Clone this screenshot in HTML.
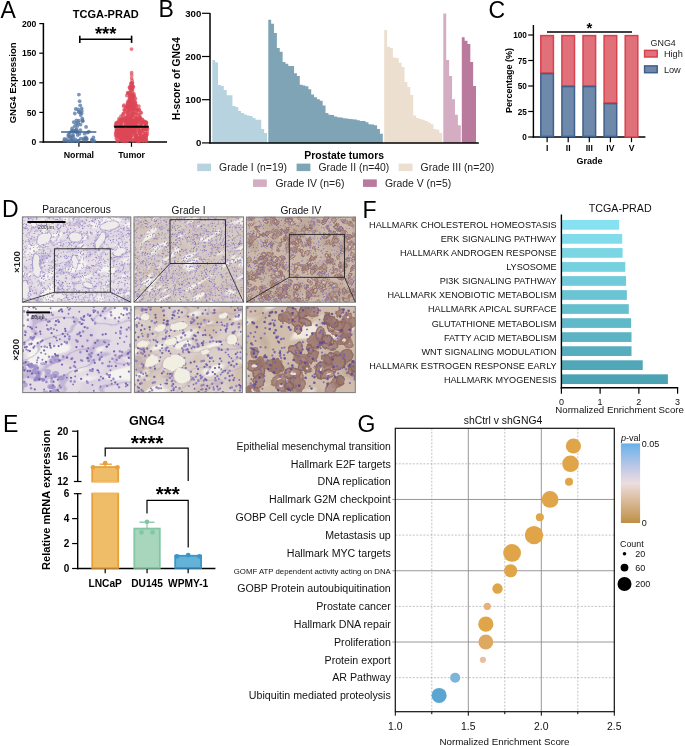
<!DOCTYPE html>
<html><head><meta charset="utf-8"><style>
html,body{margin:0;padding:0;background:#fff;}
body{width:685px;height:746px;overflow:hidden;}
svg{display:block;font-family:"Liberation Sans",sans-serif;will-change:transform;filter:blur(0.35px);}
</style></head><body>
<svg width="685" height="746" viewBox="0 0 685 746" font-family="Liberation Sans, sans-serif">
<rect width="685" height="746" fill="#fff"/>
<text x="0.50" y="18.00" font-size="23" text-anchor="start" fill="#000" >A</text>
<text x="158.50" y="17.20" font-size="23" text-anchor="start" fill="#000" >B</text>
<text x="488.50" y="18.20" font-size="23" text-anchor="start" fill="#000" >C</text>
<text x="2.00" y="217.40" font-size="23" text-anchor="start" fill="#000" >D</text>
<text x="3.00" y="431.50" font-size="23" text-anchor="start" fill="#000" >E</text>
<text x="362.50" y="217.90" font-size="23" text-anchor="start" fill="#000" >F</text>
<text x="357.50" y="431.90" font-size="23" text-anchor="start" fill="#000" >G</text>
<line x1="43.40" y1="23.00" x2="43.40" y2="142.70" stroke="#000" stroke-width="1.5" />
<line x1="42.70" y1="142.00" x2="167.00" y2="142.00" stroke="#000" stroke-width="1.5" />
<line x1="39.30" y1="142.00" x2="43.40" y2="142.00" stroke="#000" stroke-width="1.2" />
<text x="36.30" y="145.10" font-size="8.6" font-weight="bold" text-anchor="end" fill="#000" >0</text>
<line x1="39.30" y1="112.40" x2="43.40" y2="112.40" stroke="#000" stroke-width="1.2" />
<text x="36.30" y="115.50" font-size="8.6" font-weight="bold" text-anchor="end" fill="#000" >50</text>
<line x1="39.30" y1="82.80" x2="43.40" y2="82.80" stroke="#000" stroke-width="1.2" />
<text x="36.30" y="85.90" font-size="8.6" font-weight="bold" text-anchor="end" fill="#000" >100</text>
<line x1="39.30" y1="53.20" x2="43.40" y2="53.20" stroke="#000" stroke-width="1.2" />
<text x="36.30" y="56.30" font-size="8.6" font-weight="bold" text-anchor="end" fill="#000" >150</text>
<line x1="39.30" y1="23.60" x2="43.40" y2="23.60" stroke="#000" stroke-width="1.2" />
<text x="36.30" y="26.70" font-size="8.6" font-weight="bold" text-anchor="end" fill="#000" >200</text>
<line x1="78.90" y1="142.00" x2="78.90" y2="146.80" stroke="#000" stroke-width="1.2" />
<line x1="131.50" y1="142.00" x2="131.50" y2="146.80" stroke="#000" stroke-width="1.2" />
<text x="78.90" y="157.60" font-size="8.8" font-weight="bold" text-anchor="middle" fill="#000" >Normal</text>
<text x="131.70" y="157.60" font-size="8.8" font-weight="bold" text-anchor="middle" fill="#000" >Tumor</text>
<text x="105.80" y="18.00" font-size="11.0" font-weight="bold" text-anchor="middle" fill="#000" >TCGA-PRAD</text>
<text transform="translate(16.00,82.90) rotate(-90)" font-size="9.5" font-weight="bold" text-anchor="middle" fill="#000">GNG4 Expression</text>
<line x1="79.80" y1="39.30" x2="131.60" y2="39.30" stroke="#000" stroke-width="1.6" />
<line x1="79.80" y1="35.70" x2="79.80" y2="42.90" stroke="#000" stroke-width="1.6" />
<line x1="131.60" y1="35.70" x2="131.60" y2="42.90" stroke="#000" stroke-width="1.6" />
<text x="105.65" y="40.00" font-size="18.4" font-weight="bold" text-anchor="middle" fill="#000" >***</text>
<g fill="#5274a1" fill-opacity="0.75">
<circle cx="86.0" cy="139.9" r="1.9"/>
<circle cx="64.2" cy="140.7" r="1.9"/>
<circle cx="86.0" cy="138.3" r="1.9"/>
<circle cx="77.3" cy="141.1" r="1.9"/>
<circle cx="86.9" cy="138.9" r="1.9"/>
<circle cx="83.6" cy="139.7" r="1.9"/>
<circle cx="71.9" cy="141.1" r="1.9"/>
<circle cx="64.5" cy="139.0" r="1.9"/>
<circle cx="92.9" cy="141.2" r="1.9"/>
<circle cx="66.9" cy="139.4" r="1.9"/>
<circle cx="78.0" cy="141.1" r="1.9"/>
<circle cx="73.8" cy="141.0" r="1.9"/>
<circle cx="72.4" cy="139.4" r="1.9"/>
<circle cx="85.8" cy="137.5" r="1.9"/>
<circle cx="94.4" cy="140.8" r="1.9"/>
<circle cx="71.1" cy="140.4" r="1.9"/>
<circle cx="83.7" cy="138.4" r="1.9"/>
<circle cx="73.3" cy="136.9" r="1.9"/>
<circle cx="80.7" cy="138.7" r="1.9"/>
<circle cx="75.5" cy="139.5" r="1.9"/>
<circle cx="69.7" cy="136.8" r="1.9"/>
<circle cx="67.8" cy="141.2" r="1.9"/>
<circle cx="70.5" cy="137.3" r="1.9"/>
<circle cx="92.0" cy="140.0" r="1.9"/>
<circle cx="78.8" cy="140.7" r="1.9"/>
<circle cx="69.8" cy="140.9" r="1.9"/>
<circle cx="92.0" cy="139.9" r="1.9"/>
<circle cx="93.4" cy="137.5" r="1.9"/>
<circle cx="77.7" cy="135.0" r="1.9"/>
<circle cx="71.4" cy="131.2" r="1.9"/>
<circle cx="72.6" cy="130.6" r="1.9"/>
<circle cx="69.7" cy="133.1" r="1.9"/>
<circle cx="75.6" cy="131.5" r="1.9"/>
<circle cx="68.2" cy="136.1" r="1.9"/>
<circle cx="72.0" cy="136.1" r="1.9"/>
<circle cx="73.1" cy="134.7" r="1.9"/>
<circle cx="80.3" cy="130.2" r="1.9"/>
<circle cx="87.5" cy="132.6" r="1.9"/>
<circle cx="84.6" cy="133.7" r="1.9"/>
<circle cx="77.1" cy="131.1" r="1.9"/>
<circle cx="77.0" cy="132.4" r="1.9"/>
<circle cx="79.5" cy="133.8" r="1.9"/>
<circle cx="76.5" cy="129.1" r="1.9"/>
<circle cx="75.7" cy="130.1" r="1.9"/>
<circle cx="68.6" cy="134.4" r="1.9"/>
<circle cx="74.2" cy="131.2" r="1.9"/>
<circle cx="88.9" cy="131.7" r="1.9"/>
<circle cx="72.1" cy="128.4" r="1.9"/>
<circle cx="78.9" cy="120.7" r="1.9"/>
<circle cx="80.5" cy="124.6" r="1.9"/>
<circle cx="82.2" cy="118.5" r="1.9"/>
<circle cx="74.7" cy="126.2" r="1.9"/>
<circle cx="76.2" cy="123.5" r="1.9"/>
<circle cx="76.4" cy="120.5" r="1.9"/>
<circle cx="77.5" cy="125.9" r="1.9"/>
<circle cx="78.3" cy="122.9" r="1.9"/>
<circle cx="86.1" cy="126.9" r="1.9"/>
<circle cx="82.6" cy="121.3" r="1.9"/>
<circle cx="82.7" cy="120.4" r="1.9"/>
<circle cx="73.7" cy="122.1" r="1.9"/>
<circle cx="75.8" cy="109.0" r="1.9"/>
<circle cx="80.7" cy="115.0" r="1.9"/>
<circle cx="81.8" cy="110.9" r="1.9"/>
<circle cx="78.7" cy="112.0" r="1.9"/>
<circle cx="79.6" cy="112.1" r="1.9"/>
<circle cx="74.8" cy="113.5" r="1.9"/>
<circle cx="78.2" cy="109.4" r="1.9"/>
<circle cx="81.6" cy="108.3" r="1.9"/>
<circle cx="81.6" cy="113.3" r="1.9"/>
<circle cx="80.2" cy="105.3" r="1.9"/>
<circle cx="79.6" cy="101.2" r="1.9"/>
<circle cx="78.9" cy="94.6" r="1.9"/>
</g>
<g fill="#dd4755" fill-opacity="0.7">
<circle cx="118.7" cy="126.1" r="1.9"/>
<circle cx="120.9" cy="140.0" r="1.9"/>
<circle cx="132.2" cy="125.2" r="1.9"/>
<circle cx="137.5" cy="126.5" r="1.9"/>
<circle cx="140.6" cy="118.5" r="1.9"/>
<circle cx="138.1" cy="122.4" r="1.9"/>
<circle cx="136.2" cy="134.8" r="1.9"/>
<circle cx="140.1" cy="132.5" r="1.9"/>
<circle cx="130.1" cy="126.0" r="1.9"/>
<circle cx="133.1" cy="140.9" r="1.9"/>
<circle cx="116.6" cy="130.7" r="1.9"/>
<circle cx="140.4" cy="137.5" r="1.9"/>
<circle cx="123.2" cy="138.7" r="1.9"/>
<circle cx="144.4" cy="140.0" r="1.9"/>
<circle cx="136.2" cy="123.7" r="1.9"/>
<circle cx="125.4" cy="138.4" r="1.9"/>
<circle cx="119.6" cy="135.7" r="1.9"/>
<circle cx="123.5" cy="132.4" r="1.9"/>
<circle cx="135.3" cy="121.3" r="1.9"/>
<circle cx="137.6" cy="139.5" r="1.9"/>
<circle cx="118.9" cy="131.0" r="1.9"/>
<circle cx="117.5" cy="128.7" r="1.9"/>
<circle cx="132.2" cy="121.0" r="1.9"/>
<circle cx="134.0" cy="122.5" r="1.9"/>
<circle cx="128.3" cy="121.5" r="1.9"/>
<circle cx="122.6" cy="135.0" r="1.9"/>
<circle cx="134.8" cy="131.8" r="1.9"/>
<circle cx="115.7" cy="133.1" r="1.9"/>
<circle cx="126.0" cy="121.0" r="1.9"/>
<circle cx="130.9" cy="119.3" r="1.9"/>
<circle cx="145.9" cy="137.9" r="1.9"/>
<circle cx="136.1" cy="137.3" r="1.9"/>
<circle cx="143.8" cy="136.1" r="1.9"/>
<circle cx="130.7" cy="136.0" r="1.9"/>
<circle cx="122.9" cy="130.2" r="1.9"/>
<circle cx="123.2" cy="127.8" r="1.9"/>
<circle cx="146.3" cy="135.3" r="1.9"/>
<circle cx="137.7" cy="141.3" r="1.9"/>
<circle cx="125.3" cy="131.7" r="1.9"/>
<circle cx="116.1" cy="132.9" r="1.9"/>
<circle cx="131.4" cy="128.3" r="1.9"/>
<circle cx="134.3" cy="119.4" r="1.9"/>
<circle cx="128.9" cy="125.5" r="1.9"/>
<circle cx="123.6" cy="129.5" r="1.9"/>
<circle cx="137.0" cy="127.1" r="1.9"/>
<circle cx="145.5" cy="125.8" r="1.9"/>
<circle cx="123.1" cy="140.2" r="1.9"/>
<circle cx="118.9" cy="120.6" r="1.9"/>
<circle cx="126.4" cy="123.4" r="1.9"/>
<circle cx="129.3" cy="121.2" r="1.9"/>
<circle cx="137.1" cy="123.0" r="1.9"/>
<circle cx="121.7" cy="132.3" r="1.9"/>
<circle cx="141.1" cy="132.2" r="1.9"/>
<circle cx="138.9" cy="139.0" r="1.9"/>
<circle cx="131.7" cy="126.8" r="1.9"/>
<circle cx="122.5" cy="140.0" r="1.9"/>
<circle cx="145.9" cy="139.9" r="1.9"/>
<circle cx="125.5" cy="136.6" r="1.9"/>
<circle cx="141.6" cy="137.7" r="1.9"/>
<circle cx="122.8" cy="133.6" r="1.9"/>
<circle cx="123.0" cy="140.2" r="1.9"/>
<circle cx="139.4" cy="141.4" r="1.9"/>
<circle cx="125.1" cy="137.9" r="1.9"/>
<circle cx="145.5" cy="139.1" r="1.9"/>
<circle cx="131.4" cy="133.0" r="1.9"/>
<circle cx="122.0" cy="140.8" r="1.9"/>
<circle cx="123.8" cy="121.2" r="1.9"/>
<circle cx="128.8" cy="127.2" r="1.9"/>
<circle cx="136.7" cy="138.0" r="1.9"/>
<circle cx="145.9" cy="135.6" r="1.9"/>
<circle cx="120.1" cy="133.4" r="1.9"/>
<circle cx="128.1" cy="133.0" r="1.9"/>
<circle cx="122.6" cy="138.6" r="1.9"/>
<circle cx="145.2" cy="121.8" r="1.9"/>
<circle cx="125.1" cy="118.5" r="1.9"/>
<circle cx="117.0" cy="130.6" r="1.9"/>
<circle cx="117.2" cy="130.2" r="1.9"/>
<circle cx="128.2" cy="139.4" r="1.9"/>
<circle cx="143.8" cy="139.0" r="1.9"/>
<circle cx="143.9" cy="133.5" r="1.9"/>
<circle cx="139.0" cy="135.3" r="1.9"/>
<circle cx="146.3" cy="122.3" r="1.9"/>
<circle cx="145.1" cy="137.7" r="1.9"/>
<circle cx="126.3" cy="140.9" r="1.9"/>
<circle cx="125.8" cy="119.5" r="1.9"/>
<circle cx="145.7" cy="129.2" r="1.9"/>
<circle cx="139.2" cy="138.0" r="1.9"/>
<circle cx="116.2" cy="128.9" r="1.9"/>
<circle cx="136.5" cy="140.8" r="1.9"/>
<circle cx="127.5" cy="129.2" r="1.9"/>
<circle cx="129.6" cy="118.8" r="1.9"/>
<circle cx="126.7" cy="121.5" r="1.9"/>
<circle cx="120.6" cy="125.3" r="1.9"/>
<circle cx="115.6" cy="135.4" r="1.9"/>
<circle cx="124.4" cy="132.9" r="1.9"/>
<circle cx="126.8" cy="137.6" r="1.9"/>
<circle cx="146.0" cy="123.6" r="1.9"/>
<circle cx="119.2" cy="129.1" r="1.9"/>
<circle cx="146.2" cy="123.4" r="1.9"/>
<circle cx="122.1" cy="133.8" r="1.9"/>
<circle cx="126.9" cy="136.3" r="1.9"/>
<circle cx="141.3" cy="122.7" r="1.9"/>
<circle cx="137.1" cy="118.7" r="1.9"/>
<circle cx="129.6" cy="121.7" r="1.9"/>
<circle cx="117.7" cy="122.8" r="1.9"/>
<circle cx="130.7" cy="122.5" r="1.9"/>
<circle cx="127.3" cy="124.3" r="1.9"/>
<circle cx="144.9" cy="136.2" r="1.9"/>
<circle cx="121.5" cy="129.5" r="1.9"/>
<circle cx="127.1" cy="133.2" r="1.9"/>
<circle cx="143.6" cy="140.7" r="1.9"/>
<circle cx="117.2" cy="140.8" r="1.9"/>
<circle cx="128.6" cy="135.0" r="1.9"/>
<circle cx="141.5" cy="135.4" r="1.9"/>
<circle cx="140.3" cy="125.4" r="1.9"/>
<circle cx="121.2" cy="119.3" r="1.9"/>
<circle cx="116.4" cy="131.1" r="1.9"/>
<circle cx="120.2" cy="119.8" r="1.9"/>
<circle cx="139.8" cy="118.6" r="1.9"/>
<circle cx="127.4" cy="119.4" r="1.9"/>
<circle cx="139.5" cy="133.0" r="1.9"/>
<circle cx="144.2" cy="136.3" r="1.9"/>
<circle cx="126.4" cy="136.2" r="1.9"/>
<circle cx="124.3" cy="136.9" r="1.9"/>
<circle cx="146.1" cy="136.7" r="1.9"/>
<circle cx="135.3" cy="127.0" r="1.9"/>
<circle cx="125.1" cy="120.6" r="1.9"/>
<circle cx="137.8" cy="122.0" r="1.9"/>
<circle cx="125.5" cy="130.3" r="1.9"/>
<circle cx="124.1" cy="126.3" r="1.9"/>
<circle cx="116.2" cy="122.9" r="1.9"/>
<circle cx="139.4" cy="139.5" r="1.9"/>
<circle cx="145.2" cy="126.2" r="1.9"/>
<circle cx="135.1" cy="120.4" r="1.9"/>
<circle cx="145.5" cy="123.3" r="1.9"/>
<circle cx="115.9" cy="124.1" r="1.9"/>
<circle cx="122.9" cy="130.4" r="1.9"/>
<circle cx="130.7" cy="137.3" r="1.9"/>
<circle cx="145.8" cy="123.2" r="1.9"/>
<circle cx="146.1" cy="133.7" r="1.9"/>
<circle cx="128.0" cy="122.9" r="1.9"/>
<circle cx="127.4" cy="119.0" r="1.9"/>
<circle cx="129.2" cy="132.3" r="1.9"/>
<circle cx="131.3" cy="132.1" r="1.9"/>
<circle cx="142.4" cy="119.5" r="1.9"/>
<circle cx="121.0" cy="124.7" r="1.9"/>
<circle cx="141.0" cy="137.5" r="1.9"/>
<circle cx="138.9" cy="138.5" r="1.9"/>
<circle cx="141.6" cy="137.9" r="1.9"/>
<circle cx="138.8" cy="120.5" r="1.9"/>
<circle cx="134.8" cy="122.8" r="1.9"/>
<circle cx="126.1" cy="138.0" r="1.9"/>
<circle cx="126.1" cy="122.3" r="1.9"/>
<circle cx="129.4" cy="118.8" r="1.9"/>
<circle cx="140.8" cy="126.2" r="1.9"/>
<circle cx="117.9" cy="133.3" r="1.9"/>
<circle cx="121.6" cy="128.7" r="1.9"/>
<circle cx="139.4" cy="138.4" r="1.9"/>
<circle cx="123.8" cy="141.1" r="1.9"/>
<circle cx="122.4" cy="119.0" r="1.9"/>
<circle cx="116.2" cy="126.4" r="1.9"/>
<circle cx="133.2" cy="129.3" r="1.9"/>
<circle cx="127.0" cy="119.9" r="1.9"/>
<circle cx="147.1" cy="131.4" r="1.9"/>
<circle cx="142.2" cy="121.3" r="1.9"/>
<circle cx="146.0" cy="122.3" r="1.9"/>
<circle cx="124.0" cy="136.5" r="1.9"/>
<circle cx="118.2" cy="135.6" r="1.9"/>
<circle cx="118.5" cy="134.6" r="1.9"/>
<circle cx="131.5" cy="135.9" r="1.9"/>
<circle cx="138.4" cy="127.9" r="1.9"/>
<circle cx="129.8" cy="135.4" r="1.9"/>
<circle cx="122.9" cy="131.7" r="1.9"/>
<circle cx="128.9" cy="138.4" r="1.9"/>
<circle cx="134.7" cy="120.4" r="1.9"/>
<circle cx="137.1" cy="133.2" r="1.9"/>
<circle cx="139.5" cy="130.8" r="1.9"/>
<circle cx="142.8" cy="127.9" r="1.9"/>
<circle cx="135.9" cy="120.5" r="1.9"/>
<circle cx="119.2" cy="131.7" r="1.9"/>
<circle cx="140.5" cy="120.2" r="1.9"/>
<circle cx="124.8" cy="129.8" r="1.9"/>
<circle cx="133.7" cy="129.1" r="1.9"/>
<circle cx="127.4" cy="129.3" r="1.9"/>
<circle cx="138.7" cy="141.0" r="1.9"/>
<circle cx="121.8" cy="131.2" r="1.9"/>
<circle cx="123.5" cy="137.2" r="1.9"/>
<circle cx="123.8" cy="141.3" r="1.9"/>
<circle cx="120.8" cy="123.0" r="1.9"/>
<circle cx="143.6" cy="137.4" r="1.9"/>
<circle cx="134.0" cy="130.5" r="1.9"/>
<circle cx="125.8" cy="124.7" r="1.9"/>
<circle cx="128.1" cy="128.6" r="1.9"/>
<circle cx="147.3" cy="133.9" r="1.9"/>
<circle cx="131.7" cy="129.4" r="1.9"/>
<circle cx="122.7" cy="128.6" r="1.9"/>
<circle cx="141.2" cy="123.3" r="1.9"/>
<circle cx="136.3" cy="139.0" r="1.9"/>
<circle cx="147.5" cy="128.5" r="1.9"/>
<circle cx="118.8" cy="135.7" r="1.9"/>
<circle cx="130.7" cy="135.0" r="1.9"/>
<circle cx="141.7" cy="123.6" r="1.9"/>
<circle cx="142.6" cy="129.7" r="1.9"/>
<circle cx="145.0" cy="128.4" r="1.9"/>
<circle cx="116.6" cy="123.9" r="1.9"/>
<circle cx="126.0" cy="120.3" r="1.9"/>
<circle cx="119.2" cy="131.2" r="1.9"/>
<circle cx="121.3" cy="127.3" r="1.9"/>
<circle cx="146.9" cy="129.7" r="1.9"/>
<circle cx="134.2" cy="129.6" r="1.9"/>
<circle cx="145.7" cy="125.4" r="1.9"/>
<circle cx="127.4" cy="131.0" r="1.9"/>
<circle cx="143.4" cy="129.1" r="1.9"/>
<circle cx="129.8" cy="130.4" r="1.9"/>
<circle cx="125.3" cy="119.7" r="1.9"/>
<circle cx="140.6" cy="125.3" r="1.9"/>
<circle cx="143.9" cy="121.2" r="1.9"/>
<circle cx="121.4" cy="119.7" r="1.9"/>
<circle cx="134.6" cy="135.4" r="1.9"/>
<circle cx="135.4" cy="128.5" r="1.9"/>
<circle cx="124.3" cy="119.6" r="1.9"/>
<circle cx="127.7" cy="122.0" r="1.9"/>
<circle cx="120.3" cy="138.2" r="1.9"/>
<circle cx="122.3" cy="138.6" r="1.9"/>
<circle cx="123.6" cy="131.2" r="1.9"/>
<circle cx="134.6" cy="139.7" r="1.9"/>
<circle cx="136.4" cy="135.9" r="1.9"/>
<circle cx="122.4" cy="139.7" r="1.9"/>
<circle cx="115.4" cy="126.0" r="1.9"/>
<circle cx="126.1" cy="123.3" r="1.9"/>
<circle cx="136.3" cy="120.7" r="1.9"/>
<circle cx="121.6" cy="137.8" r="1.9"/>
<circle cx="125.3" cy="124.9" r="1.9"/>
<circle cx="121.8" cy="126.2" r="1.9"/>
<circle cx="140.7" cy="138.1" r="1.9"/>
<circle cx="132.8" cy="121.0" r="1.9"/>
<circle cx="122.3" cy="119.1" r="1.9"/>
<circle cx="118.8" cy="136.3" r="1.9"/>
<circle cx="129.9" cy="119.4" r="1.9"/>
<circle cx="133.1" cy="132.2" r="1.9"/>
<circle cx="136.0" cy="130.2" r="1.9"/>
<circle cx="123.6" cy="118.6" r="1.9"/>
<circle cx="121.6" cy="122.2" r="1.9"/>
<circle cx="137.6" cy="137.7" r="1.9"/>
<circle cx="128.6" cy="131.4" r="1.9"/>
<circle cx="124.4" cy="129.5" r="1.9"/>
<circle cx="125.3" cy="133.6" r="1.9"/>
<circle cx="145.9" cy="136.9" r="1.9"/>
<circle cx="125.5" cy="134.1" r="1.9"/>
<circle cx="133.7" cy="124.7" r="1.9"/>
<circle cx="127.2" cy="141.0" r="1.9"/>
<circle cx="128.8" cy="128.6" r="1.9"/>
<circle cx="143.3" cy="131.2" r="1.9"/>
<circle cx="146.6" cy="141.0" r="1.9"/>
<circle cx="127.1" cy="133.8" r="1.9"/>
<circle cx="121.6" cy="127.0" r="1.9"/>
<circle cx="138.9" cy="129.6" r="1.9"/>
<circle cx="122.4" cy="139.9" r="1.9"/>
<circle cx="119.1" cy="118.7" r="1.9"/>
<circle cx="144.1" cy="123.2" r="1.9"/>
<circle cx="130.4" cy="119.0" r="1.9"/>
<circle cx="141.4" cy="139.0" r="1.9"/>
<circle cx="128.5" cy="135.3" r="1.9"/>
<circle cx="143.2" cy="140.5" r="1.9"/>
<circle cx="130.3" cy="123.4" r="1.9"/>
<circle cx="120.7" cy="135.2" r="1.9"/>
<circle cx="116.4" cy="138.4" r="1.9"/>
<circle cx="133.2" cy="131.7" r="1.9"/>
<circle cx="135.3" cy="120.4" r="1.9"/>
<circle cx="143.8" cy="122.5" r="1.9"/>
<circle cx="118.3" cy="135.4" r="1.9"/>
<circle cx="135.3" cy="138.0" r="1.9"/>
<circle cx="128.1" cy="120.2" r="1.9"/>
<circle cx="131.6" cy="128.2" r="1.9"/>
<circle cx="119.8" cy="125.2" r="1.9"/>
<circle cx="124.8" cy="139.3" r="1.9"/>
<circle cx="132.1" cy="140.1" r="1.9"/>
<circle cx="145.5" cy="125.5" r="1.9"/>
<circle cx="118.8" cy="131.6" r="1.9"/>
<circle cx="131.2" cy="139.7" r="1.9"/>
<circle cx="139.4" cy="119.7" r="1.9"/>
<circle cx="146.8" cy="126.8" r="1.9"/>
<circle cx="122.2" cy="122.9" r="1.9"/>
<circle cx="120.0" cy="139.5" r="1.9"/>
<circle cx="144.2" cy="121.6" r="1.9"/>
<circle cx="146.1" cy="139.9" r="1.9"/>
<circle cx="131.0" cy="121.5" r="1.9"/>
<circle cx="117.0" cy="130.9" r="1.9"/>
<circle cx="145.2" cy="133.6" r="1.9"/>
<circle cx="127.8" cy="128.6" r="1.9"/>
<circle cx="142.1" cy="120.0" r="1.9"/>
<circle cx="135.4" cy="135.2" r="1.9"/>
<circle cx="141.6" cy="138.4" r="1.9"/>
<circle cx="120.4" cy="129.2" r="1.9"/>
<circle cx="140.7" cy="135.9" r="1.9"/>
<circle cx="122.9" cy="138.9" r="1.9"/>
<circle cx="128.5" cy="137.7" r="1.9"/>
<circle cx="142.1" cy="140.2" r="1.9"/>
<circle cx="142.0" cy="136.7" r="1.9"/>
<circle cx="121.3" cy="134.2" r="1.9"/>
<circle cx="122.4" cy="134.4" r="1.9"/>
<circle cx="128.3" cy="123.9" r="1.9"/>
<circle cx="132.1" cy="134.7" r="1.9"/>
<circle cx="127.7" cy="129.9" r="1.9"/>
<circle cx="119.6" cy="137.3" r="1.9"/>
<circle cx="123.3" cy="133.4" r="1.9"/>
<circle cx="138.3" cy="141.0" r="1.9"/>
<circle cx="144.2" cy="135.6" r="1.9"/>
<circle cx="117.6" cy="141.1" r="1.9"/>
<circle cx="133.6" cy="124.5" r="1.9"/>
<circle cx="139.9" cy="128.7" r="1.9"/>
<circle cx="116.9" cy="137.0" r="1.9"/>
<circle cx="142.5" cy="130.4" r="1.9"/>
<circle cx="121.6" cy="119.8" r="1.9"/>
<circle cx="134.6" cy="139.0" r="1.9"/>
<circle cx="133.0" cy="122.5" r="1.9"/>
<circle cx="135.6" cy="131.4" r="1.9"/>
<circle cx="125.2" cy="130.0" r="1.9"/>
<circle cx="129.1" cy="122.1" r="1.9"/>
<circle cx="134.2" cy="132.3" r="1.9"/>
<circle cx="129.1" cy="129.7" r="1.9"/>
<circle cx="136.7" cy="125.5" r="1.9"/>
<circle cx="130.7" cy="118.7" r="1.9"/>
<circle cx="129.5" cy="133.5" r="1.9"/>
<circle cx="117.4" cy="122.2" r="1.9"/>
<circle cx="135.4" cy="125.1" r="1.9"/>
<circle cx="131.2" cy="126.7" r="1.9"/>
<circle cx="122.9" cy="132.1" r="1.9"/>
<circle cx="140.0" cy="133.4" r="1.9"/>
<circle cx="140.1" cy="140.2" r="1.9"/>
<circle cx="130.2" cy="138.4" r="1.9"/>
<circle cx="121.6" cy="139.8" r="1.9"/>
<circle cx="130.6" cy="124.3" r="1.9"/>
<circle cx="118.9" cy="135.5" r="1.9"/>
<circle cx="119.8" cy="137.6" r="1.9"/>
<circle cx="129.4" cy="139.5" r="1.9"/>
<circle cx="119.6" cy="122.0" r="1.9"/>
<circle cx="129.9" cy="121.3" r="1.9"/>
<circle cx="131.8" cy="125.9" r="1.9"/>
<circle cx="116.8" cy="134.9" r="1.9"/>
<circle cx="135.9" cy="135.8" r="1.9"/>
<circle cx="118.1" cy="134.6" r="1.9"/>
<circle cx="139.1" cy="130.8" r="1.9"/>
<circle cx="140.2" cy="137.8" r="1.9"/>
<circle cx="131.9" cy="131.1" r="1.9"/>
<circle cx="117.2" cy="135.3" r="1.9"/>
<circle cx="131.6" cy="119.2" r="1.9"/>
<circle cx="129.6" cy="119.0" r="1.9"/>
<circle cx="146.2" cy="128.8" r="1.9"/>
<circle cx="119.8" cy="135.8" r="1.9"/>
<circle cx="134.7" cy="101.2" r="1.9"/>
<circle cx="141.3" cy="112.8" r="1.9"/>
<circle cx="134.3" cy="112.0" r="1.9"/>
<circle cx="136.8" cy="118.3" r="1.9"/>
<circle cx="127.7" cy="111.5" r="1.9"/>
<circle cx="139.1" cy="109.9" r="1.9"/>
<circle cx="131.4" cy="109.4" r="1.9"/>
<circle cx="139.7" cy="114.8" r="1.9"/>
<circle cx="136.9" cy="109.4" r="1.9"/>
<circle cx="125.7" cy="118.2" r="1.9"/>
<circle cx="135.4" cy="113.6" r="1.9"/>
<circle cx="139.3" cy="116.7" r="1.9"/>
<circle cx="125.1" cy="111.2" r="1.9"/>
<circle cx="129.4" cy="117.6" r="1.9"/>
<circle cx="135.5" cy="117.9" r="1.9"/>
<circle cx="126.8" cy="112.9" r="1.9"/>
<circle cx="137.7" cy="114.2" r="1.9"/>
<circle cx="129.2" cy="107.9" r="1.9"/>
<circle cx="135.1" cy="108.9" r="1.9"/>
<circle cx="127.8" cy="105.0" r="1.9"/>
<circle cx="131.5" cy="106.6" r="1.9"/>
<circle cx="136.4" cy="105.6" r="1.9"/>
<circle cx="128.9" cy="102.7" r="1.9"/>
<circle cx="128.7" cy="111.4" r="1.9"/>
<circle cx="131.6" cy="112.5" r="1.9"/>
<circle cx="130.1" cy="100.8" r="1.9"/>
<circle cx="122.8" cy="115.7" r="1.9"/>
<circle cx="128.3" cy="105.5" r="1.9"/>
<circle cx="127.8" cy="106.9" r="1.9"/>
<circle cx="139.9" cy="117.5" r="1.9"/>
<circle cx="133.0" cy="103.5" r="1.9"/>
<circle cx="135.4" cy="102.5" r="1.9"/>
<circle cx="127.9" cy="107.2" r="1.9"/>
<circle cx="134.3" cy="105.3" r="1.9"/>
<circle cx="127.5" cy="103.9" r="1.9"/>
<circle cx="131.9" cy="115.8" r="1.9"/>
<circle cx="132.8" cy="109.0" r="1.9"/>
<circle cx="130.1" cy="109.4" r="1.9"/>
<circle cx="135.2" cy="103.5" r="1.9"/>
<circle cx="131.9" cy="104.0" r="1.9"/>
<circle cx="132.1" cy="103.6" r="1.9"/>
<circle cx="136.0" cy="107.9" r="1.9"/>
<circle cx="127.6" cy="102.5" r="1.9"/>
<circle cx="138.8" cy="106.2" r="1.9"/>
<circle cx="132.6" cy="106.0" r="1.9"/>
<circle cx="130.2" cy="114.2" r="1.9"/>
<circle cx="136.3" cy="117.8" r="1.9"/>
<circle cx="128.2" cy="116.0" r="1.9"/>
<circle cx="140.4" cy="111.9" r="1.9"/>
<circle cx="132.5" cy="116.5" r="1.9"/>
<circle cx="130.4" cy="103.5" r="1.9"/>
<circle cx="134.3" cy="108.4" r="1.9"/>
<circle cx="131.0" cy="107.2" r="1.9"/>
<circle cx="128.0" cy="107.2" r="1.9"/>
<circle cx="133.9" cy="106.2" r="1.9"/>
<circle cx="125.1" cy="109.6" r="1.9"/>
<circle cx="136.9" cy="118.3" r="1.9"/>
<circle cx="129.3" cy="104.2" r="1.9"/>
<circle cx="132.7" cy="105.0" r="1.9"/>
<circle cx="139.0" cy="109.4" r="1.9"/>
<circle cx="132.3" cy="108.8" r="1.9"/>
<circle cx="133.0" cy="106.6" r="1.9"/>
<circle cx="128.9" cy="117.1" r="1.9"/>
<circle cx="124.0" cy="105.2" r="1.9"/>
<circle cx="123.2" cy="113.8" r="1.9"/>
<circle cx="125.8" cy="117.0" r="1.9"/>
<circle cx="132.9" cy="113.6" r="1.9"/>
<circle cx="130.9" cy="105.4" r="1.9"/>
<circle cx="131.6" cy="114.7" r="1.9"/>
<circle cx="135.8" cy="105.2" r="1.9"/>
<circle cx="128.2" cy="101.0" r="1.9"/>
<circle cx="128.5" cy="109.5" r="1.9"/>
<circle cx="133.2" cy="111.5" r="1.9"/>
<circle cx="124.1" cy="109.8" r="1.9"/>
<circle cx="123.8" cy="106.2" r="1.9"/>
<circle cx="130.3" cy="104.7" r="1.9"/>
<circle cx="126.9" cy="107.4" r="1.9"/>
<circle cx="130.2" cy="106.9" r="1.9"/>
<circle cx="127.4" cy="116.9" r="1.9"/>
<circle cx="132.5" cy="115.7" r="1.9"/>
<circle cx="132.5" cy="113.8" r="1.9"/>
<circle cx="128.6" cy="105.1" r="1.9"/>
<circle cx="132.9" cy="112.9" r="1.9"/>
<circle cx="131.3" cy="108.2" r="1.9"/>
<circle cx="125.0" cy="118.1" r="1.9"/>
<circle cx="139.7" cy="117.2" r="1.9"/>
<circle cx="128.2" cy="113.5" r="1.9"/>
<circle cx="127.7" cy="106.4" r="1.9"/>
<circle cx="126.9" cy="106.0" r="1.9"/>
<circle cx="132.7" cy="106.3" r="1.9"/>
<circle cx="136.9" cy="113.2" r="1.9"/>
<circle cx="134.6" cy="109.1" r="1.9"/>
<circle cx="130.5" cy="110.1" r="1.9"/>
<circle cx="128.9" cy="110.0" r="1.9"/>
<circle cx="121.1" cy="116.2" r="1.9"/>
<circle cx="132.6" cy="102.4" r="1.9"/>
<circle cx="132.2" cy="114.8" r="1.9"/>
<circle cx="130.4" cy="100.9" r="1.9"/>
<circle cx="132.6" cy="101.7" r="1.9"/>
<circle cx="130.7" cy="118.0" r="1.9"/>
<circle cx="137.6" cy="110.2" r="1.9"/>
<circle cx="133.5" cy="103.8" r="1.9"/>
<circle cx="129.5" cy="101.1" r="1.9"/>
<circle cx="136.9" cy="110.3" r="1.9"/>
<circle cx="123.7" cy="113.5" r="1.9"/>
<circle cx="131.9" cy="114.6" r="1.9"/>
<circle cx="130.8" cy="101.5" r="1.9"/>
<circle cx="127.9" cy="114.6" r="1.9"/>
<circle cx="125.7" cy="108.0" r="1.9"/>
<circle cx="135.5" cy="115.8" r="1.9"/>
<circle cx="127.8" cy="92.8" r="1.9"/>
<circle cx="131.6" cy="86.5" r="1.9"/>
<circle cx="135.5" cy="98.6" r="1.9"/>
<circle cx="130.1" cy="88.4" r="1.9"/>
<circle cx="129.9" cy="93.0" r="1.9"/>
<circle cx="131.8" cy="87.4" r="1.9"/>
<circle cx="131.5" cy="90.2" r="1.9"/>
<circle cx="132.4" cy="97.1" r="1.9"/>
<circle cx="132.6" cy="87.3" r="1.9"/>
<circle cx="129.6" cy="93.4" r="1.9"/>
<circle cx="130.1" cy="100.2" r="1.9"/>
<circle cx="130.0" cy="100.5" r="1.9"/>
<circle cx="128.4" cy="93.3" r="1.9"/>
<circle cx="134.0" cy="93.9" r="1.9"/>
<circle cx="133.3" cy="96.1" r="1.9"/>
<circle cx="133.0" cy="98.5" r="1.9"/>
<circle cx="126.9" cy="95.5" r="1.9"/>
<circle cx="133.8" cy="95.9" r="1.9"/>
<circle cx="132.4" cy="88.1" r="1.9"/>
<circle cx="131.3" cy="100.5" r="1.9"/>
<circle cx="132.4" cy="89.4" r="1.9"/>
<circle cx="131.4" cy="88.1" r="1.9"/>
<circle cx="129.5" cy="98.8" r="1.9"/>
<circle cx="130.1" cy="86.8" r="1.9"/>
<circle cx="130.4" cy="90.0" r="1.9"/>
<circle cx="129.5" cy="87.2" r="1.9"/>
<circle cx="130.5" cy="96.3" r="1.9"/>
<circle cx="133.0" cy="95.1" r="1.9"/>
<circle cx="132.6" cy="94.7" r="1.9"/>
<circle cx="132.5" cy="85.8" r="1.9"/>
<circle cx="132.5" cy="91.8" r="1.9"/>
<circle cx="130.1" cy="95.2" r="1.9"/>
<circle cx="131.8" cy="94.2" r="1.9"/>
<circle cx="131.1" cy="96.5" r="1.9"/>
<circle cx="133.8" cy="99.8" r="1.9"/>
<circle cx="131.6" cy="99.1" r="1.9"/>
<circle cx="130.7" cy="88.2" r="1.9"/>
<circle cx="132.3" cy="96.3" r="1.9"/>
<circle cx="133.4" cy="86.7" r="1.9"/>
<circle cx="129.6" cy="96.9" r="1.9"/>
<circle cx="134.3" cy="96.6" r="1.9"/>
<circle cx="127.9" cy="93.0" r="1.9"/>
<circle cx="129.9" cy="97.8" r="1.9"/>
<circle cx="129.9" cy="95.0" r="1.9"/>
<circle cx="132.2" cy="86.4" r="1.9"/>
<circle cx="132.4" cy="83.1" r="1.9"/>
<circle cx="131.9" cy="83.4" r="1.9"/>
<circle cx="131.2" cy="83.9" r="1.9"/>
<circle cx="132.1" cy="83.1" r="1.9"/>
<circle cx="131.3" cy="83.0" r="1.9"/>
<circle cx="131.0" cy="84.1" r="1.9"/>
<circle cx="132.1" cy="80.4" r="1.9"/>
<circle cx="131.6" cy="78.1" r="1.9"/>
<circle cx="131.7" cy="75.1" r="1.9"/>
<circle cx="131.6" cy="72.7" r="1.9"/>
<circle cx="131.5" cy="49.1" r="1.9"/>
</g>
<line x1="61.10" y1="132.10" x2="96.30" y2="132.10" stroke="#3f6596" stroke-width="1.5" />
<line x1="114.20" y1="126.80" x2="148.70" y2="126.80" stroke="#000" stroke-width="2.0" />
<path d="M212.30,142.9 L212.30,60.05 L215.18,60.05 L215.18,62.30 L218.06,62.30 L218.06,85.10 L220.94,85.10 L220.94,86.00 L223.82,86.00 L223.82,90.00 L226.70,90.00 L226.70,95.30 L229.58,95.30 L229.58,95.30 L232.46,95.30 L232.46,106.00 L235.34,106.00 L235.34,107.00 L238.22,107.00 L238.22,111.00 L241.10,111.00 L241.10,113.00 L243.98,113.00 L243.98,114.60 L246.86,114.60 L246.86,115.40 L249.74,115.40 L249.74,116.00 L252.62,116.00 L252.62,118.00 L255.50,118.00 L255.50,119.70 L258.38,119.70 L258.38,119.70 L261.26,119.70 L261.26,129.00 L264.14,129.00 L264.14,133.00 L267.02,133.00 L267.02,142.9 Z" fill="#b8d3e0"/>
<path d="M268.30,142.9 L268.30,19.80 L271.16,19.80 L271.16,23.70 L274.02,23.70 L274.02,33.00 L276.89,33.00 L276.89,47.90 L279.75,47.90 L279.75,51.70 L282.61,51.70 L282.61,62.00 L285.47,62.00 L285.47,63.80 L288.33,63.80 L288.33,65.90 L291.20,65.90 L291.20,65.90 L294.06,65.90 L294.06,73.20 L296.92,73.20 L296.92,76.00 L299.78,76.00 L299.78,84.70 L302.64,84.70 L302.64,85.60 L305.51,85.60 L305.51,86.20 L308.37,86.20 L308.37,89.20 L311.23,89.20 L311.23,94.60 L314.09,94.60 L314.09,97.20 L316.95,97.20 L316.95,99.20 L319.82,99.20 L319.82,100.80 L322.68,100.80 L322.68,105.50 L325.54,105.50 L325.54,113.00 L328.40,113.00 L328.40,114.70 L331.26,114.70 L331.26,115.00 L334.13,115.00 L334.13,116.50 L336.99,116.50 L336.99,117.20 L339.85,117.20 L339.85,117.60 L342.71,117.60 L342.71,118.30 L345.57,118.30 L345.57,118.60 L348.44,118.60 L348.44,118.90 L351.30,118.90 L351.30,119.20 L354.16,119.20 L354.16,119.60 L357.02,119.60 L357.02,120.20 L359.88,120.20 L359.88,120.90 L362.75,120.90 L362.75,121.00 L365.61,121.00 L365.61,122.20 L368.47,122.20 L368.47,124.20 L371.33,124.20 L371.33,124.60 L374.19,124.60 L374.19,125.20 L377.06,125.20 L377.06,129.00 L379.92,129.00 L379.92,133.80 L382.78,133.80 L382.78,142.9 Z" fill="#7ea4b6"/>
<path d="M384.20,142.9 L384.20,30.10 L387.10,30.10 L387.10,46.70 L390.00,46.70 L390.00,47.90 L392.90,47.90 L392.90,57.50 L395.80,57.50 L395.80,58.00 L398.70,58.00 L398.70,62.70 L401.60,62.70 L401.60,67.00 L404.50,67.00 L404.50,81.90 L407.40,81.90 L407.40,87.10 L410.30,87.10 L410.30,94.90 L413.20,94.90 L413.20,115.50 L416.10,115.50 L416.10,117.90 L419.00,117.90 L419.00,119.00 L421.90,119.00 L421.90,119.70 L424.80,119.70 L424.80,121.10 L427.70,121.10 L427.70,122.50 L430.60,122.50 L430.60,124.20 L433.50,124.20 L433.50,128.90 L436.40,128.90 L436.40,129.80 L439.30,129.80 L439.30,132.90 L442.20,132.90 L442.20,142.9 Z" fill="#ecdfd0"/>
<path d="M443.30,142.9 L443.30,13.50 L446.22,13.50 L446.22,60.00 L449.14,60.00 L449.14,76.00 L452.06,76.00 L452.06,99.20 L454.98,99.20 L454.98,114.70 L457.90,114.70 L457.90,125.20 L460.82,125.20 L460.82,142.9 Z" fill="#d4adc3"/>
<path d="M461.80,142.9 L461.80,37.20 L464.64,37.20 L464.64,40.80 L467.48,40.80 L467.48,43.90 L470.32,43.90 L470.32,62.00 L473.16,62.00 L473.16,86.10 L476.00,86.10 L476.00,142.9 Z" fill="#b97a9e"/>
<line x1="210.00" y1="13.00" x2="210.00" y2="143.60" stroke="#000" stroke-width="1.5" />
<line x1="209.30" y1="142.90" x2="478.80" y2="142.90" stroke="#000" stroke-width="1.5" />
<line x1="202.00" y1="142.90" x2="210.00" y2="142.90" stroke="#000" stroke-width="1.2" />
<text x="201.30" y="146.30" font-size="9.6" font-weight="bold" text-anchor="end" fill="#000" >0</text>
<line x1="202.00" y1="99.70" x2="210.00" y2="99.70" stroke="#000" stroke-width="1.2" />
<text x="201.30" y="103.10" font-size="9.6" font-weight="bold" text-anchor="end" fill="#000" >100</text>
<line x1="202.00" y1="56.50" x2="210.00" y2="56.50" stroke="#000" stroke-width="1.2" />
<text x="201.30" y="59.90" font-size="9.6" font-weight="bold" text-anchor="end" fill="#000" >200</text>
<line x1="202.00" y1="13.30" x2="210.00" y2="13.30" stroke="#000" stroke-width="1.2" />
<text x="201.30" y="16.70" font-size="9.6" font-weight="bold" text-anchor="end" fill="#000" >300</text>
<text transform="translate(179.80,78.80) rotate(-90)" font-size="10.3" font-weight="bold" text-anchor="middle" fill="#000">H-score of GNG4</text>
<text x="344.20" y="158.60" font-size="10.4" font-weight="bold" text-anchor="middle" fill="#000" >Prostate tumors</text>
<rect x="197.20" y="163.60" width="13.80" height="7.50" fill="#b8d3e0" />
<text x="219.10" y="171.00" font-size="10.4" text-anchor="start" fill="#222" >Grade I (n=19)</text>
<rect x="296.60" y="163.60" width="13.80" height="7.50" fill="#7ea4b6" />
<text x="318.50" y="171.00" font-size="10.4" text-anchor="start" fill="#222" >Grade II (n=40)</text>
<rect x="398.70" y="163.60" width="13.80" height="7.50" fill="#ecdfd0" />
<text x="420.60" y="171.00" font-size="10.4" text-anchor="start" fill="#222" >Grade III (n=20)</text>
<rect x="253.00" y="179.40" width="13.80" height="7.50" fill="#d4adc3" />
<text x="275.40" y="186.80" font-size="10.4" text-anchor="start" fill="#222" >Grade IV (n=6)</text>
<rect x="363.00" y="179.40" width="13.80" height="7.50" fill="#b97a9e" />
<text x="385.00" y="186.80" font-size="10.4" text-anchor="start" fill="#222" >Grade V (n=5)</text>
<line x1="533.40" y1="25.00" x2="533.40" y2="137.70" stroke="#000" stroke-width="1.4" />
<line x1="532.70" y1="137.00" x2="645.40" y2="137.00" stroke="#000" stroke-width="1.4" />
<line x1="528.20" y1="137.00" x2="533.40" y2="137.00" stroke="#000" stroke-width="1.2" />
<text x="526.80" y="140.00" font-size="8.2" font-weight="bold" text-anchor="end" fill="#000" >0</text>
<line x1="528.20" y1="111.50" x2="533.40" y2="111.50" stroke="#000" stroke-width="1.2" />
<text x="526.80" y="114.50" font-size="8.2" font-weight="bold" text-anchor="end" fill="#000" >25</text>
<line x1="528.20" y1="86.00" x2="533.40" y2="86.00" stroke="#000" stroke-width="1.2" />
<text x="526.80" y="89.00" font-size="8.2" font-weight="bold" text-anchor="end" fill="#000" >50</text>
<line x1="528.20" y1="60.50" x2="533.40" y2="60.50" stroke="#000" stroke-width="1.2" />
<text x="526.80" y="63.50" font-size="8.2" font-weight="bold" text-anchor="end" fill="#000" >75</text>
<line x1="528.20" y1="35.00" x2="533.40" y2="35.00" stroke="#000" stroke-width="1.2" />
<text x="526.80" y="38.00" font-size="8.2" font-weight="bold" text-anchor="end" fill="#000" >100</text>
<line x1="547.10" y1="137.00" x2="547.10" y2="142.20" stroke="#000" stroke-width="1.2" />
<text x="547.10" y="151.30" font-size="8.6" font-weight="bold" text-anchor="middle" fill="#000" >I</text>
<rect x="540.80" y="35.60" width="12.60" height="37.45" fill="#e0707a" stroke="#d9414d" stroke-width="1.5"/>
<rect x="540.80" y="73.65" width="12.60" height="62.75" fill="#6f89aa" stroke="#3f5f8c" stroke-width="1.5"/>
<line x1="568.20" y1="137.00" x2="568.20" y2="142.20" stroke="#000" stroke-width="1.2" />
<text x="568.20" y="151.30" font-size="8.6" font-weight="bold" text-anchor="middle" fill="#000" >II</text>
<rect x="561.90" y="35.60" width="12.60" height="50.40" fill="#e0707a" stroke="#d9414d" stroke-width="1.5"/>
<rect x="561.90" y="86.60" width="12.60" height="49.80" fill="#6f89aa" stroke="#3f5f8c" stroke-width="1.5"/>
<line x1="589.30" y1="137.00" x2="589.30" y2="142.20" stroke="#000" stroke-width="1.2" />
<text x="589.30" y="151.30" font-size="8.6" font-weight="bold" text-anchor="middle" fill="#000" >III</text>
<rect x="583.00" y="35.60" width="12.60" height="50.40" fill="#e0707a" stroke="#d9414d" stroke-width="1.5"/>
<rect x="583.00" y="86.60" width="12.60" height="49.80" fill="#6f89aa" stroke="#3f5f8c" stroke-width="1.5"/>
<line x1="610.40" y1="137.00" x2="610.40" y2="142.20" stroke="#000" stroke-width="1.2" />
<text x="610.40" y="151.30" font-size="8.6" font-weight="bold" text-anchor="middle" fill="#000" >IV</text>
<rect x="604.10" y="35.60" width="12.60" height="67.43" fill="#e0707a" stroke="#d9414d" stroke-width="1.5"/>
<rect x="604.10" y="103.63" width="12.60" height="32.77" fill="#6f89aa" stroke="#3f5f8c" stroke-width="1.5"/>
<line x1="631.50" y1="137.00" x2="631.50" y2="142.20" stroke="#000" stroke-width="1.2" />
<text x="631.50" y="151.30" font-size="8.6" font-weight="bold" text-anchor="middle" fill="#000" >V</text>
<rect x="625.20" y="35.60" width="12.60" height="101.40" fill="#e0707a" stroke="#d9414d" stroke-width="1.5"/>
<text x="589.40" y="164.00" font-size="9.0" font-weight="bold" text-anchor="middle" fill="#000" >Grade</text>
<text transform="translate(511.80,80.60) rotate(-90)" font-size="9.0" font-weight="bold" text-anchor="middle" fill="#000">Percentage (%)</text>
<line x1="547.00" y1="31.90" x2="632.00" y2="31.90" stroke="#000" stroke-width="1.5" />
<text x="589.50" y="32.50" font-size="15" font-weight="bold" text-anchor="middle" fill="#000" >*</text>
<text x="650.60" y="46.00" font-size="8.9" text-anchor="start" fill="#222" >GNG4</text>
<rect x="644.6" y="50.4" width="12.6" height="6.6" fill="#e0707a" stroke="#d9414d" stroke-width="1.5"/>
<rect x="644.6" y="65.9" width="12.6" height="6.8" fill="#6f89aa" stroke="#3f5f8c" stroke-width="1.5"/>
<text x="663.90" y="57.20" font-size="9.2" text-anchor="start" fill="#222" >High</text>
<text x="663.90" y="72.80" font-size="9.2" text-anchor="start" fill="#222" >Low</text>
<text x="76.50" y="213.40" font-size="10.2" text-anchor="middle" fill="#111" >Paracancerous</text>
<text x="188.60" y="213.60" font-size="10.2" text-anchor="middle" fill="#111" >Grade I</text>
<text x="300.80" y="213.70" font-size="10.2" text-anchor="middle" fill="#111" >Grade IV</text>
<text transform="translate(19.60,262.00) rotate(-90)" font-size="9.8" font-weight="bold" text-anchor="middle" fill="#222">×100</text>
<text transform="translate(19.40,349.80) rotate(-90)" font-size="9.8" font-weight="bold" text-anchor="middle" fill="#222">×200</text>
<defs>
<clipPath id="cp0"><rect x="22.0" y="216.5" width="109.20" height="86.10"/></clipPath>
<filter id="f0_0" filterUnits="userSpaceOnUse" x="-5.299999999999997" y="177.65000000000003" width="163.80" height="163.80" color-interpolation-filters="sRGB"><feTurbulence type="fractalNoise" baseFrequency="0.05" numOctaves="2" seed="638"/><feColorMatrix type="matrix" values="0 0 0 0 0.847 0 0 0 0 0.808 0 0 0 0 0.878 1 0 0 0 0"/><feComponentTransfer><feFuncA type="linear" slope="6" intercept="-3.000"/></feComponentTransfer><feComponentTransfer><feFuncA type="linear" slope="0.5"/></feComponentTransfer></filter>
<filter id="f0_1" filterUnits="userSpaceOnUse" x="-5.299999999999997" y="177.65000000000003" width="163.80" height="163.80" color-interpolation-filters="sRGB"><feTurbulence type="fractalNoise" baseFrequency="0.09 0.045" numOctaves="2" seed="262"/><feColorMatrix type="matrix" values="0 0 0 0 0.965 0 0 0 0 0.957 0 0 0 0 0.941 1 0 0 0 0"/><feComponentTransfer><feFuncA type="linear" slope="16" intercept="-9.120"/></feComponentTransfer><feGaussianBlur stdDeviation="0.3"/></filter>
<filter id="f0_2" filterUnits="userSpaceOnUse" x="-5.299999999999997" y="177.65000000000003" width="163.80" height="163.80" color-interpolation-filters="sRGB"><feTurbulence type="fractalNoise" baseFrequency="0.09 0.045" numOctaves="2" seed="760"/><feColorMatrix type="matrix" values="0 0 0 0 0.639 0 0 0 0 0.576 0 0 0 0 0.788 1 0 0 0 0"/><feComponentTransfer><feFuncA type="table" tableValues="0.00 0.00 0.00 0.00 0.00 0.00 0.00 0.00 0.00 0.00 0.00 0.00 0.00 0.00 0.00 0.00 0.00 0.00 0.00 0.00 0.00 0.00 0.00 0.00 0.00 0.00 0.00 0.00 0.00 0.00 0.00 0.00 0.00 0.00 0.00 0.00 0.00 0.00 0.00 0.00 0.00 0.31 0.50 0.50 0.25 0.00 0.00 0.00 0.00 0.00 0.00 0.00 0.00 0.00 0.00 0.00 0.00 0.00 0.00 0.00 0.00 0.00 0.00 0.00 0.00 0.00 0.00 0.00 0.00 0.00 0.00 0.00 0.00 0.00 0.00 0.00 0.00 0.00 0.00 0.00 0.00"/></feComponentTransfer><feGaussianBlur stdDeviation="0.3"/></filter>
<clipPath id="cp1"><rect x="133.6" y="216.5" width="110.40" height="86.10"/></clipPath>
<filter id="f1_0" filterUnits="userSpaceOnUse" x="106.0" y="176.75" width="165.60" height="165.60" color-interpolation-filters="sRGB"><feTurbulence type="fractalNoise" baseFrequency="0.05" numOctaves="2" seed="368"/><feColorMatrix type="matrix" values="0 0 0 0 0.788 0 0 0 0 0.698 0 0 0 0 0.635 1 0 0 0 0"/><feComponentTransfer><feFuncA type="linear" slope="6" intercept="-3.120"/></feComponentTransfer><feComponentTransfer><feFuncA type="linear" slope="0.35"/></feComponentTransfer></filter>
<filter id="f1_1" filterUnits="userSpaceOnUse" x="106.0" y="176.75" width="165.60" height="165.60" color-interpolation-filters="sRGB"><feTurbulence type="fractalNoise" baseFrequency="0.045 0.16" numOctaves="2" seed="815"/><feColorMatrix type="matrix" values="0 0 0 0 0.953 0 0 0 0 0.945 0 0 0 0 0.910 1 0 0 0 0"/><feComponentTransfer><feFuncA type="linear" slope="16" intercept="-9.600"/></feComponentTransfer><feGaussianBlur stdDeviation="0.3"/></filter>
<filter id="f1_2" filterUnits="userSpaceOnUse" x="106.0" y="176.75" width="165.60" height="165.60" color-interpolation-filters="sRGB"><feTurbulence type="fractalNoise" baseFrequency="0.045 0.16" numOctaves="2" seed="708"/><feColorMatrix type="matrix" values="0 0 0 0 0.722 0 0 0 0 0.651 0 0 0 0 0.737 1 0 0 0 0"/><feComponentTransfer><feFuncA type="table" tableValues="0.00 0.00 0.00 0.00 0.00 0.00 0.00 0.00 0.00 0.00 0.00 0.00 0.00 0.00 0.00 0.00 0.00 0.00 0.00 0.00 0.00 0.00 0.00 0.00 0.00 0.00 0.00 0.00 0.00 0.00 0.00 0.00 0.00 0.00 0.00 0.00 0.00 0.00 0.00 0.00 0.00 0.00 0.00 0.15 0.40 0.40 0.30 0.05 0.00 0.00 0.00 0.00 0.00 0.00 0.00 0.00 0.00 0.00 0.00 0.00 0.00 0.00 0.00 0.00 0.00 0.00 0.00 0.00 0.00 0.00 0.00 0.00 0.00 0.00 0.00 0.00 0.00 0.00 0.00 0.00 0.00"/></feComponentTransfer><feGaussianBlur stdDeviation="0.3"/></filter>
<clipPath id="cp2"><rect x="246.0" y="216.7" width="109.80" height="85.90"/></clipPath>
<filter id="f2_0" filterUnits="userSpaceOnUse" x="218.54999999999995" y="177.29999999999995" width="164.70" height="164.70" color-interpolation-filters="sRGB"><feTurbulence type="fractalNoise" baseFrequency="0.05" numOctaves="2" seed="966"/><feColorMatrix type="matrix" values="0 0 0 0 0.722 0 0 0 0 0.627 0 0 0 0 0.561 1 0 0 0 0"/><feComponentTransfer><feFuncA type="linear" slope="6" intercept="-3.000"/></feComponentTransfer><feComponentTransfer><feFuncA type="linear" slope="0.6"/></feComponentTransfer></filter>
<clipPath id="cp3"><rect x="22.3" y="306.0" width="109.10" height="87.00"/></clipPath>
<filter id="f3_0" filterUnits="userSpaceOnUse" x="-4.974999999999994" y="267.675" width="163.65" height="163.65" color-interpolation-filters="sRGB"><feTurbulence type="fractalNoise" baseFrequency="0.03" numOctaves="2" seed="862"/><feColorMatrix type="matrix" values="0 0 0 0 0.827 0 0 0 0 0.784 0 0 0 0 0.863 1 0 0 0 0"/><feComponentTransfer><feFuncA type="linear" slope="6" intercept="-3.000"/></feComponentTransfer><feComponentTransfer><feFuncA type="linear" slope="0.5"/></feComponentTransfer></filter>
<filter id="f3_1" filterUnits="userSpaceOnUse" x="-4.974999999999994" y="267.675" width="163.65" height="163.65" color-interpolation-filters="sRGB"><feTurbulence type="fractalNoise" baseFrequency="0.05 0.022" numOctaves="2" seed="758"/><feColorMatrix type="matrix" values="0 0 0 0 0.961 0 0 0 0 0.953 0 0 0 0 0.937 1 0 0 0 0"/><feComponentTransfer><feFuncA type="linear" slope="14" intercept="-8.120"/></feComponentTransfer><feGaussianBlur stdDeviation="0.4"/></filter>
<filter id="f3_2" filterUnits="userSpaceOnUse" x="-4.974999999999994" y="267.675" width="163.65" height="163.65" color-interpolation-filters="sRGB"><feTurbulence type="fractalNoise" baseFrequency="0.05 0.022" numOctaves="2" seed="668"/><feColorMatrix type="matrix" values="0 0 0 0 0.678 0 0 0 0 0.624 0 0 0 0 0.796 1 0 0 0 0"/><feComponentTransfer><feFuncA type="table" tableValues="0.00 0.00 0.00 0.00 0.00 0.00 0.00 0.00 0.00 0.00 0.00 0.00 0.00 0.00 0.00 0.00 0.00 0.00 0.00 0.00 0.00 0.00 0.00 0.00 0.00 0.00 0.00 0.00 0.00 0.00 0.00 0.00 0.00 0.00 0.00 0.00 0.00 0.00 0.00 0.00 0.00 0.22 0.60 0.60 0.60 0.38 0.00 0.00 0.00 0.00 0.00 0.00 0.00 0.00 0.00 0.00 0.00 0.00 0.00 0.00 0.00 0.00 0.00 0.00 0.00 0.00 0.00 0.00 0.00 0.00 0.00 0.00 0.00 0.00 0.00 0.00 0.00 0.00 0.00 0.00 0.00"/></feComponentTransfer><feGaussianBlur stdDeviation="0.4"/></filter>
<clipPath id="cp4"><rect x="134.0" y="306.0" width="108.80" height="87.00"/></clipPath>
<filter id="f4_0" filterUnits="userSpaceOnUse" x="106.8" y="267.9" width="163.20" height="163.20" color-interpolation-filters="sRGB"><feTurbulence type="fractalNoise" baseFrequency="0.03" numOctaves="2" seed="945"/><feColorMatrix type="matrix" values="0 0 0 0 0.776 0 0 0 0 0.671 0 0 0 0 0.588 1 0 0 0 0"/><feComponentTransfer><feFuncA type="linear" slope="6" intercept="-3.120"/></feComponentTransfer><feComponentTransfer><feFuncA type="linear" slope="0.45"/></feComponentTransfer></filter>
<filter id="f4_1" filterUnits="userSpaceOnUse" x="106.8" y="267.9" width="163.20" height="163.20" color-interpolation-filters="sRGB"><feTurbulence type="fractalNoise" baseFrequency="0.025 0.07" numOctaves="2" seed="543"/><feColorMatrix type="matrix" values="0 0 0 0 0.957 0 0 0 0 0.949 0 0 0 0 0.910 1 0 0 0 0"/><feComponentTransfer><feFuncA type="linear" slope="14" intercept="-8.400"/></feComponentTransfer><feGaussianBlur stdDeviation="0.4"/></filter>
<filter id="f4_2" filterUnits="userSpaceOnUse" x="106.8" y="267.9" width="163.20" height="163.20" color-interpolation-filters="sRGB"><feTurbulence type="fractalNoise" baseFrequency="0.025 0.07" numOctaves="2" seed="30"/><feColorMatrix type="matrix" values="0 0 0 0 0.702 0 0 0 0 0.627 0 0 0 0 0.706 1 0 0 0 0"/><feComponentTransfer><feFuncA type="table" tableValues="0.00 0.00 0.00 0.00 0.00 0.00 0.00 0.00 0.00 0.00 0.00 0.00 0.00 0.00 0.00 0.00 0.00 0.00 0.00 0.00 0.00 0.00 0.00 0.00 0.00 0.00 0.00 0.00 0.00 0.00 0.00 0.00 0.00 0.00 0.00 0.00 0.00 0.00 0.00 0.00 0.00 0.00 0.25 0.50 0.50 0.50 0.25 0.00 0.00 0.00 0.00 0.00 0.00 0.00 0.00 0.00 0.00 0.00 0.00 0.00 0.00 0.00 0.00 0.00 0.00 0.00 0.00 0.00 0.00 0.00 0.00 0.00 0.00 0.00 0.00 0.00 0.00 0.00 0.00 0.00 0.00"/></feComponentTransfer><feGaussianBlur stdDeviation="0.4"/></filter>
<clipPath id="cp5"><rect x="245.8" y="306.0" width="109.90" height="87.00"/></clipPath>
<filter id="f5_0" filterUnits="userSpaceOnUse" x="218.32500000000002" y="267.07500000000005" width="164.85" height="164.85" color-interpolation-filters="sRGB"><feTurbulence type="fractalNoise" baseFrequency="0.03" numOctaves="2" seed="861"/><feColorMatrix type="matrix" values="0 0 0 0 0.710 0 0 0 0 0.608 0 0 0 0 0.533 1 0 0 0 0"/><feComponentTransfer><feFuncA type="linear" slope="6" intercept="-3.000"/></feComponentTransfer><feComponentTransfer><feFuncA type="linear" slope="0.6"/></feComponentTransfer></filter>
<filter id="f5_1" filterUnits="userSpaceOnUse" x="218.32500000000002" y="267.07500000000005" width="164.85" height="164.85" color-interpolation-filters="sRGB"><feTurbulence type="fractalNoise" baseFrequency="0.05 0.02" numOctaves="2" seed="477"/><feColorMatrix type="matrix" values="0 0 0 0 0.945 0 0 0 0 0.914 0 0 0 0 0.867 1 0 0 0 0"/><feComponentTransfer><feFuncA type="linear" slope="12" intercept="-7.200"/></feComponentTransfer><feGaussianBlur stdDeviation="0.5"/></filter>
<filter id="blr" x="-5%" y="-5%" width="110%" height="110%"><feTurbulence type="fractalNoise" baseFrequency="0.12" numOctaves="2" seed="4" result="t"/><feDisplacementMap in="SourceGraphic" in2="t" scale="4" xChannelSelector="R" yChannelSelector="G"/><feGaussianBlur stdDeviation="0.35"/></filter>
</defs>
<g clip-path="url(#cp0)">
<rect x="22.0" y="216.5" width="109.20" height="86.10" fill="#e6dfe6"/>
<rect x="-5.3" y="177.7" width="163.8" height="163.8" filter="url(#f0_0)" transform="rotate(0 76.6 259.6)"/>
<rect x="-5.3" y="177.7" width="163.8" height="163.8" filter="url(#f0_1)" transform="rotate(70 76.6 259.6)"/>
<rect x="-5.3" y="177.7" width="163.8" height="163.8" filter="url(#f0_2)" transform="rotate(70 76.6 259.6)"/>
<path d="M106.7 237.9h.01M63.6 225.3h.01M116.7 250.0h.01M36.4 300.2h.01M40.2 243.5h.01M127.8 233.5h.01M124.2 239.2h.01M99.3 222.2h.01M73.6 231.7h.01M66.1 263.8h.01M99.3 270.2h.01M72.5 260.6h.01M107.3 248.1h.01M78.0 247.7h.01M96.9 242.9h.01M74.8 278.5h.01M102.9 246.1h.01M91.7 285.5h.01M36.5 293.7h.01M67.9 228.7h.01M126.8 275.8h.01M34.3 287.3h.01M41.7 258.8h.01M108.8 247.1h.01M95.0 288.4h.01M59.1 231.9h.01M51.9 241.4h.01M59.7 297.2h.01M71.1 247.9h.01M61.5 290.0h.01M89.4 297.1h.01M116.7 239.8h.01M41.7 281.8h.01M40.1 293.3h.01M67.4 246.7h.01M62.8 246.7h.01M81.8 299.5h.01M125.9 241.7h.01M80.8 256.7h.01M36.5 224.3h.01M122.1 262.9h.01M128.7 259.0h.01M39.4 267.6h.01M125.2 243.0h.01M126.9 237.6h.01M83.2 237.5h.01M100.8 241.1h.01M118.2 293.6h.01M89.0 279.5h.01M36.5 216.7h.01M42.9 253.5h.01M92.9 290.4h.01M120.2 256.5h.01M85.6 272.3h.01M119.0 300.3h.01M102.0 239.5h.01M68.9 222.4h.01M89.1 287.5h.01M69.8 232.3h.01M82.7 273.3h.01M65.5 270.2h.01M60.6 273.0h.01M96.0 241.5h.01M47.7 288.2h.01M71.5 250.0h.01M25.9 290.8h.01M127.2 225.8h.01M125.2 253.5h.01M75.7 234.7h.01M123.6 277.2h.01M54.3 270.9h.01M45.5 232.0h.01M75.5 297.2h.01M124.1 295.9h.01M29.8 291.3h.01M111.4 281.1h.01M104.1 243.7h.01M39.0 284.1h.01M25.7 278.0h.01M99.2 275.1h.01M73.1 283.3h.01M101.3 239.8h.01M25.6 288.4h.01M47.9 285.7h.01M76.3 283.8h.01M117.6 298.3h.01M47.5 296.3h.01M30.2 279.4h.01M105.9 261.5h.01M119.4 302.6h.01M50.8 251.2h.01M109.2 299.8h.01M98.8 285.1h.01M63.5 282.7h.01M25.1 228.9h.01M68.7 225.7h.01M37.0 259.4h.01M25.0 227.0h.01M125.9 217.9h.01M39.8 269.8h.01M90.9 228.9h.01M70.7 236.2h.01M39.5 257.3h.01M96.9 234.4h.01M60.7 256.5h.01M105.5 284.1h.01M121.2 221.8h.01M63.7 224.6h.01M109.0 281.5h.01M43.7 275.8h.01M24.4 274.9h.01M97.4 255.2h.01M28.7 229.1h.01M44.6 241.2h.01M124.8 252.1h.01M26.1 224.1h.01M123.8 268.7h.01M59.3 284.1h.01M104.0 262.0h.01M114.1 293.1h.01M54.1 285.2h.01M67.1 232.5h.01M81.6 251.5h.01M67.7 223.8h.01M54.3 264.3h.01M107.9 244.9h.01M29.9 232.8h.01M89.2 285.2h.01M58.7 248.2h.01M106.0 232.3h.01M117.1 248.0h.01M119.3 301.6h.01M22.6 300.9h.01M59.4 280.4h.01M110.4 302.5h.01M120.9 271.8h.01M125.0 221.9h.01M100.6 229.1h.01M114.1 290.2h.01M111.3 228.6h.01M116.8 223.3h.01M78.7 298.8h.01M39.5 282.9h.01M89.5 267.1h.01M111.9 253.7h.01M59.0 242.6h.01M65.0 232.9h.01M106.0 281.8h.01M38.3 272.3h.01M73.1 223.2h.01M31.3 227.8h.01M119.9 293.3h.01M55.2 294.5h.01M37.3 218.0h.01M28.1 217.8h.01M55.5 285.8h.01M82.9 254.3h.01M52.1 266.7h.01M86.5 275.3h.01M32.8 260.7h.01M28.9 216.8h.01M34.8 292.7h.01M37.7 227.2h.01M108.2 276.9h.01M86.9 265.2h.01M97.8 269.1h.01M67.1 262.2h.01M99.1 278.4h.01M79.3 263.1h.01M66.2 242.8h.01M93.8 259.4h.01M88.8 255.9h.01M78.6 250.5h.01M124.1 246.1h.01M125.8 235.2h.01M56.2 269.6h.01M75.1 277.6h.01M32.5 291.5h.01M81.3 231.3h.01M118.4 243.4h.01M29.2 222.4h.01M66.4 256.3h.01M93.1 275.2h.01M40.6 237.7h.01M63.6 226.4h.01M118.3 301.0h.01M118.3 277.8h.01M55.5 264.1h.01M90.6 255.8h.01M71.9 298.3h.01M92.2 278.4h.01M74.6 242.2h.01M82.7 234.3h.01M117.5 261.4h.01M79.2 241.8h.01M125.9 219.3h.01M52.8 287.3h.01M57.8 275.8h.01M80.9 258.1h.01M128.1 279.9h.01M65.6 225.3h.01M44.4 236.8h.01M46.4 224.6h.01M101.3 293.3h.01M42.7 232.8h.01M53.6 222.9h.01M89.5 268.5h.01M70.5 259.8h.01M118.9 231.3h.01M117.2 250.2h.01M36.4 294.0h.01M44.0 275.7h.01M68.1 286.5h.01M102.3 279.6h.01M27.0 287.2h.01M69.3 286.7h.01M125.5 280.5h.01M101.3 292.7h.01M62.4 292.7h.01M127.8 252.0h.01M74.5 225.9h.01M93.5 243.5h.01M106.0 220.1h.01M105.5 291.5h.01M45.6 242.7h.01M78.4 292.4h.01M67.2 230.3h.01M60.9 225.4h.01M127.5 276.8h.01M72.2 293.1h.01M118.4 252.1h.01M28.9 244.3h.01M33.8 217.3h.01M98.4 220.6h.01M47.3 253.8h.01M83.6 250.5h.01M130.8 289.6h.01M59.1 270.5h.01M37.8 285.4h.01M23.0 275.3h.01M78.3 226.7h.01M97.5 291.9h.01M32.8 245.5h.01M25.6 257.4h.01M56.3 248.2h.01M97.7 226.8h.01M85.8 295.9h.01M55.4 250.2h.01M73.3 236.5h.01M45.8 273.8h.01M38.1 280.3h.01M22.7 276.5h.01M51.2 235.1h.01M86.6 233.6h.01M63.8 272.2h.01M40.5 268.7h.01M70.0 242.8h.01M93.0 274.7h.01M23.6 217.7h.01M113.5 289.9h.01M90.9 280.3h.01M81.7 233.6h.01M91.9 243.3h.01M110.0 249.1h.01M66.3 293.3h.01M65.5 268.0h.01M41.1 253.6h.01M112.2 290.2h.01M52.9 300.9h.01M110.6 257.9h.01M99.6 235.5h.01M93.1 217.5h.01M37.3 226.1h.01M42.1 226.8h.01M78.8 281.6h.01M114.6 293.4h.01M130.0 234.0h.01M95.1 254.7h.01M67.2 235.1h.01M53.3 236.7h.01M83.0 238.3h.01M116.4 225.2h.01M57.6 232.4h.01M113.1 261.7h.01M83.2 228.4h.01M116.6 240.4h.01M102.6 301.9h.01M34.0 266.7h.01M95.4 257.3h.01M89.4 252.1h.01M120.9 238.8h.01M89.1 299.7h.01M73.1 221.1h.01M38.4 246.8h.01M125.2 299.9h.01M39.8 247.7h.01M95.0 247.5h.01M94.0 248.5h.01M107.8 289.7h.01M113.3 235.4h.01M26.9 283.4h.01M95.4 226.3h.01M63.3 243.6h.01M55.9 244.7h.01M57.8 224.0h.01M57.9 276.6h.01M129.5 239.9h.01M87.3 225.6h.01M98.4 282.8h.01M97.0 293.1h.01M97.4 301.1h.01M39.6 268.6h.01M100.4 243.6h.01M106.7 236.9h.01M66.5 272.2h.01M26.0 268.3h.01M130.1 284.4h.01M76.2 294.4h.01M47.6 220.9h.01M70.1 223.0h.01M88.1 273.9h.01M34.0 228.5h.01M24.0 228.5h.01M104.2 252.3h.01M68.0 236.0h.01M35.1 278.7h.01M95.3 278.4h.01M66.9 223.4h.01M95.4 260.9h.01M113.3 249.4h.01M94.3 300.5h.01M64.2 291.8h.01M70.2 233.4h.01M75.8 255.4h.01M26.6 292.7h.01M111.9 257.3h.01M72.4 218.7h.01M43.3 244.0h.01M47.8 233.1h.01M90.3 217.9h.01M24.1 280.9h.01M41.0 262.7h.01M81.1 273.4h.01M110.0 221.2h.01M109.4 300.3h.01M102.6 247.6h.01M94.0 291.1h.01M113.8 273.6h.01M27.0 245.8h.01M102.1 266.2h.01M59.3 284.1h.01M100.7 288.1h.01M49.8 288.1h.01M130.9 233.4h.01M30.5 223.3h.01M88.1 238.9h.01M53.1 301.6h.01M36.1 300.3h.01M39.8 246.8h.01M30.7 245.1h.01M89.6 290.8h.01M25.1 272.8h.01M58.3 230.0h.01M32.9 283.1h.01M118.5 238.8h.01M41.5 252.8h.01M79.5 291.1h.01M54.2 297.1h.01M89.2 283.1h.01M120.4 278.3h.01M108.6 235.3h.01M60.9 256.1h.01M108.2 224.2h.01M123.8 290.4h.01M114.9 243.0h.01M25.1 289.3h.01M71.0 264.0h.01M111.7 258.8h.01M57.2 290.1h.01M125.4 271.6h.01M101.7 247.3h.01M27.6 228.0h.01M23.4 243.4h.01M58.8 250.6h.01M79.5 272.9h.01M68.8 273.6h.01M38.6 284.9h.01M126.1 289.1h.01M125.1 292.6h.01M26.6 267.9h.01M65.5 294.6h.01M63.6 285.7h.01M31.7 238.7h.01M124.4 297.4h.01M35.7 292.9h.01M48.4 271.8h.01M97.8 235.5h.01M101.2 289.0h.01M80.7 253.1h.01M55.0 285.8h.01M92.2 220.7h.01M119.5 290.4h.01M42.3 256.4h.01M98.3 250.5h.01M79.9 299.6h.01M37.5 268.1h.01M126.6 234.6h.01M71.3 268.6h.01M69.5 224.8h.01M57.9 224.5h.01M45.5 220.4h.01M24.3 223.5h.01M22.3 270.3h.01M62.6 287.8h.01M60.9 263.7h.01M43.4 290.6h.01M66.9 238.1h.01M105.3 284.9h.01M54.9 294.3h.01M122.6 300.7h.01M82.7 241.9h.01M62.4 220.3h.01M32.7 267.1h.01M91.0 244.2h.01M61.8 271.6h.01M80.5 276.8h.01M84.4 297.0h.01M100.2 248.5h.01M32.6 263.3h.01M91.8 220.8h.01M60.2 285.8h.01M66.2 227.2h.01M41.5 236.9h.01M72.1 281.7h.01M94.7 275.2h.01M76.5 268.9h.01M95.9 265.3h.01M81.5 267.7h.01M31.0 283.1h.01M83.8 301.9h.01M100.0 257.7h.01M72.6 276.7h.01M41.8 240.4h.01M120.4 232.1h.01M116.6 293.3h.01M117.4 247.0h.01M43.3 247.9h.01M41.1 283.0h.01M25.4 248.5h.01M70.7 286.8h.01M101.4 264.3h.01M40.5 299.3h.01M104.4 291.9h.01M50.4 285.1h.01M101.8 230.9h.01M78.9 220.3h.01M26.2 226.7h.01M66.9 297.8h.01M114.3 281.0h.01M98.6 274.8h.01M52.5 302.0h.01M99.7 300.9h.01M62.3 288.7h.01M97.3 247.7h.01M57.5 229.2h.01M34.7 231.4h.01M72.8 254.0h.01M48.4 286.4h.01M27.3 225.6h.01M47.3 243.6h.01M53.5 218.4h.01M41.4 262.7h.01M89.7 292.1h.01M40.7 275.6h.01M54.0 267.1h.01M58.9 289.1h.01M74.6 217.7h.01M86.8 292.2h.01M91.3 287.6h.01M25.0 254.9h.01M84.4 235.7h.01M59.8 302.1h.01M95.0 242.6h.01M23.2 283.2h.01M124.0 266.3h.01M118.7 234.2h.01M65.2 278.5h.01M25.3 227.0h.01M102.5 220.8h.01M107.3 265.3h.01M95.3 291.5h.01M71.9 250.1h.01M33.1 219.0h.01M94.7 286.3h.01M130.1 296.5h.01M126.7 254.2h.01M93.8 269.2h.01M32.8 221.9h.01M118.0 226.2h.01M96.5 272.9h.01" stroke="#8a78c0" stroke-width="0.9" stroke-linecap="round" fill="none" stroke-opacity="0.85"/>
<path d="M27.7 230.0h.01M49.2 279.5h.01M105.2 222.7h.01M22.6 283.1h.01M43.7 291.9h.01M127.4 249.5h.01M58.2 286.9h.01M60.8 242.9h.01M50.0 297.3h.01M67.7 248.9h.01M126.2 226.7h.01M119.5 238.1h.01M54.3 253.8h.01M38.2 240.2h.01M109.2 270.5h.01M30.8 268.2h.01M49.3 272.5h.01M58.5 234.3h.01M67.2 231.0h.01M122.7 269.9h.01M56.7 240.1h.01M80.1 231.9h.01M78.3 263.7h.01M86.2 219.5h.01M50.9 301.0h.01M115.0 257.3h.01M76.6 274.5h.01M66.6 295.9h.01M58.5 228.7h.01M52.9 223.3h.01M78.4 297.1h.01M130.8 233.3h.01M41.7 278.4h.01M34.1 299.8h.01M94.3 222.7h.01M126.0 290.2h.01M82.1 242.4h.01M60.4 227.6h.01M39.1 249.5h.01M111.7 273.5h.01M57.5 292.0h.01M74.4 277.5h.01M102.9 242.4h.01M123.5 228.8h.01M26.4 228.2h.01M73.8 219.7h.01M75.8 302.0h.01M23.8 227.4h.01M24.9 246.6h.01M82.4 275.5h.01M110.2 267.7h.01M113.9 257.5h.01M104.8 242.6h.01M73.6 243.3h.01M80.7 253.1h.01M31.3 221.9h.01M66.3 258.4h.01M34.1 293.5h.01M42.2 285.6h.01M103.4 240.6h.01M23.1 224.4h.01M121.9 228.4h.01M124.9 263.8h.01M53.0 300.5h.01M36.3 218.1h.01M77.3 255.5h.01M80.0 263.2h.01M108.7 281.0h.01M98.6 248.9h.01M108.9 249.1h.01M127.0 247.7h.01M28.9 219.7h.01M94.2 246.5h.01M57.3 256.3h.01M116.9 256.9h.01M95.4 219.4h.01M28.4 218.4h.01M57.4 255.6h.01M84.8 273.0h.01M42.1 247.6h.01M41.2 234.5h.01M72.4 255.5h.01M113.4 265.2h.01M32.0 257.1h.01M27.2 288.3h.01M43.2 276.4h.01M108.4 224.0h.01M90.2 254.5h.01M36.5 217.6h.01M82.5 228.4h.01M36.5 262.7h.01M94.8 240.2h.01M118.4 292.7h.01M22.0 241.1h.01M97.1 283.8h.01M109.9 264.9h.01M57.3 219.4h.01M127.9 287.7h.01M79.6 227.3h.01M39.8 301.1h.01M105.5 253.9h.01M87.1 231.3h.01M75.7 216.6h.01M22.1 294.8h.01M44.0 287.2h.01M62.0 286.1h.01M76.0 246.6h.01M65.4 281.4h.01M74.1 257.0h.01M33.3 268.6h.01M88.6 260.7h.01M108.0 266.4h.01M67.5 299.0h.01M25.0 283.1h.01M127.8 217.7h.01M127.0 242.4h.01M83.4 258.1h.01M68.3 299.9h.01M44.6 274.8h.01M97.2 301.2h.01M109.1 223.2h.01M93.6 265.6h.01M47.2 258.1h.01M119.1 245.0h.01M83.5 253.9h.01M30.3 298.5h.01M73.1 249.6h.01M113.7 216.6h.01M105.0 266.0h.01M119.6 263.8h.01M110.9 233.3h.01M105.6 237.7h.01M127.1 227.9h.01M75.6 297.2h.01M104.0 233.3h.01M105.7 224.1h.01M69.2 235.5h.01M127.6 264.1h.01M48.8 255.5h.01M110.5 218.3h.01M128.1 233.2h.01M87.3 288.8h.01M76.6 290.6h.01M45.5 252.8h.01M120.1 217.8h.01M42.8 288.3h.01M37.2 247.8h.01M30.4 275.7h.01M103.6 259.0h.01M61.8 269.8h.01M93.4 245.3h.01M82.9 240.9h.01M81.8 254.7h.01M23.4 249.7h.01M45.1 236.5h.01M48.0 276.1h.01M33.2 227.1h.01M86.9 250.1h.01M92.4 221.3h.01M111.3 248.6h.01M83.7 265.3h.01M62.9 245.8h.01M49.4 218.6h.01M86.6 291.9h.01M120.5 247.1h.01M95.6 272.4h.01M70.3 266.2h.01M86.6 220.2h.01M113.6 298.8h.01M71.5 242.2h.01M63.6 273.0h.01M38.4 302.1h.01M43.5 295.3h.01M23.9 253.9h.01M48.2 231.0h.01M43.4 253.1h.01M31.4 286.5h.01M53.1 281.6h.01M58.5 282.4h.01M54.0 245.5h.01M26.3 224.6h.01M29.8 252.8h.01M57.3 247.7h.01M89.2 224.7h.01M55.5 255.6h.01M36.6 273.0h.01M29.8 242.9h.01M109.1 271.2h.01M66.1 277.6h.01M106.0 254.8h.01M50.1 256.4h.01M118.6 270.5h.01M24.6 266.2h.01M87.9 268.6h.01M62.5 283.1h.01M75.2 230.2h.01M86.6 256.2h.01M108.2 217.7h.01M72.9 248.6h.01M40.5 231.2h.01M67.6 290.8h.01M29.3 296.7h.01M82.9 263.9h.01M79.9 216.7h.01M40.8 293.1h.01M106.0 276.7h.01M121.2 289.8h.01M127.7 276.5h.01M65.2 219.4h.01M106.3 226.4h.01M38.1 299.2h.01M113.6 239.5h.01M112.0 294.0h.01M44.1 266.6h.01M127.9 230.4h.01M90.5 232.2h.01M98.5 256.7h.01M75.3 248.1h.01M50.9 265.7h.01M64.9 264.6h.01M78.1 283.4h.01M30.8 244.5h.01M90.7 283.6h.01M96.4 223.8h.01M68.3 269.5h.01M112.8 267.3h.01M90.3 253.0h.01M57.5 288.0h.01M123.6 267.7h.01M79.4 260.7h.01M43.4 279.2h.01M26.1 284.2h.01M37.6 242.8h.01M122.7 241.9h.01M54.4 276.3h.01M72.9 256.3h.01M31.7 254.2h.01M34.6 251.1h.01M81.2 247.3h.01M56.4 233.3h.01M63.3 233.2h.01M94.9 218.8h.01M60.0 289.4h.01M44.4 295.8h.01M23.8 276.7h.01M120.2 271.1h.01M60.3 245.5h.01M48.3 299.4h.01M28.0 280.8h.01M32.6 258.2h.01M122.9 244.0h.01M22.2 298.0h.01M113.8 266.8h.01M121.4 265.1h.01M45.8 289.0h.01M89.2 288.7h.01M49.7 267.9h.01M91.9 265.4h.01M40.0 230.2h.01M88.1 245.5h.01M88.7 289.0h.01M100.3 240.4h.01M34.3 237.4h.01M110.2 222.3h.01M129.7 297.3h.01M44.0 282.9h.01M110.3 274.8h.01M122.9 265.2h.01M67.5 257.8h.01M75.6 270.9h.01M38.0 227.1h.01M95.7 217.7h.01M27.1 282.1h.01M24.2 284.4h.01M59.1 235.8h.01M57.3 282.8h.01M81.9 238.3h.01M29.3 259.2h.01M69.6 243.6h.01M121.8 282.4h.01M80.0 270.7h.01M54.8 229.0h.01M69.1 272.6h.01M64.7 224.0h.01M100.6 270.6h.01M69.7 299.5h.01M32.8 261.3h.01M92.1 260.2h.01M78.9 233.9h.01M126.9 256.8h.01M46.8 258.5h.01M81.8 301.5h.01M40.9 236.5h.01M96.9 283.2h.01M92.7 265.9h.01M34.5 256.8h.01M88.3 300.9h.01M55.5 261.2h.01M63.6 251.9h.01M41.7 277.9h.01M121.3 253.3h.01M131.0 248.3h.01M46.8 230.0h.01M47.2 293.5h.01M76.3 299.7h.01M105.5 230.8h.01M92.3 294.2h.01M104.5 260.7h.01M114.6 291.0h.01M34.5 261.8h.01M56.8 276.6h.01M74.8 302.3h.01M25.8 241.0h.01M107.7 285.2h.01M33.7 247.5h.01M57.1 273.1h.01M90.7 233.3h.01M29.3 240.7h.01M33.9 255.1h.01M103.7 225.1h.01M85.5 293.4h.01M74.9 248.2h.01M116.3 270.8h.01M130.0 267.3h.01M111.4 257.5h.01M125.0 280.2h.01M70.8 228.4h.01M51.8 222.9h.01M30.0 293.3h.01M87.4 232.9h.01M55.9 219.5h.01M57.1 227.4h.01M114.0 274.7h.01M30.5 291.5h.01M28.9 218.4h.01M120.0 289.6h.01M47.9 246.8h.01M46.2 299.9h.01M123.9 292.5h.01M117.8 296.7h.01M124.0 229.9h.01M97.4 239.1h.01M62.6 282.2h.01M128.0 298.1h.01M121.2 299.9h.01M28.1 254.3h.01M107.2 236.6h.01M91.9 233.9h.01M46.9 226.0h.01M57.3 260.3h.01M99.1 249.9h.01M85.9 287.5h.01M121.0 247.7h.01M127.4 283.2h.01M62.6 222.7h.01M85.2 287.8h.01M70.3 237.6h.01M62.2 288.4h.01M112.3 249.6h.01M94.8 286.9h.01M88.3 226.3h.01M77.7 218.0h.01M122.7 254.5h.01M60.0 269.8h.01M90.6 232.2h.01M91.7 278.2h.01M41.0 284.4h.01M114.8 299.7h.01M23.3 271.2h.01M71.7 245.2h.01M114.6 296.2h.01M85.9 278.8h.01M30.9 238.9h.01M96.3 257.4h.01M48.8 217.2h.01M51.8 295.7h.01M46.5 223.8h.01M58.5 254.0h.01M122.4 233.8h.01M69.1 288.8h.01M61.4 300.8h.01M94.9 266.3h.01M37.2 300.5h.01M49.0 265.4h.01M95.8 286.3h.01M26.2 224.2h.01M44.8 288.2h.01M78.5 250.2h.01M30.9 218.6h.01M69.6 262.7h.01M110.5 240.4h.01M59.9 218.2h.01M106.3 282.1h.01M28.8 290.0h.01M59.8 265.7h.01M87.1 266.2h.01M123.1 298.7h.01M111.7 242.8h.01M42.4 292.5h.01M28.3 239.7h.01M23.0 224.2h.01M39.1 281.1h.01M60.3 227.0h.01M67.6 237.5h.01M72.1 237.9h.01M98.1 234.8h.01M69.4 283.6h.01M23.1 240.6h.01M80.1 283.0h.01M37.9 298.8h.01M42.5 259.9h.01M97.4 247.3h.01M59.4 270.0h.01M101.5 295.9h.01M110.5 291.0h.01M77.9 238.6h.01M50.4 240.8h.01M124.9 286.0h.01M86.1 257.3h.01M108.3 275.9h.01M119.1 290.0h.01M52.5 271.3h.01M56.1 226.1h.01M101.5 256.7h.01M110.7 264.1h.01M99.2 250.4h.01M43.3 297.1h.01M103.6 288.7h.01M40.0 295.6h.01M124.8 284.6h.01M34.1 233.4h.01M84.9 275.4h.01M130.7 263.5h.01M45.4 298.0h.01M89.3 221.6h.01M68.9 261.1h.01M101.6 283.0h.01M34.6 266.1h.01M119.1 301.0h.01M116.5 297.5h.01M129.3 264.1h.01M25.1 228.4h.01M50.0 283.7h.01M29.5 276.7h.01M31.5 245.5h.01M61.3 284.2h.01M46.8 225.1h.01M125.2 219.6h.01M128.1 228.2h.01M27.8 282.3h.01M86.3 267.9h.01M115.8 271.8h.01M44.6 276.2h.01M64.1 256.7h.01M26.3 293.3h.01M41.8 268.0h.01M23.9 298.7h.01M82.2 225.5h.01M82.5 221.0h.01M103.3 276.0h.01M72.5 298.8h.01M80.6 252.8h.01M109.0 239.1h.01M74.0 228.8h.01M104.0 241.4h.01M131.1 241.8h.01M37.3 259.0h.01M118.0 283.3h.01M114.1 273.3h.01M36.2 275.3h.01M26.7 260.3h.01M61.1 245.1h.01M125.2 274.2h.01M124.6 272.9h.01M116.5 264.5h.01M81.9 236.3h.01M88.7 267.2h.01M107.5 290.7h.01M30.3 223.3h.01M90.9 225.2h.01M45.8 280.2h.01M82.6 245.6h.01M51.7 273.6h.01M104.2 302.0h.01M83.7 244.9h.01M66.7 278.8h.01M31.1 264.5h.01M66.4 297.3h.01M83.0 276.3h.01M116.5 289.5h.01M100.7 262.5h.01M102.7 217.3h.01M23.2 276.8h.01M74.8 242.3h.01M92.1 225.7h.01M97.3 232.6h.01M76.4 255.7h.01M115.0 276.8h.01M59.7 217.8h.01M45.9 246.7h.01" stroke="#7664b4" stroke-width="1.1" stroke-linecap="round" fill="none" stroke-opacity="0.85"/>
<path d="M62.6 291.3h.01M66.6 232.2h.01M89.5 254.8h.01M126.8 230.8h.01M90.3 232.1h.01M24.4 252.2h.01M86.0 267.8h.01M98.0 232.4h.01M125.7 247.3h.01M113.9 255.5h.01M48.9 287.1h.01M72.5 267.3h.01M128.8 234.5h.01M98.7 224.4h.01M100.7 243.1h.01M122.9 219.2h.01M37.9 300.8h.01M129.2 265.1h.01M62.7 221.6h.01M40.5 261.5h.01M73.3 294.2h.01M124.3 291.2h.01M76.9 221.9h.01M55.4 264.7h.01M100.2 298.9h.01M106.5 244.6h.01M60.9 240.1h.01M40.8 291.1h.01M129.0 233.6h.01M95.3 252.4h.01M55.1 264.1h.01M86.0 270.2h.01M129.7 300.9h.01M74.7 263.7h.01M44.3 278.3h.01M116.6 275.8h.01M54.2 260.6h.01M66.7 265.1h.01M74.1 233.6h.01M63.7 244.6h.01M83.6 253.5h.01M63.9 290.1h.01M49.4 218.2h.01M24.6 273.3h.01M64.8 257.9h.01M75.5 289.2h.01M78.6 290.8h.01M52.8 277.5h.01M96.4 286.5h.01M33.7 275.7h.01M97.2 298.6h.01M96.5 278.5h.01M22.4 283.6h.01M40.1 276.4h.01M81.1 220.7h.01M124.9 245.2h.01M35.5 227.0h.01M130.6 277.3h.01M29.3 234.9h.01M84.4 226.7h.01M96.9 258.6h.01M54.2 265.5h.01M46.1 221.9h.01M110.2 290.8h.01M59.3 265.9h.01M64.6 256.3h.01M64.0 289.5h.01M31.1 295.0h.01M113.3 241.5h.01M100.9 247.4h.01M26.0 302.0h.01M42.3 233.3h.01M68.6 242.4h.01M42.9 272.8h.01M82.3 226.0h.01M119.9 246.1h.01M71.9 289.6h.01M48.2 302.0h.01M89.4 295.0h.01M29.3 302.1h.01M26.8 268.9h.01M96.4 231.1h.01M124.6 278.2h.01M96.6 272.0h.01M70.7 271.6h.01M91.9 232.7h.01M129.6 230.4h.01M61.1 252.9h.01M104.6 275.8h.01M74.8 283.6h.01M73.5 276.5h.01M75.8 237.9h.01M29.8 282.8h.01M124.7 227.8h.01M24.0 220.6h.01M57.1 242.9h.01M81.2 280.1h.01M69.6 238.7h.01M44.0 247.3h.01M51.3 268.7h.01M68.9 245.2h.01M27.3 274.0h.01M35.9 289.7h.01M47.8 277.2h.01M55.1 260.9h.01M110.9 273.6h.01M37.6 237.0h.01M52.7 295.8h.01M80.3 224.3h.01M89.8 286.5h.01M76.7 263.5h.01M124.1 264.5h.01M24.2 282.8h.01M88.7 290.8h.01M123.5 236.7h.01M60.4 285.5h.01M32.0 226.9h.01M95.3 249.0h.01M57.1 244.4h.01M49.2 225.1h.01M125.8 223.1h.01M90.4 271.6h.01M87.1 237.5h.01M68.1 229.3h.01M57.6 225.3h.01M37.0 261.2h.01M120.5 293.4h.01M95.4 226.1h.01M70.2 244.3h.01M85.4 291.3h.01M57.4 231.4h.01M124.8 256.6h.01M22.4 249.3h.01M99.8 217.9h.01M59.5 228.7h.01M34.0 251.6h.01M129.7 239.8h.01M69.2 232.0h.01M36.1 223.7h.01M83.4 298.9h.01M109.7 217.6h.01M73.4 218.4h.01M124.6 273.4h.01M101.0 286.5h.01M111.1 230.8h.01M30.4 248.3h.01M22.3 271.0h.01M25.9 251.8h.01M56.7 255.9h.01M23.6 286.4h.01M45.4 241.8h.01M33.6 250.9h.01M117.1 299.6h.01M47.9 273.8h.01M100.2 236.8h.01M118.5 283.4h.01M121.0 265.5h.01M63.3 289.4h.01M45.2 269.8h.01M66.6 255.8h.01M26.6 280.4h.01M111.0 258.2h.01M49.6 230.8h.01M121.9 288.5h.01M35.5 255.8h.01M24.8 251.9h.01M80.6 276.4h.01M100.2 242.7h.01M96.2 240.0h.01M118.0 244.3h.01M125.0 243.6h.01M91.9 254.2h.01M40.5 259.7h.01M83.5 259.8h.01M82.3 238.1h.01M114.4 260.9h.01M97.3 226.0h.01M41.5 283.4h.01M32.9 290.4h.01M131.1 251.7h.01M102.5 299.0h.01M124.6 263.1h.01M30.3 249.2h.01M93.5 273.7h.01M111.6 219.9h.01M41.7 233.0h.01M115.5 271.7h.01M49.9 230.8h.01M32.7 267.8h.01M47.6 238.0h.01M95.9 285.5h.01M98.2 263.2h.01M74.6 289.0h.01M28.3 241.4h.01M53.7 233.3h.01M127.2 252.4h.01M121.9 261.6h.01M85.0 272.6h.01M46.8 216.7h.01M77.4 273.8h.01M92.5 295.7h.01M62.7 266.6h.01M109.9 284.1h.01M68.5 256.4h.01M120.2 256.9h.01M88.9 256.6h.01M44.3 272.6h.01M43.9 262.5h.01M28.3 232.6h.01M63.9 232.7h.01M51.9 261.7h.01M32.1 236.5h.01M83.2 287.6h.01M100.2 291.1h.01M91.2 277.5h.01M81.4 277.2h.01M112.5 293.8h.01M129.9 278.7h.01M118.8 244.8h.01M128.8 217.9h.01M74.9 223.7h.01M41.0 246.7h.01M123.2 293.2h.01M75.2 292.2h.01M84.5 300.0h.01M30.0 248.9h.01M129.9 291.5h.01M76.2 219.6h.01M119.1 243.1h.01M32.2 260.4h.01M124.0 227.2h.01M68.0 297.4h.01M84.0 267.3h.01M53.9 253.7h.01M79.7 302.3h.01M26.2 248.0h.01M51.9 295.8h.01M71.1 239.3h.01M41.8 301.2h.01M39.0 295.0h.01M43.1 251.4h.01M34.4 264.2h.01M23.4 233.4h.01M130.4 244.9h.01M104.9 225.9h.01M106.3 293.6h.01M66.9 283.4h.01M113.5 282.5h.01M104.5 297.7h.01M97.1 216.8h.01M48.3 269.4h.01M79.0 246.9h.01M71.5 275.5h.01M31.7 236.9h.01M37.1 281.9h.01M87.1 235.6h.01M86.4 285.4h.01M125.2 301.9h.01M107.9 249.1h.01M43.2 263.7h.01M121.7 232.1h.01M112.3 239.8h.01M87.9 297.7h.01M65.1 300.8h.01M28.7 301.6h.01M50.2 259.8h.01M39.8 249.5h.01M107.8 273.3h.01M114.9 231.7h.01M48.1 236.9h.01M70.7 256.8h.01M98.2 275.0h.01M114.0 254.5h.01M69.6 301.7h.01M39.9 260.6h.01M86.2 217.3h.01M128.1 236.3h.01M122.5 236.6h.01M108.4 236.9h.01M130.4 225.5h.01M26.7 274.0h.01M123.6 235.6h.01M63.8 226.3h.01M32.5 243.5h.01M61.7 299.5h.01M22.8 257.8h.01M30.1 301.9h.01M64.5 233.0h.01M99.6 218.6h.01M83.3 293.8h.01M49.6 239.4h.01M69.2 274.3h.01M78.5 291.5h.01M68.9 235.7h.01M116.3 254.8h.01M29.9 256.3h.01M48.7 260.9h.01M103.2 248.5h.01M87.9 252.7h.01M122.2 245.9h.01M79.4 292.9h.01M65.2 265.0h.01M58.3 288.7h.01M119.6 281.7h.01M31.8 229.2h.01M43.6 250.4h.01M24.8 285.3h.01M99.2 265.9h.01M83.1 297.7h.01M94.7 281.4h.01M44.2 250.5h.01M65.4 255.6h.01M65.3 268.9h.01M31.1 225.5h.01M36.6 292.1h.01M50.1 289.4h.01M125.4 277.6h.01M90.3 267.7h.01M30.5 294.7h.01M78.7 234.5h.01M77.0 259.3h.01M93.1 289.2h.01M36.6 219.4h.01M72.0 257.8h.01M124.5 299.4h.01M97.4 218.4h.01M57.7 293.7h.01M30.4 222.7h.01M122.5 254.1h.01M131.1 223.7h.01M67.2 286.0h.01M87.8 217.5h.01M107.7 259.2h.01M41.0 285.9h.01M57.6 301.2h.01M80.7 236.9h.01M26.4 226.1h.01M83.8 267.2h.01M35.6 267.4h.01M74.4 217.8h.01M64.0 291.7h.01M44.0 272.5h.01M101.1 258.7h.01M82.0 302.2h.01M35.3 227.3h.01M114.6 300.9h.01M41.2 230.4h.01M93.9 297.9h.01M118.7 277.8h.01M116.4 227.2h.01M106.0 223.3h.01M45.2 253.2h.01M68.8 248.3h.01M50.3 300.2h.01M122.4 264.5h.01M91.1 226.7h.01M127.6 295.3h.01M77.0 239.4h.01M36.8 276.2h.01M97.0 270.9h.01M118.3 241.9h.01M76.4 222.1h.01M23.0 230.1h.01M118.9 229.3h.01M121.1 277.0h.01M129.1 252.1h.01M86.5 216.6h.01M90.1 300.7h.01M49.8 289.0h.01M39.4 263.0h.01M43.0 275.3h.01M52.2 221.9h.01M116.5 235.9h.01M111.1 222.5h.01M131.1 284.1h.01M88.3 267.0h.01M82.6 268.3h.01M45.4 246.7h.01M79.9 223.0h.01M37.4 239.4h.01M83.9 232.9h.01M117.5 292.1h.01M58.7 283.3h.01M125.3 301.6h.01M99.7 260.2h.01M111.6 267.1h.01M23.9 256.9h.01M117.2 231.1h.01M85.2 223.5h.01M52.5 267.5h.01M117.8 230.8h.01M44.8 265.5h.01M82.7 289.8h.01M41.7 241.4h.01M101.6 277.2h.01M108.3 259.8h.01M110.6 228.7h.01M76.9 293.7h.01M41.9 267.6h.01M51.4 242.8h.01M47.6 232.7h.01M43.5 245.0h.01M39.8 270.7h.01M90.6 294.7h.01M99.7 282.2h.01M120.5 228.1h.01M72.6 232.1h.01M98.6 243.0h.01M81.7 246.7h.01M129.0 295.9h.01M118.9 281.7h.01M50.2 242.2h.01M92.8 219.0h.01M60.7 269.1h.01M39.1 253.4h.01M71.4 269.8h.01M55.2 268.3h.01M43.0 271.5h.01M91.3 267.8h.01M80.2 260.2h.01M99.0 273.2h.01M129.9 251.0h.01M107.5 253.8h.01M65.8 275.7h.01M24.9 274.8h.01M67.7 289.5h.01M30.2 271.3h.01M111.0 291.1h.01M79.5 273.5h.01M101.9 260.1h.01M40.1 282.7h.01M42.7 238.3h.01M124.7 299.8h.01M100.4 222.3h.01M63.7 223.5h.01M56.5 280.5h.01M29.1 226.0h.01M89.7 270.1h.01M102.0 225.7h.01M100.8 238.8h.01M53.0 283.5h.01M73.4 297.0h.01M105.0 263.2h.01M128.8 219.9h.01M113.6 219.8h.01M79.4 223.3h.01M85.8 297.4h.01M61.9 226.1h.01M107.7 279.9h.01M49.7 292.4h.01M126.0 219.9h.01M40.8 296.0h.01M41.9 299.1h.01M79.7 290.7h.01M99.2 263.7h.01M83.4 250.2h.01M117.7 222.6h.01M125.7 251.7h.01M79.4 259.8h.01M45.9 289.8h.01M60.9 256.9h.01M48.8 236.4h.01M27.6 217.0h.01M42.2 277.1h.01M118.3 285.8h.01M67.2 295.4h.01M38.2 297.9h.01M73.7 288.7h.01M23.8 275.8h.01M83.6 277.8h.01M50.6 302.4h.01M121.9 245.6h.01M30.9 259.2h.01M98.8 231.4h.01M107.0 249.8h.01M72.9 282.7h.01M26.4 276.0h.01M128.7 256.6h.01M54.8 279.4h.01M112.4 292.5h.01M34.3 267.8h.01M41.3 224.2h.01M95.8 272.4h.01M125.0 283.4h.01M58.0 257.7h.01M79.0 276.9h.01M116.1 217.4h.01M41.3 293.4h.01M34.0 245.2h.01M65.3 224.3h.01M112.1 293.4h.01M41.3 267.2h.01M49.4 270.2h.01M104.8 222.4h.01M122.2 257.3h.01M127.7 260.3h.01M66.5 289.8h.01M101.5 294.2h.01M108.9 274.1h.01M99.6 224.2h.01" stroke="#a192cc" stroke-width="1.3" stroke-linecap="round" fill="none" stroke-opacity="0.85"/>
<g filter="url(#blr)">
<ellipse cx="44" cy="239" rx="9.2" ry="6.2" transform="rotate(-40 44 239)" fill="#9d8cc6" fill-opacity="0.55"/>
<ellipse cx="44" cy="239" rx="8" ry="5" transform="rotate(-40 44 239)" fill="#f3f1ee" fill-opacity="0.92"/>
<ellipse cx="36.6" cy="266" rx="4.7" ry="12.2" transform="rotate(-5 36.6 266)" fill="#9d8cc6" fill-opacity="0.55"/>
<ellipse cx="36.6" cy="266" rx="3.5" ry="11" transform="rotate(-5 36.6 266)" fill="#f3f1ee" fill-opacity="0.92"/>
<ellipse cx="75" cy="237" rx="7.2" ry="5.7" transform="rotate(0 75 237)" fill="#9d8cc6" fill-opacity="0.55"/>
<ellipse cx="75" cy="237" rx="6" ry="4.5" transform="rotate(0 75 237)" fill="#f3f1ee" fill-opacity="0.92"/>
<ellipse cx="100" cy="241" rx="4.7" ry="9.7" transform="rotate(30 100 241)" fill="#9d8cc6" fill-opacity="0.55"/>
<ellipse cx="100" cy="241" rx="3.5" ry="8.5" transform="rotate(30 100 241)" fill="#f3f1ee" fill-opacity="0.92"/>
<ellipse cx="110" cy="225.6" rx="10.2" ry="5.2" transform="rotate(-10 110 225.6)" fill="#9d8cc6" fill-opacity="0.55"/>
<ellipse cx="110" cy="225.6" rx="9" ry="4" transform="rotate(-10 110 225.6)" fill="#f3f1ee" fill-opacity="0.92"/>
<ellipse cx="120" cy="252" rx="7.2" ry="4.7" transform="rotate(-20 120 252)" fill="#9d8cc6" fill-opacity="0.55"/>
<ellipse cx="120" cy="252" rx="6" ry="3.5" transform="rotate(-20 120 252)" fill="#f3f1ee" fill-opacity="0.92"/>
<ellipse cx="75" cy="262" rx="4.2" ry="7.7" transform="rotate(-10 75 262)" fill="#9d8cc6" fill-opacity="0.55"/>
<ellipse cx="75" cy="262" rx="3" ry="6.5" transform="rotate(-10 75 262)" fill="#f3f1ee" fill-opacity="0.92"/>
<ellipse cx="25" cy="290" rx="5.2" ry="10.2" transform="rotate(0 25 290)" fill="#9d8cc6" fill-opacity="0.55"/>
<ellipse cx="25" cy="290" rx="4" ry="9" transform="rotate(0 25 290)" fill="#f3f1ee" fill-opacity="0.92"/>
<ellipse cx="88" cy="285" rx="6.2" ry="3.7" transform="rotate(20 88 285)" fill="#9d8cc6" fill-opacity="0.55"/>
<ellipse cx="88" cy="285" rx="5" ry="2.5" transform="rotate(20 88 285)" fill="#f3f1ee" fill-opacity="0.92"/>
<ellipse cx="60" cy="296" rx="7.2" ry="3.7" transform="rotate(0 60 296)" fill="#9d8cc6" fill-opacity="0.55"/>
<ellipse cx="60" cy="296" rx="6" ry="2.5" transform="rotate(0 60 296)" fill="#f3f1ee" fill-opacity="0.92"/>
</g>
</g>
<rect x="22.40" y="216.90" width="108.40" height="85.30" fill="none" stroke="#7d7d7d" stroke-width="1.0"/>
<g clip-path="url(#cp1)">
<rect x="133.6" y="216.5" width="110.40" height="86.10" fill="#d6cac4"/>
<rect x="106.0" y="176.8" width="165.6" height="165.6" filter="url(#f1_0)" transform="rotate(0 188.8 259.6)"/>
<rect x="106.0" y="176.8" width="165.6" height="165.6" filter="url(#f1_1)" transform="rotate(-32 188.8 259.6)"/>
<rect x="106.0" y="176.8" width="165.6" height="165.6" filter="url(#f1_2)" transform="rotate(-32 188.8 259.6)"/>
<path d="M135.2 269.2h.01M241.8 287.5h.01M198.8 241.7h.01M230.6 279.2h.01M230.5 285.5h.01M224.4 232.0h.01M195.2 287.2h.01M181.0 290.8h.01M162.9 263.1h.01M143.1 277.7h.01M212.2 248.7h.01M143.7 276.8h.01M192.8 243.1h.01M238.8 298.1h.01M160.5 218.0h.01M189.3 283.6h.01M238.9 223.6h.01M220.5 274.4h.01M196.5 254.9h.01M140.1 284.5h.01M216.6 265.2h.01M181.1 226.6h.01M220.0 266.6h.01M173.8 290.2h.01M160.8 266.7h.01M206.6 299.8h.01M240.1 240.6h.01M226.7 291.7h.01M200.6 218.7h.01M193.9 293.3h.01M175.5 301.0h.01M216.3 249.9h.01M170.3 254.6h.01M173.2 247.9h.01M199.2 275.5h.01M230.6 226.8h.01M242.3 249.1h.01M144.4 254.8h.01M193.8 266.1h.01M200.7 265.6h.01M144.3 295.3h.01M148.1 262.3h.01M198.0 222.1h.01M162.5 250.9h.01M134.0 281.4h.01M143.8 270.0h.01M235.3 297.9h.01M233.9 226.1h.01M179.6 250.9h.01M206.3 273.8h.01M224.1 237.8h.01M151.5 217.1h.01M242.1 231.4h.01M183.4 280.7h.01M227.0 231.7h.01M208.0 259.5h.01M188.3 219.9h.01M224.7 256.9h.01M187.0 237.3h.01M235.9 220.5h.01M200.0 288.6h.01M189.0 269.3h.01M194.8 244.5h.01M136.4 229.7h.01M221.5 284.2h.01M238.2 298.9h.01M155.5 223.4h.01M241.0 289.7h.01M179.4 294.3h.01M165.2 228.1h.01M210.6 219.1h.01M148.6 241.9h.01M143.6 297.1h.01M233.7 274.9h.01M160.7 222.8h.01M193.5 235.5h.01M222.8 241.1h.01M236.4 289.9h.01M141.6 222.3h.01M234.5 267.7h.01M204.4 233.2h.01M216.7 269.3h.01M134.3 225.2h.01M174.8 278.1h.01M188.9 292.0h.01M191.8 271.8h.01M147.7 236.4h.01M236.8 225.0h.01M235.0 267.1h.01M231.0 294.5h.01M170.7 255.2h.01M221.6 234.4h.01M149.6 294.2h.01M156.2 260.9h.01M181.3 296.7h.01M178.7 289.8h.01M151.4 220.2h.01M204.7 270.2h.01M203.7 259.0h.01M183.5 274.8h.01M152.9 280.1h.01M188.4 282.1h.01M164.1 277.0h.01M169.7 223.7h.01M186.4 226.9h.01M195.1 295.1h.01M224.3 291.5h.01M229.4 263.2h.01M212.0 249.7h.01M161.6 300.7h.01M243.6 275.1h.01M201.0 234.0h.01M158.5 299.9h.01M167.6 252.0h.01M175.5 240.2h.01M145.1 283.1h.01M159.8 227.8h.01M210.2 276.6h.01M151.2 285.9h.01M149.6 295.9h.01M170.4 264.4h.01M186.3 254.2h.01M142.1 295.6h.01M152.2 291.2h.01M141.7 285.1h.01M150.8 299.3h.01M160.1 288.6h.01M192.7 239.6h.01M165.6 279.0h.01M142.1 255.1h.01M172.6 234.1h.01M224.0 263.1h.01M196.5 250.9h.01M194.1 223.9h.01M203.2 290.9h.01M211.5 261.4h.01M203.3 266.3h.01M140.0 297.1h.01M175.0 252.9h.01M161.6 234.9h.01M204.4 249.9h.01M154.5 264.1h.01M215.5 302.4h.01M218.9 224.0h.01M225.6 228.0h.01M147.3 281.4h.01M204.7 271.2h.01M184.5 256.3h.01M231.7 242.9h.01M151.4 282.8h.01M234.8 240.9h.01M205.4 294.2h.01M222.5 285.7h.01M164.1 238.0h.01M200.7 233.3h.01M200.5 294.0h.01M229.9 248.4h.01M242.6 273.2h.01M165.7 263.5h.01M133.7 223.8h.01M161.3 269.1h.01M145.8 272.1h.01M222.0 231.6h.01M212.2 251.2h.01M194.4 276.5h.01M134.1 293.6h.01M135.0 277.4h.01M155.7 251.4h.01M169.4 236.4h.01M222.9 261.1h.01M198.0 256.4h.01M234.1 280.6h.01M146.3 249.6h.01M172.0 268.3h.01M140.3 301.2h.01M237.8 263.1h.01M181.9 229.0h.01M240.6 235.3h.01M196.2 290.9h.01M196.0 226.1h.01M147.7 240.9h.01M237.8 267.7h.01M223.7 226.0h.01M163.6 285.5h.01M193.6 257.4h.01M201.4 284.3h.01M175.6 220.3h.01M156.6 282.9h.01M154.1 233.7h.01M173.3 294.0h.01M240.0 243.8h.01M158.9 237.3h.01M234.4 245.4h.01M137.3 223.9h.01M218.9 290.8h.01M216.4 216.7h.01M134.5 295.8h.01M184.4 261.3h.01M174.5 296.9h.01M182.6 231.8h.01M178.4 227.5h.01M135.4 283.1h.01M235.7 295.4h.01M228.3 222.5h.01M143.3 274.0h.01M195.2 255.8h.01M155.8 295.3h.01M243.1 258.5h.01M148.7 226.9h.01M196.8 261.9h.01M178.6 265.8h.01M207.4 262.6h.01M148.7 241.5h.01M187.9 261.3h.01M181.0 274.7h.01M242.5 227.1h.01M191.0 241.6h.01M188.9 283.3h.01M213.1 272.7h.01M187.6 287.8h.01M176.8 281.9h.01M239.5 262.7h.01M189.9 221.8h.01M176.0 243.3h.01M215.5 277.0h.01M166.6 275.4h.01M196.8 237.6h.01M236.4 301.0h.01M173.5 270.8h.01M166.3 274.6h.01M221.3 269.4h.01M152.3 277.5h.01M198.1 253.3h.01M135.3 247.5h.01M149.1 256.1h.01M220.2 229.0h.01M205.9 277.0h.01M202.3 260.1h.01M162.7 280.0h.01M221.9 292.9h.01M136.8 220.4h.01M198.9 224.3h.01M139.1 259.5h.01M141.8 236.4h.01M205.9 237.0h.01M187.5 271.7h.01M136.4 294.9h.01M146.8 259.4h.01M218.0 295.1h.01M221.3 275.7h.01M167.1 255.7h.01M230.6 294.8h.01M207.5 231.8h.01M214.9 287.9h.01M219.3 252.4h.01M212.5 231.1h.01M201.0 219.5h.01M154.4 299.6h.01M165.3 237.1h.01M173.0 228.3h.01M177.0 234.5h.01M168.4 252.4h.01M162.1 262.5h.01M158.4 292.6h.01M179.6 278.6h.01M195.2 227.9h.01M199.5 219.4h.01M197.9 229.3h.01M174.5 234.4h.01M170.3 248.7h.01M203.7 246.7h.01M139.6 279.4h.01M146.9 282.4h.01M169.5 271.2h.01M171.7 290.6h.01M227.1 222.5h.01M177.5 228.6h.01M176.2 236.6h.01M224.4 251.0h.01M237.0 291.9h.01M164.7 235.2h.01M204.0 250.8h.01M136.6 232.5h.01M205.5 220.6h.01M133.9 242.8h.01M215.1 262.7h.01M227.0 229.6h.01M195.3 298.2h.01M157.9 228.1h.01M232.2 230.2h.01M145.8 289.5h.01M191.4 294.0h.01M196.8 248.8h.01M162.0 253.3h.01M185.4 234.4h.01M232.3 227.8h.01M160.8 278.6h.01M198.5 243.5h.01M227.7 296.1h.01M226.7 236.8h.01M136.6 281.6h.01M180.3 251.4h.01M146.7 227.0h.01M158.0 293.7h.01M200.1 288.4h.01M160.0 295.3h.01M213.7 231.2h.01M146.9 260.5h.01M214.4 268.2h.01M134.4 234.9h.01M200.8 217.3h.01M155.6 234.3h.01M186.3 252.3h.01M187.3 289.5h.01M243.7 248.1h.01M209.8 298.8h.01M193.0 299.1h.01M211.7 282.5h.01M192.3 299.1h.01M135.9 221.1h.01M193.2 250.1h.01M215.8 226.2h.01M198.4 246.9h.01M195.8 278.0h.01M185.5 225.9h.01M155.0 247.5h.01M154.7 259.9h.01M222.4 223.1h.01M168.4 271.0h.01M205.7 238.6h.01M217.9 268.1h.01M169.9 223.3h.01M215.6 284.2h.01M240.6 262.5h.01M171.3 226.0h.01M214.0 295.2h.01M179.5 254.1h.01M189.1 258.8h.01M197.6 288.3h.01M173.9 234.8h.01M190.1 226.0h.01M232.1 298.5h.01M214.7 223.0h.01M239.0 254.3h.01M166.4 266.6h.01M174.6 280.0h.01M179.0 232.8h.01M146.5 241.4h.01M222.9 287.7h.01M133.9 241.8h.01M179.4 273.4h.01M232.3 248.2h.01M230.7 251.8h.01M178.2 283.3h.01M153.6 244.7h.01M214.4 233.8h.01M234.4 299.8h.01M179.9 226.9h.01M175.7 295.3h.01M134.3 267.9h.01M147.5 236.9h.01M230.6 225.0h.01M146.4 221.1h.01M184.3 231.9h.01M223.5 247.2h.01M137.9 295.6h.01M156.9 244.6h.01M193.1 240.3h.01M220.8 227.9h.01M153.6 224.9h.01M217.9 245.1h.01M217.6 249.0h.01M210.7 256.0h.01M204.7 286.9h.01M196.2 261.4h.01M243.8 247.0h.01M218.9 244.3h.01M203.0 233.0h.01M192.9 270.1h.01M189.9 291.7h.01M237.1 250.7h.01M195.5 244.5h.01M191.5 237.1h.01M238.1 257.0h.01M205.1 269.4h.01M175.4 244.5h.01M167.4 291.8h.01M186.1 281.5h.01M224.4 223.8h.01M215.0 220.3h.01M208.3 245.6h.01M174.0 249.5h.01M138.2 298.9h.01M160.9 220.4h.01M155.8 299.8h.01M165.4 250.8h.01M146.4 278.0h.01M235.8 269.1h.01M184.9 279.9h.01M163.1 228.5h.01M191.0 239.3h.01M222.9 259.7h.01M136.9 255.8h.01M236.6 227.1h.01M194.5 260.4h.01M200.1 235.1h.01M155.5 288.5h.01M167.9 245.7h.01M137.2 265.3h.01M150.0 248.6h.01M137.0 236.8h.01M177.2 289.3h.01M236.3 293.3h.01M211.0 223.4h.01M139.4 256.0h.01M209.5 276.2h.01M181.8 249.8h.01M220.4 262.2h.01M215.1 289.9h.01M175.1 288.9h.01M194.1 282.4h.01M141.1 272.4h.01M152.2 294.7h.01M218.2 223.0h.01M150.3 297.0h.01M187.3 242.2h.01M187.7 301.9h.01M212.4 225.6h.01M155.6 238.4h.01M150.3 235.5h.01M202.7 252.7h.01M229.7 269.8h.01M193.5 225.3h.01M230.4 263.2h.01M168.1 218.0h.01M206.5 269.3h.01M238.8 220.0h.01M205.4 245.4h.01M182.1 269.3h.01M140.7 287.1h.01M203.4 245.9h.01M179.5 218.6h.01M214.4 245.4h.01M136.5 267.4h.01M233.2 301.7h.01M157.8 247.2h.01M191.2 270.0h.01M134.3 287.4h.01M135.4 291.5h.01M159.6 227.9h.01M154.4 228.0h.01M232.5 239.8h.01M221.2 290.3h.01M212.6 266.7h.01M209.4 289.6h.01M155.2 269.5h.01M185.0 262.2h.01M140.0 273.0h.01M165.5 276.7h.01M174.9 260.5h.01M235.4 261.6h.01M206.2 250.7h.01M147.2 227.5h.01M229.6 255.4h.01M208.7 286.1h.01M203.9 224.6h.01M195.7 301.4h.01M152.1 265.1h.01M216.2 218.7h.01M215.7 264.2h.01M169.4 240.1h.01M190.0 278.2h.01M206.8 279.3h.01M186.3 284.5h.01M220.2 239.1h.01M175.2 233.6h.01M165.0 272.5h.01M205.9 296.4h.01M218.5 287.2h.01M179.9 275.9h.01M209.4 256.5h.01M165.8 233.6h.01M191.5 248.7h.01M159.0 275.5h.01M214.0 270.9h.01M160.8 275.1h.01M158.0 279.9h.01M161.5 288.9h.01M234.7 251.1h.01M166.6 294.7h.01M191.8 244.0h.01M175.5 285.2h.01M151.3 281.3h.01M142.9 295.0h.01M204.4 246.8h.01M205.0 251.2h.01M183.5 251.7h.01M223.4 240.1h.01M141.2 225.8h.01M211.5 244.0h.01M155.8 266.5h.01M225.7 230.7h.01M174.7 266.1h.01M183.2 297.3h.01M197.4 261.3h.01M169.1 252.0h.01M242.8 256.9h.01M197.2 279.3h.01M194.3 230.4h.01M173.5 294.2h.01M174.5 244.0h.01M167.4 281.0h.01M154.0 229.7h.01M152.9 265.4h.01M222.8 298.9h.01M238.6 245.8h.01M236.6 275.4h.01M243.5 285.2h.01M196.3 266.5h.01M236.9 218.2h.01M180.9 244.4h.01M241.5 291.5h.01M237.5 297.3h.01M196.5 284.3h.01M180.2 238.9h.01M243.8 259.4h.01M180.2 219.3h.01M224.5 241.9h.01M238.1 269.4h.01M209.0 226.9h.01M167.1 280.3h.01M178.8 290.6h.01M214.6 283.5h.01M156.7 269.1h.01M146.8 221.4h.01M223.9 281.8h.01M193.8 264.5h.01M187.0 279.0h.01M209.2 261.2h.01M242.8 249.2h.01M157.4 289.4h.01M166.0 238.5h.01M155.6 254.4h.01M171.5 299.3h.01M173.3 273.8h.01M205.0 231.0h.01M236.9 251.2h.01M138.4 238.1h.01M236.6 231.0h.01M173.4 281.5h.01M201.6 271.8h.01M172.9 278.9h.01M149.4 230.6h.01M210.3 242.5h.01M187.1 241.7h.01M163.6 296.5h.01M172.3 273.2h.01M239.5 260.7h.01M150.2 292.6h.01M188.6 233.9h.01M239.1 244.7h.01M227.8 297.5h.01M237.6 259.7h.01M187.0 276.0h.01M215.7 293.3h.01M154.4 291.5h.01M200.1 219.8h.01" stroke="#8a78bf" stroke-width="1.0" stroke-linecap="round" fill="none" stroke-opacity="0.85"/>
<path d="M186.6 258.4h.01M182.6 239.2h.01M174.7 261.1h.01M233.2 259.6h.01M243.6 218.4h.01M223.6 245.4h.01M233.8 289.7h.01M172.4 227.6h.01M141.1 247.2h.01M221.5 245.3h.01M159.6 246.8h.01M167.5 287.7h.01M155.6 294.1h.01M146.2 223.5h.01M222.3 277.5h.01M137.4 258.4h.01M199.1 237.9h.01M200.0 281.1h.01M154.8 221.2h.01M166.4 278.1h.01M208.8 231.6h.01M179.7 292.2h.01M213.3 228.6h.01M204.7 219.3h.01M166.8 276.0h.01M216.1 268.4h.01M175.9 244.9h.01M215.5 265.4h.01M179.2 240.4h.01M133.8 254.2h.01M150.1 244.3h.01M136.7 268.2h.01M156.1 269.6h.01M146.2 287.5h.01M157.9 261.0h.01M202.2 286.7h.01M204.2 249.6h.01M226.0 302.5h.01M189.5 267.2h.01M215.3 231.2h.01M208.6 218.2h.01M168.1 283.5h.01M193.2 222.5h.01M137.0 280.8h.01M147.0 234.2h.01M173.1 263.5h.01M238.1 218.7h.01M181.4 284.3h.01M243.2 278.6h.01M216.2 234.2h.01M156.3 302.5h.01M139.8 272.4h.01M161.8 246.2h.01M179.3 237.5h.01M196.0 234.4h.01M192.7 278.4h.01M145.7 220.6h.01M141.6 299.4h.01M156.0 221.2h.01M226.0 288.4h.01M207.2 262.5h.01M193.6 262.5h.01M152.8 234.3h.01M201.5 226.4h.01M196.1 234.7h.01M200.2 265.7h.01M146.8 281.3h.01M135.7 274.2h.01M194.0 289.7h.01M237.2 235.9h.01M145.2 223.5h.01M216.1 265.0h.01M136.6 300.0h.01M206.5 231.7h.01M174.7 254.0h.01M161.3 296.7h.01M152.5 217.8h.01M170.7 277.7h.01M189.4 232.3h.01M170.3 221.0h.01M216.2 236.6h.01M182.8 232.9h.01M206.2 250.3h.01M232.1 223.9h.01M220.7 243.2h.01M204.8 242.6h.01M180.8 292.5h.01M155.5 251.3h.01M221.0 288.4h.01M138.1 294.5h.01M149.8 254.2h.01M213.3 286.3h.01M145.7 241.7h.01M150.4 263.4h.01M202.9 261.7h.01M187.6 219.5h.01M181.5 216.5h.01M137.5 296.4h.01M163.5 253.6h.01M135.6 292.3h.01M233.0 297.4h.01M215.4 247.3h.01M158.7 223.7h.01M197.0 288.4h.01M200.7 226.3h.01M199.6 221.8h.01M168.6 245.2h.01M234.6 259.8h.01M206.4 269.1h.01M241.4 243.7h.01M224.2 262.4h.01M173.0 258.0h.01M135.0 280.5h.01M152.3 247.0h.01M140.9 284.0h.01M142.6 261.1h.01M168.2 230.6h.01M166.8 263.7h.01M187.8 256.4h.01M168.6 267.9h.01M209.5 281.2h.01M181.6 272.7h.01M168.9 228.8h.01M178.9 288.4h.01M139.5 289.1h.01M163.0 298.8h.01M214.3 279.2h.01M218.6 290.5h.01M195.7 244.2h.01M227.6 259.8h.01M182.1 261.9h.01M143.9 261.3h.01M171.5 253.1h.01M225.3 237.0h.01M201.1 285.7h.01M135.2 254.8h.01M232.5 235.5h.01M212.4 300.5h.01M230.9 279.9h.01M231.9 286.2h.01M224.3 258.9h.01M195.2 243.9h.01M179.3 270.0h.01M221.9 267.4h.01M153.5 245.8h.01M210.3 245.1h.01M160.6 277.7h.01M215.2 218.7h.01M166.4 247.2h.01M169.0 259.4h.01M183.3 296.4h.01M172.7 233.9h.01M201.5 259.6h.01M165.6 282.6h.01M145.4 252.7h.01M198.6 267.3h.01M215.9 252.7h.01M183.2 258.7h.01M230.9 297.6h.01M236.5 301.4h.01M151.3 228.0h.01M210.8 270.6h.01M226.2 279.9h.01M215.7 295.7h.01M161.0 294.1h.01M214.5 285.1h.01M191.8 287.6h.01M136.1 278.8h.01M165.8 261.8h.01M178.8 220.1h.01M183.7 229.8h.01M148.4 280.6h.01M157.5 244.1h.01M174.5 287.9h.01M169.5 242.7h.01M206.9 300.8h.01M146.2 244.6h.01M234.2 271.5h.01M236.9 276.2h.01M135.8 257.5h.01M152.9 288.8h.01M179.0 238.4h.01M235.9 289.2h.01M171.0 246.2h.01M209.4 278.3h.01M142.3 262.3h.01M135.4 277.5h.01M152.0 289.3h.01M138.9 223.8h.01M208.9 243.2h.01M161.9 226.7h.01M138.2 294.0h.01M181.1 301.6h.01M178.0 261.6h.01M243.2 227.4h.01M224.3 220.8h.01M239.5 244.3h.01M140.5 280.2h.01M150.5 277.8h.01M171.3 229.8h.01M198.0 235.5h.01M218.4 300.0h.01M176.0 239.9h.01M233.5 243.2h.01M149.1 264.6h.01M189.8 256.4h.01M219.7 302.1h.01M238.6 243.6h.01M156.9 239.2h.01M196.9 249.2h.01M239.2 250.2h.01M182.7 233.6h.01M199.8 259.1h.01M203.5 263.0h.01M232.2 267.9h.01M136.9 302.0h.01M182.0 281.6h.01M147.8 253.7h.01M218.6 235.5h.01M201.6 226.0h.01M145.9 226.3h.01M203.8 239.5h.01M175.5 221.2h.01M169.7 266.1h.01M155.6 298.8h.01M184.1 257.7h.01M242.2 221.4h.01M232.7 301.9h.01M200.4 219.1h.01M141.3 235.5h.01M179.4 266.9h.01M155.3 286.2h.01M221.3 292.5h.01M174.5 262.2h.01M144.9 253.5h.01M146.7 267.0h.01M166.2 221.7h.01M177.0 236.2h.01M232.4 240.1h.01M189.3 288.9h.01M160.9 280.7h.01M203.1 278.2h.01M232.1 232.0h.01M177.8 225.5h.01M164.3 220.8h.01M204.4 259.5h.01M239.2 222.6h.01M189.4 283.0h.01M243.5 266.7h.01M135.0 264.6h.01M236.3 271.6h.01M212.9 246.0h.01M243.7 224.0h.01M188.9 300.2h.01M194.8 234.7h.01M155.3 301.6h.01M235.3 295.7h.01M206.8 301.1h.01M137.1 293.5h.01M195.3 242.6h.01M159.2 234.9h.01M198.9 266.7h.01M207.5 263.9h.01M209.4 299.0h.01M177.9 301.1h.01M171.9 219.0h.01M227.9 235.5h.01M177.2 242.4h.01M186.1 249.9h.01M215.3 226.5h.01M206.1 295.9h.01M150.3 253.1h.01M221.0 235.7h.01M176.9 218.1h.01M217.3 247.4h.01M135.7 283.3h.01M224.7 244.4h.01M193.5 248.4h.01M166.0 287.9h.01M153.2 246.2h.01M142.1 253.1h.01M141.6 243.9h.01M193.2 296.0h.01M168.2 280.0h.01M180.9 232.4h.01M178.6 247.3h.01M189.6 237.2h.01M199.4 298.1h.01M142.2 235.0h.01M179.4 284.7h.01M137.1 285.0h.01M208.2 236.3h.01M220.5 237.8h.01M217.5 288.9h.01M208.2 225.0h.01M174.3 226.8h.01M205.1 297.6h.01M140.1 301.3h.01M164.1 249.8h.01M153.6 245.3h.01M237.9 260.5h.01M140.7 222.2h.01M194.4 241.6h.01M148.6 256.5h.01M184.7 220.0h.01M200.2 234.6h.01M226.9 272.9h.01M233.7 294.6h.01M184.8 290.8h.01M194.8 292.0h.01M196.5 279.9h.01M136.3 273.9h.01M219.2 295.5h.01M172.0 234.8h.01M151.5 277.7h.01M209.0 240.6h.01M219.8 234.3h.01M168.5 289.5h.01M146.1 294.0h.01M180.5 299.4h.01M205.3 263.7h.01M135.3 230.8h.01M197.7 265.6h.01M148.2 216.5h.01M235.5 282.1h.01M205.7 272.4h.01M170.1 217.6h.01M134.9 255.7h.01M136.6 241.6h.01M177.3 252.7h.01M227.8 246.4h.01M167.3 230.1h.01M216.1 287.8h.01M147.2 291.5h.01M223.5 256.7h.01M165.1 264.4h.01M229.0 292.7h.01M138.2 252.1h.01M227.1 285.8h.01M198.1 243.9h.01M231.3 221.2h.01M201.6 275.9h.01M157.0 238.1h.01M157.2 225.8h.01M229.1 265.7h.01M209.3 280.4h.01M185.1 222.2h.01M178.9 232.7h.01M199.6 239.9h.01M207.1 234.3h.01M216.9 234.0h.01M195.4 301.3h.01M206.5 300.7h.01M211.8 234.3h.01M158.4 233.4h.01M147.2 253.9h.01M221.8 259.3h.01M159.6 289.6h.01M227.0 224.7h.01M183.0 290.3h.01M190.1 255.8h.01M137.4 228.1h.01M186.9 239.8h.01M133.8 242.5h.01M237.8 261.7h.01M143.7 221.8h.01M169.5 242.9h.01M211.6 274.2h.01M154.8 301.2h.01M221.4 274.6h.01M189.4 230.2h.01M175.3 257.3h.01M183.9 217.8h.01M184.6 290.9h.01M175.7 230.4h.01M162.2 232.8h.01M222.7 276.2h.01M226.6 288.6h.01M231.8 293.5h.01M142.4 284.1h.01M142.8 299.1h.01M180.3 255.2h.01M238.6 290.6h.01M192.0 217.6h.01M166.9 299.3h.01M176.9 274.0h.01M193.6 289.3h.01M195.2 262.3h.01M160.8 297.0h.01M172.6 276.2h.01M147.4 287.5h.01M172.9 247.8h.01M190.2 271.9h.01M166.9 290.5h.01M211.0 252.2h.01M242.2 278.7h.01M184.6 218.0h.01M229.3 227.4h.01M194.1 239.2h.01M243.8 295.8h.01M210.9 292.4h.01M171.8 265.8h.01M203.9 242.7h.01M143.1 252.5h.01M243.9 260.5h.01M152.7 289.2h.01M176.2 239.9h.01M219.5 252.3h.01M227.1 276.8h.01M162.7 278.7h.01M222.2 242.0h.01M186.3 266.7h.01M169.5 257.6h.01M150.0 217.2h.01M182.2 284.9h.01M171.8 277.9h.01M240.2 260.4h.01M242.1 257.2h.01M140.7 249.2h.01M149.7 294.1h.01M139.5 296.2h.01M177.4 251.9h.01M144.8 217.2h.01M216.9 231.4h.01M139.9 238.5h.01M162.8 253.5h.01M216.7 243.0h.01M215.4 265.3h.01M182.9 234.2h.01M228.0 249.5h.01M229.2 244.3h.01M196.3 294.2h.01M175.7 294.6h.01M194.4 247.3h.01M211.6 254.1h.01M169.3 230.8h.01M169.1 269.9h.01M143.8 273.0h.01M225.9 246.5h.01M227.2 264.6h.01M156.5 220.3h.01M150.4 226.6h.01M170.2 297.2h.01M201.8 273.5h.01M175.4 262.8h.01M147.3 224.2h.01M158.6 244.9h.01M165.9 255.8h.01M141.6 278.8h.01M225.8 250.6h.01M197.3 234.6h.01M152.4 256.0h.01M237.7 232.2h.01M196.3 268.6h.01M201.8 225.6h.01M154.3 219.3h.01M138.7 289.5h.01M179.8 251.5h.01M190.5 266.4h.01M194.2 220.9h.01M138.9 216.6h.01M240.7 229.3h.01M216.0 240.0h.01M159.0 261.0h.01M196.8 260.3h.01M206.5 274.4h.01M225.1 243.1h.01M210.1 294.3h.01M240.0 243.4h.01M226.8 225.8h.01M185.0 272.9h.01M228.7 240.4h.01M233.4 254.3h.01M135.8 286.5h.01M156.0 235.8h.01M190.7 251.2h.01M167.8 280.4h.01M171.5 242.3h.01M211.4 238.8h.01M168.4 297.9h.01M209.5 271.7h.01M234.1 244.2h.01M183.4 260.5h.01M223.9 222.9h.01M159.3 290.7h.01M141.8 299.5h.01M181.0 267.8h.01M239.7 227.5h.01M146.6 275.9h.01M218.6 251.2h.01M189.1 290.6h.01M239.0 235.1h.01M219.4 231.4h.01M235.1 227.7h.01M157.3 269.7h.01M191.0 221.4h.01M194.0 260.4h.01M205.9 277.6h.01M166.7 243.7h.01M227.4 288.9h.01M202.6 250.5h.01M205.0 242.7h.01M234.9 286.5h.01M140.8 263.2h.01M171.9 243.1h.01M171.5 236.5h.01M175.0 290.1h.01M145.0 223.5h.01M231.2 263.3h.01M154.7 221.3h.01M196.9 284.7h.01M164.5 241.9h.01M171.3 220.2h.01M212.7 223.4h.01M179.0 230.5h.01M206.3 229.5h.01M232.0 259.4h.01M161.6 268.7h.01M159.9 278.8h.01M173.6 242.4h.01M180.3 288.4h.01M162.5 256.8h.01M175.1 228.9h.01M187.5 278.9h.01M150.7 277.5h.01M183.1 296.5h.01M165.7 284.8h.01M240.5 253.3h.01M141.7 281.4h.01M135.8 249.8h.01M234.6 247.6h.01M153.8 290.7h.01M173.9 223.8h.01M234.0 237.9h.01M145.6 265.2h.01M197.8 262.8h.01M213.3 274.4h.01M175.4 270.7h.01M196.2 271.1h.01M229.3 236.6h.01M161.8 229.4h.01M158.0 282.9h.01M235.4 262.7h.01M181.9 249.4h.01M147.7 276.4h.01M187.0 299.6h.01M190.2 286.3h.01M163.7 280.8h.01M192.4 260.0h.01M161.6 276.4h.01M224.8 234.4h.01M214.1 300.7h.01M196.9 263.6h.01M185.8 238.1h.01M205.3 294.4h.01M187.4 237.7h.01M154.2 238.7h.01M186.0 297.4h.01M211.1 281.5h.01M239.7 242.4h.01M233.6 260.9h.01M145.0 220.1h.01M175.0 285.0h.01M165.2 246.7h.01M218.1 262.4h.01M182.6 284.8h.01M166.1 222.4h.01" stroke="#7664b2" stroke-width="1.2" stroke-linecap="round" fill="none" stroke-opacity="0.85"/>
<path d="M197.0 283.6h.01M235.5 217.4h.01M167.5 301.4h.01M220.0 295.0h.01M162.7 261.9h.01M185.0 280.1h.01M151.6 259.7h.01M166.4 272.6h.01M226.7 243.7h.01M190.5 286.1h.01M151.4 225.7h.01M162.7 246.4h.01M230.1 273.8h.01M150.6 254.9h.01M206.2 295.9h.01M180.2 221.5h.01M138.3 290.9h.01M161.9 293.0h.01M238.6 250.6h.01M145.7 264.7h.01M223.0 239.6h.01M212.6 240.7h.01M146.0 276.1h.01M181.7 234.0h.01M138.5 256.9h.01M140.6 235.0h.01M185.7 250.7h.01M203.0 285.7h.01M226.7 289.0h.01M160.0 280.1h.01M177.4 238.3h.01M227.1 240.9h.01M177.3 218.5h.01M229.9 262.0h.01M178.2 281.1h.01M202.8 236.6h.01M232.5 277.0h.01M242.1 287.5h.01M193.5 235.7h.01M181.5 277.5h.01M235.4 247.7h.01M233.8 270.4h.01M214.5 286.4h.01M173.7 285.6h.01M191.0 226.2h.01M215.1 292.1h.01M212.0 216.7h.01M153.1 246.4h.01M154.9 292.1h.01M162.1 271.5h.01M142.4 224.8h.01M166.9 225.3h.01M151.9 274.4h.01M215.7 229.1h.01M150.4 293.0h.01M145.3 247.7h.01M167.5 299.7h.01M204.1 245.9h.01M195.9 246.0h.01M227.0 296.0h.01M234.1 279.8h.01M189.9 278.9h.01M197.4 269.0h.01M206.1 294.7h.01M219.6 240.0h.01M153.4 249.1h.01M191.5 217.5h.01M159.3 271.9h.01M186.9 221.4h.01M223.2 252.0h.01M215.7 252.8h.01M204.5 275.8h.01M180.5 231.5h.01M145.4 283.1h.01M201.2 259.0h.01M210.9 282.2h.01M159.4 226.7h.01M229.1 284.5h.01M243.7 226.7h.01M237.2 250.5h.01M204.9 220.2h.01M145.4 285.8h.01M168.0 265.7h.01M200.5 250.0h.01M175.8 225.1h.01M165.7 276.3h.01M208.5 239.6h.01M209.0 259.4h.01M232.5 243.8h.01M186.4 266.1h.01M152.5 286.0h.01M140.6 273.4h.01M187.5 253.3h.01M134.4 292.9h.01M182.0 272.5h.01M212.6 231.0h.01M168.2 243.4h.01M164.4 261.4h.01M194.3 277.0h.01M230.2 260.8h.01M147.3 268.0h.01M143.7 283.3h.01M195.4 291.8h.01M190.2 224.0h.01M154.2 255.7h.01M238.4 227.4h.01M204.2 267.5h.01M134.9 280.9h.01M172.9 244.5h.01M154.0 271.7h.01M240.5 238.0h.01M162.2 282.3h.01M237.5 216.9h.01M240.9 265.2h.01M202.8 272.8h.01M155.1 300.0h.01M220.3 244.5h.01M169.5 256.0h.01M195.3 289.1h.01M211.3 279.2h.01M207.4 270.7h.01M211.4 244.6h.01M139.5 261.4h.01M234.8 253.2h.01M133.6 224.1h.01M231.5 288.2h.01M221.7 233.0h.01M190.4 260.7h.01M187.7 261.3h.01M151.4 219.0h.01M146.1 269.7h.01M223.3 256.5h.01M150.2 231.1h.01M154.9 264.5h.01M211.7 292.6h.01M158.4 254.7h.01M238.4 244.8h.01M193.7 292.8h.01M180.5 226.0h.01M199.5 258.9h.01M155.2 265.7h.01M233.6 239.1h.01M134.2 231.2h.01M135.1 264.0h.01M149.0 258.4h.01M196.3 270.4h.01M192.5 266.5h.01M210.2 232.7h.01M140.9 221.7h.01M222.9 281.9h.01M181.4 218.7h.01M166.3 224.4h.01M147.5 272.9h.01M235.3 296.1h.01M214.7 255.5h.01M148.3 300.2h.01M215.7 255.8h.01M213.7 265.3h.01M199.9 256.9h.01M216.0 268.0h.01M212.5 252.7h.01M154.6 258.7h.01M142.3 254.9h.01M167.1 219.8h.01M169.6 236.9h.01M231.8 287.2h.01M167.8 246.0h.01M218.7 248.0h.01M223.2 296.3h.01M172.5 225.6h.01M193.4 242.6h.01M147.7 224.2h.01M191.1 263.9h.01M211.7 226.2h.01M225.9 224.9h.01M183.9 277.0h.01M134.9 219.8h.01M221.9 230.7h.01M225.3 220.6h.01M227.5 233.3h.01M189.8 223.4h.01M232.0 288.8h.01M137.4 218.1h.01M233.8 290.0h.01M174.1 253.7h.01M141.0 227.4h.01M165.0 294.7h.01M229.0 260.4h.01M210.4 252.7h.01M204.8 228.4h.01M205.4 259.7h.01M145.9 262.1h.01M211.5 248.6h.01M192.9 262.6h.01M236.0 257.9h.01M194.4 267.6h.01M222.1 286.2h.01M182.3 264.2h.01M176.6 269.0h.01M138.0 261.9h.01M235.1 272.1h.01M192.9 278.6h.01M169.0 301.0h.01M223.6 239.0h.01M155.9 279.0h.01M140.7 237.1h.01M152.7 236.0h.01M240.3 225.3h.01M172.8 226.0h.01M225.8 251.6h.01M208.7 254.4h.01M169.2 272.8h.01M217.0 274.1h.01M192.9 239.5h.01M134.3 263.7h.01M135.3 277.9h.01M185.3 217.5h.01M203.1 237.1h.01M139.9 299.5h.01M183.8 282.8h.01M181.6 258.9h.01M175.4 252.3h.01M136.5 296.1h.01M148.6 233.9h.01M150.5 283.0h.01M221.8 297.3h.01M173.8 251.1h.01M193.8 282.4h.01M241.4 263.1h.01M203.6 238.7h.01M228.1 294.2h.01M210.9 291.0h.01M151.4 289.8h.01M139.0 221.7h.01M180.7 244.2h.01M233.4 281.4h.01M155.4 245.6h.01M201.2 271.6h.01M187.3 300.2h.01M173.0 264.7h.01M158.3 255.9h.01M196.1 250.9h.01M197.2 222.4h.01M144.7 233.9h.01M211.1 288.6h.01M240.8 280.1h.01M240.4 301.1h.01M157.2 249.7h.01M144.1 243.2h.01M179.7 299.0h.01M148.5 284.3h.01M223.9 288.9h.01M218.5 272.4h.01M227.0 283.4h.01M218.7 263.7h.01M204.3 247.4h.01M231.3 220.2h.01M192.7 242.7h.01M242.1 270.1h.01M184.7 236.5h.01M243.3 236.0h.01M186.8 217.0h.01M220.5 251.9h.01M189.5 241.4h.01M163.8 300.4h.01M193.5 226.6h.01M182.0 231.1h.01M136.2 291.4h.01M151.7 251.4h.01M145.6 291.2h.01M213.9 218.1h.01M240.4 238.2h.01M159.3 273.3h.01M179.6 283.3h.01M134.9 294.3h.01M195.3 272.7h.01M166.0 298.5h.01M153.8 233.5h.01M155.9 218.2h.01M215.0 244.4h.01M175.8 289.6h.01M240.7 287.6h.01M148.4 256.7h.01M238.2 225.3h.01M235.9 247.7h.01M240.7 271.9h.01M173.7 291.5h.01M139.5 300.4h.01M210.2 243.0h.01M193.8 237.3h.01M203.9 224.7h.01M188.1 240.4h.01M139.2 291.5h.01M188.6 236.8h.01M205.4 246.7h.01M191.7 301.4h.01M156.8 266.5h.01M139.5 269.0h.01M170.0 288.6h.01M145.5 290.8h.01M184.5 294.3h.01M165.1 270.8h.01M170.5 247.2h.01M206.1 230.5h.01M207.9 218.0h.01M154.9 290.4h.01M227.9 251.0h.01M226.3 279.7h.01M175.1 286.8h.01M210.1 295.4h.01M188.0 282.8h.01M193.8 227.5h.01M173.1 282.9h.01M170.7 292.3h.01M200.7 235.8h.01M173.5 293.0h.01M204.9 225.1h.01M211.8 294.0h.01M154.6 245.7h.01M145.1 258.4h.01M205.9 283.9h.01M158.4 265.8h.01M149.2 222.8h.01M160.9 229.7h.01M217.2 224.6h.01M178.3 259.0h.01M188.5 224.5h.01M173.5 292.3h.01M196.2 226.1h.01M154.3 297.0h.01M229.5 263.8h.01M185.3 257.1h.01M230.7 295.7h.01M158.0 218.9h.01M164.4 270.0h.01M230.2 237.4h.01M156.6 227.5h.01M221.1 232.4h.01M177.6 247.0h.01M227.2 260.7h.01M223.5 257.7h.01M135.9 283.1h.01M180.1 298.5h.01M137.8 269.9h.01M142.2 274.9h.01M167.6 242.6h.01M212.7 283.9h.01M203.0 245.6h.01M174.7 257.7h.01M223.0 257.2h.01M232.5 284.6h.01M201.3 291.8h.01M222.5 301.3h.01M241.2 250.1h.01M208.4 278.2h.01M192.5 300.0h.01M239.8 269.1h.01M202.5 240.6h.01M144.2 289.8h.01M173.6 222.2h.01M154.5 274.8h.01M212.1 245.4h.01M221.4 268.2h.01M214.0 281.5h.01M165.1 219.7h.01M227.0 291.6h.01M170.2 256.3h.01M165.8 270.8h.01M196.0 231.6h.01M211.2 241.3h.01M240.1 240.5h.01M192.7 228.9h.01M203.4 235.4h.01M166.5 302.2h.01M181.8 297.1h.01M153.7 262.9h.01M173.2 244.4h.01M240.9 259.9h.01M214.8 270.3h.01M196.3 257.6h.01M146.4 265.6h.01M160.1 228.4h.01M143.7 227.6h.01M192.8 234.0h.01M156.2 273.4h.01M214.2 259.7h.01M240.6 241.4h.01M152.7 263.4h.01M223.5 219.8h.01M210.8 292.3h.01M236.7 288.3h.01M193.4 254.6h.01M190.5 292.1h.01M136.0 249.1h.01M225.1 242.3h.01M189.9 273.0h.01M217.6 249.9h.01M187.6 263.1h.01M179.7 217.5h.01M150.0 300.7h.01M170.0 289.4h.01M201.6 301.4h.01M240.7 225.7h.01M161.9 256.0h.01M153.1 277.2h.01M216.6 233.5h.01M230.3 264.9h.01M235.5 237.5h.01M226.3 225.8h.01M221.6 265.3h.01M162.8 260.5h.01M225.8 274.0h.01M230.5 246.0h.01M225.6 251.0h.01M194.6 228.8h.01M226.4 281.6h.01M185.2 222.2h.01M137.3 228.1h.01M236.6 270.0h.01M137.5 266.8h.01M208.1 219.8h.01M197.4 236.6h.01M145.4 255.4h.01M178.0 233.2h.01M149.3 270.8h.01M240.8 260.6h.01M204.9 242.1h.01M210.9 268.2h.01M238.6 233.7h.01M139.0 275.9h.01M168.9 237.8h.01M163.7 220.3h.01M236.2 243.2h.01M171.0 248.6h.01M180.7 241.8h.01M225.9 221.6h.01M185.4 273.6h.01M213.9 247.7h.01M212.6 299.2h.01M216.3 266.3h.01M170.0 278.2h.01M213.2 283.6h.01M143.4 260.7h.01M162.7 276.8h.01M202.4 291.3h.01M197.3 238.5h.01M205.9 242.6h.01M203.3 230.7h.01M195.1 274.4h.01M232.3 239.4h.01M222.1 294.2h.01M236.7 227.5h.01M178.4 275.2h.01M147.6 301.0h.01M193.4 251.4h.01M179.2 227.2h.01M154.2 268.1h.01M189.1 255.8h.01M156.3 245.7h.01M229.4 231.0h.01M229.2 236.3h.01M232.6 302.3h.01M232.1 217.0h.01M140.1 278.8h.01M243.7 225.7h.01M150.6 283.4h.01M212.4 245.9h.01M226.1 296.6h.01M201.5 228.4h.01M166.9 285.4h.01M145.6 263.7h.01M134.8 237.7h.01M237.8 265.1h.01M164.2 247.8h.01M217.2 239.1h.01M152.4 297.6h.01M212.9 244.3h.01M143.1 298.1h.01M139.9 296.9h.01M168.5 262.9h.01M168.8 264.2h.01M157.9 248.5h.01M172.4 280.6h.01M176.0 292.8h.01M196.6 254.4h.01M178.1 278.7h.01M184.1 250.1h.01M168.0 232.0h.01M146.1 289.0h.01M216.9 302.1h.01M218.4 221.0h.01M194.9 270.7h.01M206.0 230.1h.01M211.2 248.4h.01M152.9 295.3h.01M150.9 258.0h.01M207.7 276.3h.01M195.7 301.3h.01M166.3 282.6h.01M200.0 258.9h.01M140.6 283.0h.01M213.9 255.4h.01M185.2 217.8h.01M142.3 299.3h.01M200.1 218.3h.01M216.6 240.9h.01M229.7 224.2h.01M193.6 254.3h.01M208.5 294.0h.01M173.8 273.1h.01M208.7 234.5h.01M184.7 285.9h.01M227.7 218.2h.01M136.2 286.6h.01M224.8 298.0h.01M141.2 217.9h.01M143.2 263.8h.01M189.9 250.8h.01M207.0 290.1h.01M160.0 255.7h.01M226.6 219.1h.01M138.4 220.3h.01M213.9 269.8h.01M203.1 279.5h.01M200.9 257.1h.01M204.6 292.2h.01M190.0 274.4h.01M203.6 279.2h.01M224.8 224.7h.01M167.0 273.3h.01M219.3 247.7h.01M212.5 300.4h.01M169.4 298.0h.01M167.4 249.7h.01M221.7 276.8h.01M197.7 286.8h.01M142.0 261.4h.01M226.4 282.5h.01M235.3 226.7h.01M176.8 248.7h.01M224.8 296.3h.01M205.2 237.6h.01M193.7 226.4h.01M235.8 228.8h.01M191.5 266.6h.01M237.1 246.9h.01M153.6 272.8h.01M162.8 245.0h.01M133.9 227.4h.01M151.1 268.0h.01M161.7 238.8h.01M201.5 220.4h.01M229.8 275.9h.01M212.6 279.9h.01M137.1 275.7h.01M182.3 283.4h.01M223.4 299.1h.01M236.2 286.6h.01M206.5 230.4h.01M137.4 252.5h.01M193.3 225.7h.01M212.3 295.3h.01M147.8 221.9h.01M169.9 234.2h.01M232.6 300.4h.01M161.6 300.8h.01" stroke="#a394cc" stroke-width="1.4" stroke-linecap="round" fill="none" stroke-opacity="0.85"/>
</g>
<rect x="134.00" y="216.90" width="109.60" height="85.30" fill="none" stroke="#7d7d7d" stroke-width="1.0"/>
<g clip-path="url(#cp2)">
<rect x="246.0" y="216.7" width="109.80" height="85.90" fill="#cbb8a8"/>
<rect x="218.5" y="177.3" width="164.7" height="164.7" filter="url(#f2_0)" transform="rotate(0 300.9 259.6)"/>
<g filter="url(#blr)">
<ellipse cx="296.1" cy="294.7" rx="2.5" ry="2.2" transform="rotate(69 296.1 294.7)" fill="#bc9f94" stroke="#86625e" stroke-width="0.8" fill-opacity="0.85" stroke-opacity="0.85"/>
<ellipse cx="296.1" cy="294.7" rx="0.8" ry="0.7" transform="rotate(69 296.1 294.7)" fill="#e9dfd2"/>
<ellipse cx="329.1" cy="230.6" rx="1.5" ry="1.0" transform="rotate(31 329.1 230.6)" fill="#b3968c" stroke="#86625e" stroke-width="0.8" fill-opacity="0.85" stroke-opacity="0.85"/>
<ellipse cx="348.5" cy="258.8" rx="1.6" ry="0.9" transform="rotate(88 348.5 258.8)" fill="#a98a82" stroke="#906a62" stroke-width="0.8" fill-opacity="0.85" stroke-opacity="0.85"/>
<ellipse cx="348.5" cy="258.8" rx="0.5" ry="0.3" transform="rotate(88 348.5 258.8)" fill="#e9dfd2"/>
<ellipse cx="275.2" cy="258.9" rx="3.0" ry="2.7" transform="rotate(31 275.2 258.9)" fill="#a98a82" stroke="#906a62" stroke-width="0.8" fill-opacity="0.85" stroke-opacity="0.85"/>
<ellipse cx="275.2" cy="258.9" rx="0.9" ry="0.8" transform="rotate(31 275.2 258.9)" fill="#e9dfd2"/>
<ellipse cx="307.9" cy="297.6" rx="2.2" ry="1.7" transform="rotate(78 307.9 297.6)" fill="#bc9f94" stroke="#906a62" stroke-width="0.8" fill-opacity="0.85" stroke-opacity="0.85"/>
<ellipse cx="267.2" cy="217.8" rx="2.8" ry="2.0" transform="rotate(5 267.2 217.8)" fill="#b3968c" stroke="#906a62" stroke-width="0.8" fill-opacity="0.85" stroke-opacity="0.85"/>
<ellipse cx="331.7" cy="285.2" rx="2.0" ry="1.3" transform="rotate(71 331.7 285.2)" fill="#a98a82" stroke="#9a746a" stroke-width="0.8" fill-opacity="0.85" stroke-opacity="0.85"/>
<ellipse cx="305.8" cy="228.3" rx="2.6" ry="1.4" transform="rotate(179 305.8 228.3)" fill="#a98a82" stroke="#9a746a" stroke-width="0.8" fill-opacity="0.85" stroke-opacity="0.85"/>
<ellipse cx="267.4" cy="233.6" rx="2.4" ry="2.2" transform="rotate(34 267.4 233.6)" fill="#a98a82" stroke="#86625e" stroke-width="0.8" fill-opacity="0.85" stroke-opacity="0.85"/>
<ellipse cx="298.4" cy="264.2" rx="1.9" ry="1.6" transform="rotate(168 298.4 264.2)" fill="#bc9f94" stroke="#86625e" stroke-width="0.8" fill-opacity="0.85" stroke-opacity="0.85"/>
<ellipse cx="295.7" cy="231.3" rx="2.1" ry="1.7" transform="rotate(113 295.7 231.3)" fill="#b3968c" stroke="#9a746a" stroke-width="0.8" fill-opacity="0.85" stroke-opacity="0.85"/>
<ellipse cx="309.2" cy="240.7" rx="2.2" ry="1.6" transform="rotate(157 309.2 240.7)" fill="#a98a82" stroke="#906a62" stroke-width="0.8" fill-opacity="0.85" stroke-opacity="0.85"/>
<ellipse cx="269.5" cy="292.9" rx="2.9" ry="2.2" transform="rotate(123 269.5 292.9)" fill="#bc9f94" stroke="#9a746a" stroke-width="0.8" fill-opacity="0.85" stroke-opacity="0.85"/>
<ellipse cx="342.3" cy="246.7" rx="2.0" ry="1.2" transform="rotate(57 342.3 246.7)" fill="#b3968c" stroke="#9a746a" stroke-width="0.8" fill-opacity="0.85" stroke-opacity="0.85"/>
<ellipse cx="290.6" cy="281.8" rx="2.7" ry="1.8" transform="rotate(82 290.6 281.8)" fill="#b3968c" stroke="#9a746a" stroke-width="0.8" fill-opacity="0.85" stroke-opacity="0.85"/>
<ellipse cx="309.6" cy="267.5" rx="2.6" ry="1.9" transform="rotate(8 309.6 267.5)" fill="#bc9f94" stroke="#906a62" stroke-width="0.8" fill-opacity="0.85" stroke-opacity="0.85"/>
<ellipse cx="284.8" cy="288.8" rx="2.8" ry="2.5" transform="rotate(110 284.8 288.8)" fill="#a98a82" stroke="#86625e" stroke-width="0.8" fill-opacity="0.85" stroke-opacity="0.85"/>
<ellipse cx="328.4" cy="261.7" rx="2.7" ry="2.4" transform="rotate(27 328.4 261.7)" fill="#a98a82" stroke="#906a62" stroke-width="0.8" fill-opacity="0.85" stroke-opacity="0.85"/>
<ellipse cx="300.7" cy="251.0" rx="2.5" ry="1.3" transform="rotate(37 300.7 251.0)" fill="#b3968c" stroke="#906a62" stroke-width="0.8" fill-opacity="0.85" stroke-opacity="0.85"/>
<ellipse cx="303.6" cy="229.3" rx="2.9" ry="2.4" transform="rotate(114 303.6 229.3)" fill="#b3968c" stroke="#906a62" stroke-width="0.8" fill-opacity="0.85" stroke-opacity="0.85"/>
<ellipse cx="349.8" cy="275.0" rx="2.3" ry="1.4" transform="rotate(158 349.8 275.0)" fill="#bc9f94" stroke="#86625e" stroke-width="0.8" fill-opacity="0.85" stroke-opacity="0.85"/>
<ellipse cx="338.7" cy="293.4" rx="2.0" ry="1.3" transform="rotate(109 338.7 293.4)" fill="#b3968c" stroke="#86625e" stroke-width="0.8" fill-opacity="0.85" stroke-opacity="0.85"/>
<ellipse cx="318.8" cy="220.5" rx="1.8" ry="1.3" transform="rotate(91 318.8 220.5)" fill="#a98a82" stroke="#9a746a" stroke-width="0.8" fill-opacity="0.85" stroke-opacity="0.85"/>
<ellipse cx="280.2" cy="296.3" rx="2.6" ry="1.8" transform="rotate(24 280.2 296.3)" fill="#b3968c" stroke="#9a746a" stroke-width="0.8" fill-opacity="0.85" stroke-opacity="0.85"/>
<ellipse cx="350.6" cy="222.6" rx="1.6" ry="1.1" transform="rotate(22 350.6 222.6)" fill="#a98a82" stroke="#906a62" stroke-width="0.8" fill-opacity="0.85" stroke-opacity="0.85"/>
<ellipse cx="316.1" cy="267.1" rx="2.4" ry="1.3" transform="rotate(79 316.1 267.1)" fill="#bc9f94" stroke="#86625e" stroke-width="0.8" fill-opacity="0.85" stroke-opacity="0.85"/>
<ellipse cx="276.9" cy="222.2" rx="2.6" ry="2.3" transform="rotate(103 276.9 222.2)" fill="#a98a82" stroke="#906a62" stroke-width="0.8" fill-opacity="0.85" stroke-opacity="0.85"/>
<ellipse cx="313.5" cy="294.8" rx="2.8" ry="1.7" transform="rotate(24 313.5 294.8)" fill="#bc9f94" stroke="#906a62" stroke-width="0.8" fill-opacity="0.85" stroke-opacity="0.85"/>
<ellipse cx="263.4" cy="262.9" rx="1.8" ry="1.4" transform="rotate(15 263.4 262.9)" fill="#bc9f94" stroke="#906a62" stroke-width="0.8" fill-opacity="0.85" stroke-opacity="0.85"/>
<ellipse cx="334.9" cy="270.0" rx="2.9" ry="2.4" transform="rotate(171 334.9 270.0)" fill="#bc9f94" stroke="#9a746a" stroke-width="0.8" fill-opacity="0.85" stroke-opacity="0.85"/>
<ellipse cx="334.9" cy="270.0" rx="0.9" ry="0.7" transform="rotate(171 334.9 270.0)" fill="#e9dfd2"/>
<ellipse cx="268.9" cy="298.2" rx="2.5" ry="1.9" transform="rotate(141 268.9 298.2)" fill="#b3968c" stroke="#906a62" stroke-width="0.8" fill-opacity="0.85" stroke-opacity="0.85"/>
<ellipse cx="252.0" cy="301.2" rx="3.0" ry="2.0" transform="rotate(120 252.0 301.2)" fill="#b3968c" stroke="#9a746a" stroke-width="0.8" fill-opacity="0.85" stroke-opacity="0.85"/>
<ellipse cx="280.5" cy="294.4" rx="2.1" ry="1.1" transform="rotate(71 280.5 294.4)" fill="#bc9f94" stroke="#906a62" stroke-width="0.8" fill-opacity="0.85" stroke-opacity="0.85"/>
<ellipse cx="326.4" cy="218.3" rx="2.8" ry="2.5" transform="rotate(88 326.4 218.3)" fill="#a98a82" stroke="#86625e" stroke-width="0.8" fill-opacity="0.85" stroke-opacity="0.85"/>
<ellipse cx="324.7" cy="221.0" rx="2.8" ry="1.5" transform="rotate(44 324.7 221.0)" fill="#a98a82" stroke="#906a62" stroke-width="0.8" fill-opacity="0.85" stroke-opacity="0.85"/>
<ellipse cx="341.4" cy="277.9" rx="2.5" ry="1.6" transform="rotate(2 341.4 277.9)" fill="#bc9f94" stroke="#906a62" stroke-width="0.8" fill-opacity="0.85" stroke-opacity="0.85"/>
<ellipse cx="337.3" cy="224.2" rx="1.6" ry="1.0" transform="rotate(5 337.3 224.2)" fill="#a98a82" stroke="#86625e" stroke-width="0.8" fill-opacity="0.85" stroke-opacity="0.85"/>
<ellipse cx="340.5" cy="229.1" rx="2.9" ry="2.6" transform="rotate(34 340.5 229.1)" fill="#a98a82" stroke="#86625e" stroke-width="0.8" fill-opacity="0.85" stroke-opacity="0.85"/>
<ellipse cx="332.0" cy="294.0" rx="2.7" ry="1.9" transform="rotate(121 332.0 294.0)" fill="#b3968c" stroke="#9a746a" stroke-width="0.8" fill-opacity="0.85" stroke-opacity="0.85"/>
<ellipse cx="272.0" cy="243.8" rx="2.1" ry="1.6" transform="rotate(51 272.0 243.8)" fill="#a98a82" stroke="#9a746a" stroke-width="0.8" fill-opacity="0.85" stroke-opacity="0.85"/>
<ellipse cx="295.5" cy="237.0" rx="1.9" ry="1.5" transform="rotate(15 295.5 237.0)" fill="#b3968c" stroke="#9a746a" stroke-width="0.8" fill-opacity="0.85" stroke-opacity="0.85"/>
<ellipse cx="333.5" cy="244.4" rx="1.7" ry="1.4" transform="rotate(39 333.5 244.4)" fill="#a98a82" stroke="#86625e" stroke-width="0.8" fill-opacity="0.85" stroke-opacity="0.85"/>
<ellipse cx="316.5" cy="268.1" rx="1.9" ry="1.7" transform="rotate(39 316.5 268.1)" fill="#b3968c" stroke="#9a746a" stroke-width="0.8" fill-opacity="0.85" stroke-opacity="0.85"/>
<ellipse cx="275.0" cy="295.2" rx="3.0" ry="1.6" transform="rotate(141 275.0 295.2)" fill="#b3968c" stroke="#906a62" stroke-width="0.8" fill-opacity="0.85" stroke-opacity="0.85"/>
<ellipse cx="254.2" cy="279.9" rx="2.1" ry="1.1" transform="rotate(25 254.2 279.9)" fill="#b3968c" stroke="#9a746a" stroke-width="0.8" fill-opacity="0.85" stroke-opacity="0.85"/>
<ellipse cx="348.9" cy="247.6" rx="2.9" ry="2.5" transform="rotate(66 348.9 247.6)" fill="#a98a82" stroke="#9a746a" stroke-width="0.8" fill-opacity="0.85" stroke-opacity="0.85"/>
<ellipse cx="348.9" cy="247.6" rx="0.9" ry="0.8" transform="rotate(66 348.9 247.6)" fill="#e9dfd2"/>
<ellipse cx="354.6" cy="218.9" rx="2.8" ry="2.0" transform="rotate(143 354.6 218.9)" fill="#a98a82" stroke="#9a746a" stroke-width="0.8" fill-opacity="0.85" stroke-opacity="0.85"/>
<ellipse cx="351.7" cy="291.1" rx="2.4" ry="2.0" transform="rotate(137 351.7 291.1)" fill="#bc9f94" stroke="#86625e" stroke-width="0.8" fill-opacity="0.85" stroke-opacity="0.85"/>
<ellipse cx="311.6" cy="226.4" rx="2.2" ry="1.1" transform="rotate(5 311.6 226.4)" fill="#a98a82" stroke="#86625e" stroke-width="0.8" fill-opacity="0.85" stroke-opacity="0.85"/>
<ellipse cx="294.0" cy="243.9" rx="2.5" ry="2.2" transform="rotate(10 294.0 243.9)" fill="#b3968c" stroke="#86625e" stroke-width="0.8" fill-opacity="0.85" stroke-opacity="0.85"/>
<ellipse cx="294.0" cy="243.9" rx="0.8" ry="0.7" transform="rotate(10 294.0 243.9)" fill="#e9dfd2"/>
<ellipse cx="280.3" cy="258.9" rx="2.4" ry="1.7" transform="rotate(67 280.3 258.9)" fill="#bc9f94" stroke="#906a62" stroke-width="0.8" fill-opacity="0.85" stroke-opacity="0.85"/>
<ellipse cx="280.3" cy="258.9" rx="0.7" ry="0.5" transform="rotate(67 280.3 258.9)" fill="#e9dfd2"/>
<ellipse cx="324.0" cy="288.2" rx="2.6" ry="1.9" transform="rotate(140 324.0 288.2)" fill="#a98a82" stroke="#906a62" stroke-width="0.8" fill-opacity="0.85" stroke-opacity="0.85"/>
<ellipse cx="324.0" cy="288.2" rx="0.8" ry="0.6" transform="rotate(140 324.0 288.2)" fill="#e9dfd2"/>
<ellipse cx="311.9" cy="258.5" rx="2.0" ry="1.7" transform="rotate(138 311.9 258.5)" fill="#a98a82" stroke="#86625e" stroke-width="0.8" fill-opacity="0.85" stroke-opacity="0.85"/>
<ellipse cx="252.4" cy="224.6" rx="1.4" ry="1.0" transform="rotate(52 252.4 224.6)" fill="#bc9f94" stroke="#906a62" stroke-width="0.8" fill-opacity="0.85" stroke-opacity="0.85"/>
<ellipse cx="252.4" cy="224.6" rx="0.4" ry="0.3" transform="rotate(52 252.4 224.6)" fill="#e9dfd2"/>
<ellipse cx="353.3" cy="258.0" rx="2.0" ry="1.9" transform="rotate(166 353.3 258.0)" fill="#b3968c" stroke="#906a62" stroke-width="0.8" fill-opacity="0.85" stroke-opacity="0.85"/>
<ellipse cx="353.3" cy="258.0" rx="0.6" ry="0.6" transform="rotate(166 353.3 258.0)" fill="#e9dfd2"/>
<ellipse cx="324.1" cy="266.9" rx="3.0" ry="2.1" transform="rotate(88 324.1 266.9)" fill="#b3968c" stroke="#9a746a" stroke-width="0.8" fill-opacity="0.85" stroke-opacity="0.85"/>
<ellipse cx="246.9" cy="273.3" rx="2.4" ry="1.4" transform="rotate(22 246.9 273.3)" fill="#b3968c" stroke="#9a746a" stroke-width="0.8" fill-opacity="0.85" stroke-opacity="0.85"/>
<ellipse cx="273.2" cy="264.6" rx="1.8" ry="1.2" transform="rotate(8 273.2 264.6)" fill="#b3968c" stroke="#86625e" stroke-width="0.8" fill-opacity="0.85" stroke-opacity="0.85"/>
<ellipse cx="268.4" cy="261.2" rx="2.0" ry="1.2" transform="rotate(177 268.4 261.2)" fill="#bc9f94" stroke="#86625e" stroke-width="0.8" fill-opacity="0.85" stroke-opacity="0.85"/>
<ellipse cx="268.4" cy="261.2" rx="0.6" ry="0.4" transform="rotate(177 268.4 261.2)" fill="#e9dfd2"/>
<ellipse cx="262.0" cy="288.9" rx="3.0" ry="1.7" transform="rotate(98 262.0 288.9)" fill="#b3968c" stroke="#9a746a" stroke-width="0.8" fill-opacity="0.85" stroke-opacity="0.85"/>
<ellipse cx="278.9" cy="288.1" rx="1.6" ry="1.0" transform="rotate(153 278.9 288.1)" fill="#b3968c" stroke="#86625e" stroke-width="0.8" fill-opacity="0.85" stroke-opacity="0.85"/>
<ellipse cx="307.9" cy="292.7" rx="2.5" ry="1.7" transform="rotate(71 307.9 292.7)" fill="#bc9f94" stroke="#86625e" stroke-width="0.8" fill-opacity="0.85" stroke-opacity="0.85"/>
<ellipse cx="279.6" cy="244.3" rx="2.6" ry="1.8" transform="rotate(89 279.6 244.3)" fill="#a98a82" stroke="#906a62" stroke-width="0.8" fill-opacity="0.85" stroke-opacity="0.85"/>
<ellipse cx="253.3" cy="273.6" rx="1.4" ry="1.0" transform="rotate(147 253.3 273.6)" fill="#b3968c" stroke="#9a746a" stroke-width="0.8" fill-opacity="0.85" stroke-opacity="0.85"/>
<ellipse cx="298.1" cy="248.5" rx="2.5" ry="2.0" transform="rotate(98 298.1 248.5)" fill="#b3968c" stroke="#9a746a" stroke-width="0.8" fill-opacity="0.85" stroke-opacity="0.85"/>
<ellipse cx="298.1" cy="248.5" rx="0.8" ry="0.6" transform="rotate(98 298.1 248.5)" fill="#e9dfd2"/>
<ellipse cx="296.1" cy="246.3" rx="1.7" ry="1.5" transform="rotate(152 296.1 246.3)" fill="#a98a82" stroke="#906a62" stroke-width="0.8" fill-opacity="0.85" stroke-opacity="0.85"/>
<ellipse cx="296.1" cy="246.3" rx="0.5" ry="0.4" transform="rotate(152 296.1 246.3)" fill="#e9dfd2"/>
<ellipse cx="330.2" cy="259.9" rx="2.9" ry="2.6" transform="rotate(117 330.2 259.9)" fill="#b3968c" stroke="#9a746a" stroke-width="0.8" fill-opacity="0.85" stroke-opacity="0.85"/>
<ellipse cx="311.2" cy="289.5" rx="1.9" ry="1.3" transform="rotate(65 311.2 289.5)" fill="#bc9f94" stroke="#9a746a" stroke-width="0.8" fill-opacity="0.85" stroke-opacity="0.85"/>
<ellipse cx="282.6" cy="265.2" rx="2.1" ry="1.1" transform="rotate(56 282.6 265.2)" fill="#b3968c" stroke="#9a746a" stroke-width="0.8" fill-opacity="0.85" stroke-opacity="0.85"/>
<ellipse cx="271.1" cy="243.8" rx="2.7" ry="1.7" transform="rotate(14 271.1 243.8)" fill="#b3968c" stroke="#86625e" stroke-width="0.8" fill-opacity="0.85" stroke-opacity="0.85"/>
<ellipse cx="339.6" cy="264.9" rx="2.1" ry="2.0" transform="rotate(128 339.6 264.9)" fill="#a98a82" stroke="#86625e" stroke-width="0.8" fill-opacity="0.85" stroke-opacity="0.85"/>
<ellipse cx="270.3" cy="253.0" rx="2.2" ry="1.3" transform="rotate(28 270.3 253.0)" fill="#b3968c" stroke="#906a62" stroke-width="0.8" fill-opacity="0.85" stroke-opacity="0.85"/>
<ellipse cx="308.0" cy="253.0" rx="2.5" ry="2.1" transform="rotate(47 308.0 253.0)" fill="#bc9f94" stroke="#86625e" stroke-width="0.8" fill-opacity="0.85" stroke-opacity="0.85"/>
<ellipse cx="271.7" cy="286.9" rx="1.6" ry="1.0" transform="rotate(48 271.7 286.9)" fill="#bc9f94" stroke="#86625e" stroke-width="0.8" fill-opacity="0.85" stroke-opacity="0.85"/>
<ellipse cx="298.1" cy="288.0" rx="1.6" ry="1.3" transform="rotate(10 298.1 288.0)" fill="#b3968c" stroke="#906a62" stroke-width="0.8" fill-opacity="0.85" stroke-opacity="0.85"/>
<ellipse cx="272.9" cy="282.5" rx="2.9" ry="2.3" transform="rotate(150 272.9 282.5)" fill="#a98a82" stroke="#906a62" stroke-width="0.8" fill-opacity="0.85" stroke-opacity="0.85"/>
<ellipse cx="287.1" cy="219.5" rx="2.5" ry="1.6" transform="rotate(173 287.1 219.5)" fill="#a98a82" stroke="#86625e" stroke-width="0.8" fill-opacity="0.85" stroke-opacity="0.85"/>
<ellipse cx="287.1" cy="219.5" rx="0.8" ry="0.5" transform="rotate(173 287.1 219.5)" fill="#e9dfd2"/>
<ellipse cx="286.0" cy="295.4" rx="2.6" ry="2.2" transform="rotate(84 286.0 295.4)" fill="#bc9f94" stroke="#86625e" stroke-width="0.8" fill-opacity="0.85" stroke-opacity="0.85"/>
<ellipse cx="286.0" cy="295.4" rx="0.8" ry="0.7" transform="rotate(84 286.0 295.4)" fill="#e9dfd2"/>
<ellipse cx="275.6" cy="221.3" rx="1.9" ry="1.8" transform="rotate(123 275.6 221.3)" fill="#b3968c" stroke="#906a62" stroke-width="0.8" fill-opacity="0.85" stroke-opacity="0.85"/>
<ellipse cx="275.6" cy="221.3" rx="0.6" ry="0.5" transform="rotate(123 275.6 221.3)" fill="#e9dfd2"/>
<ellipse cx="348.7" cy="241.0" rx="2.7" ry="2.5" transform="rotate(161 348.7 241.0)" fill="#bc9f94" stroke="#9a746a" stroke-width="0.8" fill-opacity="0.85" stroke-opacity="0.85"/>
<ellipse cx="348.7" cy="241.0" rx="0.8" ry="0.7" transform="rotate(161 348.7 241.0)" fill="#e9dfd2"/>
<ellipse cx="298.9" cy="237.3" rx="2.3" ry="1.6" transform="rotate(106 298.9 237.3)" fill="#a98a82" stroke="#86625e" stroke-width="0.8" fill-opacity="0.85" stroke-opacity="0.85"/>
<ellipse cx="298.9" cy="237.3" rx="0.7" ry="0.5" transform="rotate(106 298.9 237.3)" fill="#e9dfd2"/>
<ellipse cx="256.1" cy="227.8" rx="1.7" ry="0.9" transform="rotate(109 256.1 227.8)" fill="#b3968c" stroke="#86625e" stroke-width="0.8" fill-opacity="0.85" stroke-opacity="0.85"/>
<ellipse cx="279.3" cy="233.1" rx="2.3" ry="2.1" transform="rotate(50 279.3 233.1)" fill="#bc9f94" stroke="#906a62" stroke-width="0.8" fill-opacity="0.85" stroke-opacity="0.85"/>
<ellipse cx="262.9" cy="233.9" rx="1.4" ry="0.8" transform="rotate(149 262.9 233.9)" fill="#a98a82" stroke="#86625e" stroke-width="0.8" fill-opacity="0.85" stroke-opacity="0.85"/>
<ellipse cx="314.6" cy="289.6" rx="2.1" ry="1.4" transform="rotate(126 314.6 289.6)" fill="#a98a82" stroke="#9a746a" stroke-width="0.8" fill-opacity="0.85" stroke-opacity="0.85"/>
<ellipse cx="352.1" cy="269.8" rx="1.5" ry="1.4" transform="rotate(125 352.1 269.8)" fill="#a98a82" stroke="#86625e" stroke-width="0.8" fill-opacity="0.85" stroke-opacity="0.85"/>
<ellipse cx="353.2" cy="266.7" rx="1.9" ry="0.9" transform="rotate(115 353.2 266.7)" fill="#bc9f94" stroke="#9a746a" stroke-width="0.8" fill-opacity="0.85" stroke-opacity="0.85"/>
<ellipse cx="327.6" cy="241.6" rx="1.8" ry="1.5" transform="rotate(136 327.6 241.6)" fill="#b3968c" stroke="#906a62" stroke-width="0.8" fill-opacity="0.85" stroke-opacity="0.85"/>
<ellipse cx="327.6" cy="241.6" rx="0.5" ry="0.5" transform="rotate(136 327.6 241.6)" fill="#e9dfd2"/>
<ellipse cx="266.6" cy="297.7" rx="2.3" ry="1.7" transform="rotate(117 266.6 297.7)" fill="#bc9f94" stroke="#86625e" stroke-width="0.8" fill-opacity="0.85" stroke-opacity="0.85"/>
<ellipse cx="329.0" cy="234.5" rx="1.5" ry="1.0" transform="rotate(113 329.0 234.5)" fill="#b3968c" stroke="#86625e" stroke-width="0.8" fill-opacity="0.85" stroke-opacity="0.85"/>
<ellipse cx="262.0" cy="287.6" rx="1.9" ry="1.3" transform="rotate(177 262.0 287.6)" fill="#b3968c" stroke="#86625e" stroke-width="0.8" fill-opacity="0.85" stroke-opacity="0.85"/>
<ellipse cx="289.9" cy="242.4" rx="2.6" ry="2.0" transform="rotate(131 289.9 242.4)" fill="#bc9f94" stroke="#9a746a" stroke-width="0.8" fill-opacity="0.85" stroke-opacity="0.85"/>
<ellipse cx="330.7" cy="255.3" rx="1.8" ry="1.3" transform="rotate(108 330.7 255.3)" fill="#a98a82" stroke="#86625e" stroke-width="0.8" fill-opacity="0.85" stroke-opacity="0.85"/>
<ellipse cx="330.7" cy="255.3" rx="0.5" ry="0.4" transform="rotate(108 330.7 255.3)" fill="#e9dfd2"/>
<ellipse cx="261.5" cy="257.5" rx="2.8" ry="1.7" transform="rotate(153 261.5 257.5)" fill="#bc9f94" stroke="#9a746a" stroke-width="0.8" fill-opacity="0.85" stroke-opacity="0.85"/>
<ellipse cx="272.9" cy="216.9" rx="3.0" ry="2.6" transform="rotate(78 272.9 216.9)" fill="#a98a82" stroke="#906a62" stroke-width="0.8" fill-opacity="0.85" stroke-opacity="0.85"/>
<ellipse cx="310.7" cy="292.5" rx="1.9" ry="1.8" transform="rotate(118 310.7 292.5)" fill="#bc9f94" stroke="#906a62" stroke-width="0.8" fill-opacity="0.85" stroke-opacity="0.85"/>
<ellipse cx="271.5" cy="217.8" rx="1.7" ry="1.4" transform="rotate(74 271.5 217.8)" fill="#b3968c" stroke="#906a62" stroke-width="0.8" fill-opacity="0.85" stroke-opacity="0.85"/>
<ellipse cx="249.5" cy="276.5" rx="1.5" ry="0.8" transform="rotate(41 249.5 276.5)" fill="#b3968c" stroke="#86625e" stroke-width="0.8" fill-opacity="0.85" stroke-opacity="0.85"/>
<ellipse cx="261.4" cy="270.3" rx="2.6" ry="1.7" transform="rotate(61 261.4 270.3)" fill="#a98a82" stroke="#906a62" stroke-width="0.8" fill-opacity="0.85" stroke-opacity="0.85"/>
<ellipse cx="323.5" cy="271.4" rx="2.4" ry="2.1" transform="rotate(108 323.5 271.4)" fill="#b3968c" stroke="#86625e" stroke-width="0.8" fill-opacity="0.85" stroke-opacity="0.85"/>
<ellipse cx="296.0" cy="298.6" rx="2.2" ry="1.3" transform="rotate(17 296.0 298.6)" fill="#a98a82" stroke="#906a62" stroke-width="0.8" fill-opacity="0.85" stroke-opacity="0.85"/>
<ellipse cx="342.5" cy="252.2" rx="2.2" ry="1.2" transform="rotate(154 342.5 252.2)" fill="#bc9f94" stroke="#9a746a" stroke-width="0.8" fill-opacity="0.85" stroke-opacity="0.85"/>
<ellipse cx="342.5" cy="252.2" rx="0.7" ry="0.4" transform="rotate(154 342.5 252.2)" fill="#e9dfd2"/>
<ellipse cx="265.7" cy="221.6" rx="2.6" ry="1.4" transform="rotate(34 265.7 221.6)" fill="#bc9f94" stroke="#86625e" stroke-width="0.8" fill-opacity="0.85" stroke-opacity="0.85"/>
<ellipse cx="265.7" cy="221.6" rx="0.8" ry="0.4" transform="rotate(34 265.7 221.6)" fill="#e9dfd2"/>
<ellipse cx="258.0" cy="272.2" rx="2.2" ry="1.7" transform="rotate(58 258.0 272.2)" fill="#a98a82" stroke="#906a62" stroke-width="0.8" fill-opacity="0.85" stroke-opacity="0.85"/>
<ellipse cx="317.1" cy="283.0" rx="2.2" ry="1.1" transform="rotate(111 317.1 283.0)" fill="#a98a82" stroke="#9a746a" stroke-width="0.8" fill-opacity="0.85" stroke-opacity="0.85"/>
<ellipse cx="252.1" cy="289.5" rx="1.6" ry="1.5" transform="rotate(149 252.1 289.5)" fill="#a98a82" stroke="#906a62" stroke-width="0.8" fill-opacity="0.85" stroke-opacity="0.85"/>
<ellipse cx="251.0" cy="272.6" rx="2.5" ry="1.4" transform="rotate(96 251.0 272.6)" fill="#bc9f94" stroke="#9a746a" stroke-width="0.8" fill-opacity="0.85" stroke-opacity="0.85"/>
<ellipse cx="251.0" cy="272.6" rx="0.7" ry="0.4" transform="rotate(96 251.0 272.6)" fill="#e9dfd2"/>
<ellipse cx="292.7" cy="301.2" rx="1.8" ry="1.0" transform="rotate(118 292.7 301.2)" fill="#bc9f94" stroke="#9a746a" stroke-width="0.8" fill-opacity="0.85" stroke-opacity="0.85"/>
<ellipse cx="248.1" cy="278.6" rx="2.5" ry="1.8" transform="rotate(166 248.1 278.6)" fill="#b3968c" stroke="#86625e" stroke-width="0.8" fill-opacity="0.85" stroke-opacity="0.85"/>
<ellipse cx="345.2" cy="221.9" rx="2.6" ry="2.4" transform="rotate(178 345.2 221.9)" fill="#b3968c" stroke="#9a746a" stroke-width="0.8" fill-opacity="0.85" stroke-opacity="0.85"/>
<ellipse cx="314.4" cy="269.6" rx="2.1" ry="1.4" transform="rotate(62 314.4 269.6)" fill="#a98a82" stroke="#906a62" stroke-width="0.8" fill-opacity="0.85" stroke-opacity="0.85"/>
<ellipse cx="256.0" cy="276.4" rx="2.5" ry="2.0" transform="rotate(65 256.0 276.4)" fill="#b3968c" stroke="#906a62" stroke-width="0.8" fill-opacity="0.85" stroke-opacity="0.85"/>
<ellipse cx="320.4" cy="267.5" rx="2.1" ry="1.4" transform="rotate(136 320.4 267.5)" fill="#b3968c" stroke="#86625e" stroke-width="0.8" fill-opacity="0.85" stroke-opacity="0.85"/>
<ellipse cx="282.8" cy="277.0" rx="2.5" ry="1.8" transform="rotate(73 282.8 277.0)" fill="#bc9f94" stroke="#906a62" stroke-width="0.8" fill-opacity="0.85" stroke-opacity="0.85"/>
<ellipse cx="282.8" cy="277.0" rx="0.7" ry="0.6" transform="rotate(73 282.8 277.0)" fill="#e9dfd2"/>
<ellipse cx="335.0" cy="232.9" rx="2.3" ry="1.3" transform="rotate(49 335.0 232.9)" fill="#a98a82" stroke="#86625e" stroke-width="0.8" fill-opacity="0.85" stroke-opacity="0.85"/>
<ellipse cx="314.3" cy="230.9" rx="1.5" ry="1.3" transform="rotate(147 314.3 230.9)" fill="#bc9f94" stroke="#9a746a" stroke-width="0.8" fill-opacity="0.85" stroke-opacity="0.85"/>
<ellipse cx="296.7" cy="288.1" rx="2.9" ry="2.7" transform="rotate(149 296.7 288.1)" fill="#a98a82" stroke="#86625e" stroke-width="0.8" fill-opacity="0.85" stroke-opacity="0.85"/>
<ellipse cx="296.7" cy="288.1" rx="0.9" ry="0.8" transform="rotate(149 296.7 288.1)" fill="#e9dfd2"/>
<ellipse cx="260.2" cy="265.3" rx="2.3" ry="1.3" transform="rotate(116 260.2 265.3)" fill="#a98a82" stroke="#86625e" stroke-width="0.8" fill-opacity="0.85" stroke-opacity="0.85"/>
<ellipse cx="256.1" cy="261.2" rx="2.1" ry="1.4" transform="rotate(10 256.1 261.2)" fill="#a98a82" stroke="#906a62" stroke-width="0.8" fill-opacity="0.85" stroke-opacity="0.85"/>
<ellipse cx="256.1" cy="261.2" rx="0.6" ry="0.4" transform="rotate(10 256.1 261.2)" fill="#e9dfd2"/>
<ellipse cx="334.1" cy="285.6" rx="2.6" ry="2.2" transform="rotate(75 334.1 285.6)" fill="#bc9f94" stroke="#906a62" stroke-width="0.8" fill-opacity="0.85" stroke-opacity="0.85"/>
<ellipse cx="334.1" cy="285.6" rx="0.8" ry="0.7" transform="rotate(75 334.1 285.6)" fill="#e9dfd2"/>
<ellipse cx="346.9" cy="300.1" rx="2.7" ry="2.0" transform="rotate(15 346.9 300.1)" fill="#bc9f94" stroke="#906a62" stroke-width="0.8" fill-opacity="0.85" stroke-opacity="0.85"/>
<ellipse cx="276.3" cy="270.8" rx="2.8" ry="2.1" transform="rotate(141 276.3 270.8)" fill="#b3968c" stroke="#906a62" stroke-width="0.8" fill-opacity="0.85" stroke-opacity="0.85"/>
<ellipse cx="276.3" cy="270.8" rx="0.8" ry="0.6" transform="rotate(141 276.3 270.8)" fill="#e9dfd2"/>
<ellipse cx="303.7" cy="268.9" rx="2.3" ry="1.4" transform="rotate(177 303.7 268.9)" fill="#a98a82" stroke="#86625e" stroke-width="0.8" fill-opacity="0.85" stroke-opacity="0.85"/>
<ellipse cx="308.9" cy="242.7" rx="2.4" ry="2.0" transform="rotate(52 308.9 242.7)" fill="#a98a82" stroke="#906a62" stroke-width="0.8" fill-opacity="0.85" stroke-opacity="0.85"/>
<ellipse cx="279.8" cy="289.0" rx="2.9" ry="1.5" transform="rotate(171 279.8 289.0)" fill="#b3968c" stroke="#9a746a" stroke-width="0.8" fill-opacity="0.85" stroke-opacity="0.85"/>
<ellipse cx="279.8" cy="289.0" rx="0.9" ry="0.4" transform="rotate(171 279.8 289.0)" fill="#e9dfd2"/>
<ellipse cx="310.8" cy="295.5" rx="1.5" ry="0.8" transform="rotate(173 310.8 295.5)" fill="#a98a82" stroke="#9a746a" stroke-width="0.8" fill-opacity="0.85" stroke-opacity="0.85"/>
<ellipse cx="314.7" cy="287.4" rx="2.6" ry="1.8" transform="rotate(157 314.7 287.4)" fill="#bc9f94" stroke="#906a62" stroke-width="0.8" fill-opacity="0.85" stroke-opacity="0.85"/>
<ellipse cx="303.1" cy="269.0" rx="1.9" ry="1.1" transform="rotate(100 303.1 269.0)" fill="#b3968c" stroke="#906a62" stroke-width="0.8" fill-opacity="0.85" stroke-opacity="0.85"/>
<ellipse cx="345.9" cy="237.9" rx="2.4" ry="2.0" transform="rotate(90 345.9 237.9)" fill="#bc9f94" stroke="#906a62" stroke-width="0.8" fill-opacity="0.85" stroke-opacity="0.85"/>
<ellipse cx="286.2" cy="238.8" rx="2.2" ry="1.7" transform="rotate(124 286.2 238.8)" fill="#b3968c" stroke="#86625e" stroke-width="0.8" fill-opacity="0.85" stroke-opacity="0.85"/>
<ellipse cx="303.3" cy="254.6" rx="1.4" ry="0.8" transform="rotate(98 303.3 254.6)" fill="#a98a82" stroke="#86625e" stroke-width="0.8" fill-opacity="0.85" stroke-opacity="0.85"/>
<ellipse cx="345.7" cy="290.7" rx="2.3" ry="1.1" transform="rotate(64 345.7 290.7)" fill="#b3968c" stroke="#906a62" stroke-width="0.8" fill-opacity="0.85" stroke-opacity="0.85"/>
<ellipse cx="309.2" cy="264.6" rx="1.8" ry="1.6" transform="rotate(157 309.2 264.6)" fill="#a98a82" stroke="#86625e" stroke-width="0.8" fill-opacity="0.85" stroke-opacity="0.85"/>
<ellipse cx="279.1" cy="293.0" rx="2.0" ry="1.3" transform="rotate(46 279.1 293.0)" fill="#b3968c" stroke="#86625e" stroke-width="0.8" fill-opacity="0.85" stroke-opacity="0.85"/>
<ellipse cx="279.1" cy="293.0" rx="0.6" ry="0.4" transform="rotate(46 279.1 293.0)" fill="#e9dfd2"/>
<ellipse cx="331.3" cy="283.3" rx="2.1" ry="1.4" transform="rotate(6 331.3 283.3)" fill="#b3968c" stroke="#9a746a" stroke-width="0.8" fill-opacity="0.85" stroke-opacity="0.85"/>
<ellipse cx="331.3" cy="283.3" rx="0.6" ry="0.4" transform="rotate(6 331.3 283.3)" fill="#e9dfd2"/>
<ellipse cx="350.5" cy="236.6" rx="2.2" ry="1.4" transform="rotate(31 350.5 236.6)" fill="#a98a82" stroke="#86625e" stroke-width="0.8" fill-opacity="0.85" stroke-opacity="0.85"/>
<ellipse cx="258.0" cy="228.1" rx="2.3" ry="1.3" transform="rotate(108 258.0 228.1)" fill="#b3968c" stroke="#9a746a" stroke-width="0.8" fill-opacity="0.85" stroke-opacity="0.85"/>
<ellipse cx="258.0" cy="228.1" rx="0.7" ry="0.4" transform="rotate(108 258.0 228.1)" fill="#e9dfd2"/>
<ellipse cx="333.6" cy="239.8" rx="2.9" ry="2.5" transform="rotate(106 333.6 239.8)" fill="#bc9f94" stroke="#906a62" stroke-width="0.8" fill-opacity="0.85" stroke-opacity="0.85"/>
<ellipse cx="285.1" cy="239.5" rx="1.6" ry="1.0" transform="rotate(20 285.1 239.5)" fill="#a98a82" stroke="#86625e" stroke-width="0.8" fill-opacity="0.85" stroke-opacity="0.85"/>
<ellipse cx="301.2" cy="243.7" rx="2.8" ry="1.6" transform="rotate(62 301.2 243.7)" fill="#b3968c" stroke="#9a746a" stroke-width="0.8" fill-opacity="0.85" stroke-opacity="0.85"/>
<ellipse cx="317.9" cy="285.5" rx="2.9" ry="2.1" transform="rotate(50 317.9 285.5)" fill="#a98a82" stroke="#906a62" stroke-width="0.8" fill-opacity="0.85" stroke-opacity="0.85"/>
<ellipse cx="342.5" cy="279.0" rx="1.8" ry="1.0" transform="rotate(148 342.5 279.0)" fill="#a98a82" stroke="#906a62" stroke-width="0.8" fill-opacity="0.85" stroke-opacity="0.85"/>
<ellipse cx="349.3" cy="224.1" rx="1.5" ry="1.3" transform="rotate(83 349.3 224.1)" fill="#bc9f94" stroke="#906a62" stroke-width="0.8" fill-opacity="0.85" stroke-opacity="0.85"/>
<ellipse cx="254.0" cy="217.1" rx="1.9" ry="1.4" transform="rotate(162 254.0 217.1)" fill="#b3968c" stroke="#906a62" stroke-width="0.8" fill-opacity="0.85" stroke-opacity="0.85"/>
<ellipse cx="272.3" cy="221.7" rx="2.5" ry="1.7" transform="rotate(110 272.3 221.7)" fill="#b3968c" stroke="#9a746a" stroke-width="0.8" fill-opacity="0.85" stroke-opacity="0.85"/>
<ellipse cx="299.8" cy="218.8" rx="2.8" ry="1.5" transform="rotate(37 299.8 218.8)" fill="#b3968c" stroke="#9a746a" stroke-width="0.8" fill-opacity="0.85" stroke-opacity="0.85"/>
<ellipse cx="271.5" cy="263.9" rx="2.2" ry="1.6" transform="rotate(143 271.5 263.9)" fill="#b3968c" stroke="#86625e" stroke-width="0.8" fill-opacity="0.85" stroke-opacity="0.85"/>
<ellipse cx="275.6" cy="270.3" rx="2.9" ry="1.8" transform="rotate(150 275.6 270.3)" fill="#bc9f94" stroke="#9a746a" stroke-width="0.8" fill-opacity="0.85" stroke-opacity="0.85"/>
<ellipse cx="275.6" cy="270.3" rx="0.9" ry="0.5" transform="rotate(150 275.6 270.3)" fill="#e9dfd2"/>
<ellipse cx="323.8" cy="285.9" rx="2.3" ry="1.2" transform="rotate(154 323.8 285.9)" fill="#bc9f94" stroke="#86625e" stroke-width="0.8" fill-opacity="0.85" stroke-opacity="0.85"/>
<ellipse cx="323.8" cy="285.9" rx="0.7" ry="0.4" transform="rotate(154 323.8 285.9)" fill="#e9dfd2"/>
<ellipse cx="282.8" cy="267.6" rx="1.7" ry="1.1" transform="rotate(93 282.8 267.6)" fill="#a98a82" stroke="#9a746a" stroke-width="0.8" fill-opacity="0.85" stroke-opacity="0.85"/>
<ellipse cx="278.3" cy="282.4" rx="2.1" ry="1.7" transform="rotate(60 278.3 282.4)" fill="#b3968c" stroke="#9a746a" stroke-width="0.8" fill-opacity="0.85" stroke-opacity="0.85"/>
<ellipse cx="278.3" cy="282.4" rx="0.6" ry="0.5" transform="rotate(60 278.3 282.4)" fill="#e9dfd2"/>
<ellipse cx="260.5" cy="278.6" rx="1.9" ry="1.0" transform="rotate(32 260.5 278.6)" fill="#bc9f94" stroke="#9a746a" stroke-width="0.8" fill-opacity="0.85" stroke-opacity="0.85"/>
<ellipse cx="340.2" cy="277.0" rx="2.9" ry="2.0" transform="rotate(146 340.2 277.0)" fill="#a98a82" stroke="#906a62" stroke-width="0.8" fill-opacity="0.85" stroke-opacity="0.85"/>
<ellipse cx="254.4" cy="277.3" rx="2.3" ry="2.0" transform="rotate(153 254.4 277.3)" fill="#bc9f94" stroke="#86625e" stroke-width="0.8" fill-opacity="0.85" stroke-opacity="0.85"/>
<ellipse cx="315.5" cy="257.1" rx="1.8" ry="0.9" transform="rotate(156 315.5 257.1)" fill="#a98a82" stroke="#906a62" stroke-width="0.8" fill-opacity="0.85" stroke-opacity="0.85"/>
<ellipse cx="320.0" cy="275.1" rx="2.7" ry="2.0" transform="rotate(54 320.0 275.1)" fill="#bc9f94" stroke="#86625e" stroke-width="0.8" fill-opacity="0.85" stroke-opacity="0.85"/>
<ellipse cx="266.4" cy="240.9" rx="1.5" ry="1.0" transform="rotate(163 266.4 240.9)" fill="#b3968c" stroke="#906a62" stroke-width="0.8" fill-opacity="0.85" stroke-opacity="0.85"/>
<ellipse cx="266.4" cy="240.9" rx="0.4" ry="0.3" transform="rotate(163 266.4 240.9)" fill="#e9dfd2"/>
<ellipse cx="280.9" cy="273.0" rx="1.8" ry="1.4" transform="rotate(36 280.9 273.0)" fill="#a98a82" stroke="#906a62" stroke-width="0.8" fill-opacity="0.85" stroke-opacity="0.85"/>
<ellipse cx="343.6" cy="298.4" rx="1.6" ry="1.0" transform="rotate(29 343.6 298.4)" fill="#a98a82" stroke="#906a62" stroke-width="0.8" fill-opacity="0.85" stroke-opacity="0.85"/>
<ellipse cx="280.1" cy="290.8" rx="2.1" ry="1.9" transform="rotate(47 280.1 290.8)" fill="#bc9f94" stroke="#9a746a" stroke-width="0.8" fill-opacity="0.85" stroke-opacity="0.85"/>
<ellipse cx="321.5" cy="290.5" rx="2.6" ry="1.5" transform="rotate(65 321.5 290.5)" fill="#b3968c" stroke="#906a62" stroke-width="0.8" fill-opacity="0.85" stroke-opacity="0.85"/>
<ellipse cx="324.6" cy="236.5" rx="2.9" ry="1.9" transform="rotate(169 324.6 236.5)" fill="#bc9f94" stroke="#86625e" stroke-width="0.8" fill-opacity="0.85" stroke-opacity="0.85"/>
<ellipse cx="324.6" cy="236.5" rx="0.9" ry="0.6" transform="rotate(169 324.6 236.5)" fill="#e9dfd2"/>
<ellipse cx="355.3" cy="257.4" rx="1.5" ry="1.0" transform="rotate(77 355.3 257.4)" fill="#b3968c" stroke="#9a746a" stroke-width="0.8" fill-opacity="0.85" stroke-opacity="0.85"/>
<ellipse cx="250.4" cy="242.8" rx="2.6" ry="1.7" transform="rotate(81 250.4 242.8)" fill="#a98a82" stroke="#906a62" stroke-width="0.8" fill-opacity="0.85" stroke-opacity="0.85"/>
<ellipse cx="333.7" cy="267.9" rx="1.7" ry="1.2" transform="rotate(41 333.7 267.9)" fill="#b3968c" stroke="#906a62" stroke-width="0.8" fill-opacity="0.85" stroke-opacity="0.85"/>
<ellipse cx="344.1" cy="270.1" rx="1.5" ry="1.1" transform="rotate(34 344.1 270.1)" fill="#b3968c" stroke="#9a746a" stroke-width="0.8" fill-opacity="0.85" stroke-opacity="0.85"/>
<ellipse cx="355.0" cy="267.2" rx="2.4" ry="1.4" transform="rotate(41 355.0 267.2)" fill="#b3968c" stroke="#906a62" stroke-width="0.8" fill-opacity="0.85" stroke-opacity="0.85"/>
<ellipse cx="263.2" cy="235.1" rx="1.7" ry="1.1" transform="rotate(105 263.2 235.1)" fill="#a98a82" stroke="#86625e" stroke-width="0.8" fill-opacity="0.85" stroke-opacity="0.85"/>
<ellipse cx="273.5" cy="276.3" rx="2.7" ry="2.2" transform="rotate(176 273.5 276.3)" fill="#b3968c" stroke="#9a746a" stroke-width="0.8" fill-opacity="0.85" stroke-opacity="0.85"/>
<ellipse cx="273.5" cy="276.3" rx="0.8" ry="0.7" transform="rotate(176 273.5 276.3)" fill="#e9dfd2"/>
<ellipse cx="334.0" cy="220.2" rx="2.6" ry="2.1" transform="rotate(139 334.0 220.2)" fill="#bc9f94" stroke="#86625e" stroke-width="0.8" fill-opacity="0.85" stroke-opacity="0.85"/>
<ellipse cx="301.9" cy="265.2" rx="1.9" ry="1.6" transform="rotate(11 301.9 265.2)" fill="#a98a82" stroke="#906a62" stroke-width="0.8" fill-opacity="0.85" stroke-opacity="0.85"/>
<ellipse cx="314.0" cy="248.5" rx="2.1" ry="1.4" transform="rotate(50 314.0 248.5)" fill="#a98a82" stroke="#9a746a" stroke-width="0.8" fill-opacity="0.85" stroke-opacity="0.85"/>
<ellipse cx="348.6" cy="277.7" rx="1.9" ry="1.4" transform="rotate(135 348.6 277.7)" fill="#a98a82" stroke="#906a62" stroke-width="0.8" fill-opacity="0.85" stroke-opacity="0.85"/>
<ellipse cx="264.8" cy="259.5" rx="3.0" ry="1.6" transform="rotate(22 264.8 259.5)" fill="#a98a82" stroke="#86625e" stroke-width="0.8" fill-opacity="0.85" stroke-opacity="0.85"/>
<ellipse cx="335.0" cy="237.8" rx="2.7" ry="1.9" transform="rotate(179 335.0 237.8)" fill="#a98a82" stroke="#906a62" stroke-width="0.8" fill-opacity="0.85" stroke-opacity="0.85"/>
<ellipse cx="318.6" cy="301.3" rx="2.6" ry="1.6" transform="rotate(82 318.6 301.3)" fill="#bc9f94" stroke="#906a62" stroke-width="0.8" fill-opacity="0.85" stroke-opacity="0.85"/>
<ellipse cx="318.6" cy="301.3" rx="0.8" ry="0.5" transform="rotate(82 318.6 301.3)" fill="#e9dfd2"/>
<ellipse cx="246.6" cy="299.5" rx="2.2" ry="1.3" transform="rotate(46 246.6 299.5)" fill="#b3968c" stroke="#906a62" stroke-width="0.8" fill-opacity="0.85" stroke-opacity="0.85"/>
<ellipse cx="287.8" cy="238.3" rx="2.3" ry="1.3" transform="rotate(53 287.8 238.3)" fill="#b3968c" stroke="#9a746a" stroke-width="0.8" fill-opacity="0.85" stroke-opacity="0.85"/>
<ellipse cx="350.3" cy="295.9" rx="2.5" ry="1.5" transform="rotate(159 350.3 295.9)" fill="#a98a82" stroke="#86625e" stroke-width="0.8" fill-opacity="0.85" stroke-opacity="0.85"/>
<ellipse cx="276.2" cy="230.6" rx="1.9" ry="1.1" transform="rotate(163 276.2 230.6)" fill="#bc9f94" stroke="#906a62" stroke-width="0.8" fill-opacity="0.85" stroke-opacity="0.85"/>
<ellipse cx="333.7" cy="263.8" rx="1.5" ry="1.1" transform="rotate(5 333.7 263.8)" fill="#bc9f94" stroke="#86625e" stroke-width="0.8" fill-opacity="0.85" stroke-opacity="0.85"/>
<ellipse cx="291.3" cy="240.1" rx="2.4" ry="2.1" transform="rotate(123 291.3 240.1)" fill="#bc9f94" stroke="#9a746a" stroke-width="0.8" fill-opacity="0.85" stroke-opacity="0.85"/>
<ellipse cx="333.8" cy="239.8" rx="1.8" ry="1.2" transform="rotate(142 333.8 239.8)" fill="#bc9f94" stroke="#9a746a" stroke-width="0.8" fill-opacity="0.85" stroke-opacity="0.85"/>
<ellipse cx="267.4" cy="256.6" rx="2.0" ry="1.7" transform="rotate(59 267.4 256.6)" fill="#b3968c" stroke="#9a746a" stroke-width="0.8" fill-opacity="0.85" stroke-opacity="0.85"/>
<ellipse cx="267.4" cy="256.6" rx="0.6" ry="0.5" transform="rotate(59 267.4 256.6)" fill="#e9dfd2"/>
<ellipse cx="273.3" cy="284.1" rx="1.4" ry="0.9" transform="rotate(114 273.3 284.1)" fill="#b3968c" stroke="#86625e" stroke-width="0.8" fill-opacity="0.85" stroke-opacity="0.85"/>
<ellipse cx="287.9" cy="229.2" rx="2.1" ry="1.8" transform="rotate(93 287.9 229.2)" fill="#b3968c" stroke="#86625e" stroke-width="0.8" fill-opacity="0.85" stroke-opacity="0.85"/>
<ellipse cx="287.9" cy="229.2" rx="0.6" ry="0.5" transform="rotate(93 287.9 229.2)" fill="#e9dfd2"/>
<ellipse cx="338.1" cy="290.8" rx="1.9" ry="1.0" transform="rotate(22 338.1 290.8)" fill="#b3968c" stroke="#906a62" stroke-width="0.8" fill-opacity="0.85" stroke-opacity="0.85"/>
<ellipse cx="338.1" cy="290.8" rx="0.6" ry="0.3" transform="rotate(22 338.1 290.8)" fill="#e9dfd2"/>
<ellipse cx="349.4" cy="243.3" rx="1.9" ry="1.4" transform="rotate(163 349.4 243.3)" fill="#bc9f94" stroke="#86625e" stroke-width="0.8" fill-opacity="0.85" stroke-opacity="0.85"/>
<ellipse cx="252.3" cy="300.2" rx="2.3" ry="1.9" transform="rotate(43 252.3 300.2)" fill="#bc9f94" stroke="#86625e" stroke-width="0.8" fill-opacity="0.85" stroke-opacity="0.85"/>
<ellipse cx="261.4" cy="293.2" rx="2.2" ry="1.6" transform="rotate(9 261.4 293.2)" fill="#bc9f94" stroke="#906a62" stroke-width="0.8" fill-opacity="0.85" stroke-opacity="0.85"/>
<ellipse cx="294.6" cy="242.9" rx="2.7" ry="1.5" transform="rotate(162 294.6 242.9)" fill="#bc9f94" stroke="#906a62" stroke-width="0.8" fill-opacity="0.85" stroke-opacity="0.85"/>
<ellipse cx="260.2" cy="268.4" rx="1.7" ry="1.5" transform="rotate(20 260.2 268.4)" fill="#b3968c" stroke="#86625e" stroke-width="0.8" fill-opacity="0.85" stroke-opacity="0.85"/>
<ellipse cx="250.9" cy="217.5" rx="2.7" ry="2.3" transform="rotate(14 250.9 217.5)" fill="#b3968c" stroke="#9a746a" stroke-width="0.8" fill-opacity="0.85" stroke-opacity="0.85"/>
<ellipse cx="250.9" cy="217.5" rx="0.8" ry="0.7" transform="rotate(14 250.9 217.5)" fill="#e9dfd2"/>
<ellipse cx="261.7" cy="300.3" rx="2.9" ry="2.1" transform="rotate(47 261.7 300.3)" fill="#bc9f94" stroke="#906a62" stroke-width="0.8" fill-opacity="0.85" stroke-opacity="0.85"/>
<ellipse cx="303.4" cy="235.2" rx="2.2" ry="1.6" transform="rotate(138 303.4 235.2)" fill="#bc9f94" stroke="#9a746a" stroke-width="0.8" fill-opacity="0.85" stroke-opacity="0.85"/>
<ellipse cx="353.8" cy="233.9" rx="1.7" ry="1.0" transform="rotate(93 353.8 233.9)" fill="#b3968c" stroke="#86625e" stroke-width="0.8" fill-opacity="0.85" stroke-opacity="0.85"/>
<ellipse cx="288.1" cy="286.5" rx="2.5" ry="1.6" transform="rotate(1 288.1 286.5)" fill="#a98a82" stroke="#906a62" stroke-width="0.8" fill-opacity="0.85" stroke-opacity="0.85"/>
<ellipse cx="351.4" cy="224.3" rx="1.8" ry="1.5" transform="rotate(37 351.4 224.3)" fill="#b3968c" stroke="#9a746a" stroke-width="0.8" fill-opacity="0.85" stroke-opacity="0.85"/>
<ellipse cx="290.2" cy="218.9" rx="1.8" ry="1.4" transform="rotate(58 290.2 218.9)" fill="#a98a82" stroke="#9a746a" stroke-width="0.8" fill-opacity="0.85" stroke-opacity="0.85"/>
<ellipse cx="315.2" cy="290.9" rx="2.4" ry="1.5" transform="rotate(150 315.2 290.9)" fill="#b3968c" stroke="#906a62" stroke-width="0.8" fill-opacity="0.85" stroke-opacity="0.85"/>
<ellipse cx="315.2" cy="290.9" rx="0.7" ry="0.5" transform="rotate(150 315.2 290.9)" fill="#e9dfd2"/>
<ellipse cx="309.0" cy="280.9" rx="1.6" ry="1.4" transform="rotate(163 309.0 280.9)" fill="#bc9f94" stroke="#906a62" stroke-width="0.8" fill-opacity="0.85" stroke-opacity="0.85"/>
<ellipse cx="269.0" cy="298.1" rx="2.1" ry="1.8" transform="rotate(16 269.0 298.1)" fill="#bc9f94" stroke="#906a62" stroke-width="0.8" fill-opacity="0.85" stroke-opacity="0.85"/>
<ellipse cx="269.0" cy="298.1" rx="0.6" ry="0.5" transform="rotate(16 269.0 298.1)" fill="#e9dfd2"/>
<ellipse cx="352.6" cy="243.0" rx="1.5" ry="1.0" transform="rotate(54 352.6 243.0)" fill="#bc9f94" stroke="#906a62" stroke-width="0.8" fill-opacity="0.85" stroke-opacity="0.85"/>
<ellipse cx="249.1" cy="259.4" rx="2.9" ry="2.1" transform="rotate(130 249.1 259.4)" fill="#b3968c" stroke="#9a746a" stroke-width="0.8" fill-opacity="0.85" stroke-opacity="0.85"/>
<ellipse cx="278.1" cy="265.1" rx="3.0" ry="1.8" transform="rotate(102 278.1 265.1)" fill="#bc9f94" stroke="#86625e" stroke-width="0.8" fill-opacity="0.85" stroke-opacity="0.85"/>
<ellipse cx="326.6" cy="255.5" rx="2.5" ry="1.7" transform="rotate(58 326.6 255.5)" fill="#a98a82" stroke="#906a62" stroke-width="0.8" fill-opacity="0.85" stroke-opacity="0.85"/>
<ellipse cx="326.6" cy="255.5" rx="0.7" ry="0.5" transform="rotate(58 326.6 255.5)" fill="#e9dfd2"/>
<ellipse cx="261.6" cy="292.6" rx="1.6" ry="1.3" transform="rotate(36 261.6 292.6)" fill="#b3968c" stroke="#9a746a" stroke-width="0.8" fill-opacity="0.85" stroke-opacity="0.85"/>
<ellipse cx="251.2" cy="240.9" rx="2.3" ry="1.8" transform="rotate(59 251.2 240.9)" fill="#b3968c" stroke="#906a62" stroke-width="0.8" fill-opacity="0.85" stroke-opacity="0.85"/>
<ellipse cx="251.2" cy="240.9" rx="0.7" ry="0.5" transform="rotate(59 251.2 240.9)" fill="#e9dfd2"/>
<ellipse cx="263.2" cy="291.0" rx="2.2" ry="2.0" transform="rotate(20 263.2 291.0)" fill="#bc9f94" stroke="#86625e" stroke-width="0.8" fill-opacity="0.85" stroke-opacity="0.85"/>
<ellipse cx="291.8" cy="223.0" rx="2.4" ry="1.9" transform="rotate(103 291.8 223.0)" fill="#bc9f94" stroke="#906a62" stroke-width="0.8" fill-opacity="0.85" stroke-opacity="0.85"/>
<ellipse cx="291.8" cy="223.0" rx="0.7" ry="0.6" transform="rotate(103 291.8 223.0)" fill="#e9dfd2"/>
<ellipse cx="250.0" cy="238.0" rx="2.3" ry="2.0" transform="rotate(74 250.0 238.0)" fill="#b3968c" stroke="#9a746a" stroke-width="0.8" fill-opacity="0.85" stroke-opacity="0.85"/>
<ellipse cx="299.0" cy="299.9" rx="2.3" ry="1.4" transform="rotate(128 299.0 299.9)" fill="#a98a82" stroke="#86625e" stroke-width="0.8" fill-opacity="0.85" stroke-opacity="0.85"/>
<ellipse cx="280.3" cy="296.4" rx="2.3" ry="1.9" transform="rotate(37 280.3 296.4)" fill="#a98a82" stroke="#906a62" stroke-width="0.8" fill-opacity="0.85" stroke-opacity="0.85"/>
<ellipse cx="249.6" cy="225.0" rx="1.8" ry="1.2" transform="rotate(65 249.6 225.0)" fill="#b3968c" stroke="#906a62" stroke-width="0.8" fill-opacity="0.85" stroke-opacity="0.85"/>
<ellipse cx="338.0" cy="257.6" rx="2.4" ry="1.3" transform="rotate(84 338.0 257.6)" fill="#bc9f94" stroke="#86625e" stroke-width="0.8" fill-opacity="0.85" stroke-opacity="0.85"/>
<ellipse cx="352.6" cy="254.8" rx="2.4" ry="1.9" transform="rotate(54 352.6 254.8)" fill="#bc9f94" stroke="#906a62" stroke-width="0.8" fill-opacity="0.85" stroke-opacity="0.85"/>
<ellipse cx="250.0" cy="296.5" rx="2.0" ry="1.6" transform="rotate(128 250.0 296.5)" fill="#bc9f94" stroke="#9a746a" stroke-width="0.8" fill-opacity="0.85" stroke-opacity="0.85"/>
<ellipse cx="250.0" cy="296.5" rx="0.6" ry="0.5" transform="rotate(128 250.0 296.5)" fill="#e9dfd2"/>
<ellipse cx="307.1" cy="299.3" rx="1.8" ry="1.6" transform="rotate(147 307.1 299.3)" fill="#a98a82" stroke="#906a62" stroke-width="0.8" fill-opacity="0.85" stroke-opacity="0.85"/>
<ellipse cx="307.1" cy="299.3" rx="0.5" ry="0.5" transform="rotate(147 307.1 299.3)" fill="#e9dfd2"/>
<ellipse cx="310.0" cy="260.6" rx="1.9" ry="1.0" transform="rotate(103 310.0 260.6)" fill="#a98a82" stroke="#906a62" stroke-width="0.8" fill-opacity="0.85" stroke-opacity="0.85"/>
<ellipse cx="281.5" cy="263.7" rx="1.9" ry="1.5" transform="rotate(33 281.5 263.7)" fill="#b3968c" stroke="#9a746a" stroke-width="0.8" fill-opacity="0.85" stroke-opacity="0.85"/>
<ellipse cx="345.0" cy="239.3" rx="2.6" ry="2.3" transform="rotate(84 345.0 239.3)" fill="#b3968c" stroke="#906a62" stroke-width="0.8" fill-opacity="0.85" stroke-opacity="0.85"/>
<ellipse cx="295.2" cy="266.2" rx="2.5" ry="2.1" transform="rotate(102 295.2 266.2)" fill="#b3968c" stroke="#906a62" stroke-width="0.8" fill-opacity="0.85" stroke-opacity="0.85"/>
<ellipse cx="295.2" cy="266.2" rx="0.8" ry="0.6" transform="rotate(102 295.2 266.2)" fill="#e9dfd2"/>
<ellipse cx="275.1" cy="264.0" rx="2.6" ry="2.2" transform="rotate(165 275.1 264.0)" fill="#b3968c" stroke="#86625e" stroke-width="0.8" fill-opacity="0.85" stroke-opacity="0.85"/>
<ellipse cx="343.7" cy="249.7" rx="2.1" ry="1.9" transform="rotate(171 343.7 249.7)" fill="#b3968c" stroke="#906a62" stroke-width="0.8" fill-opacity="0.85" stroke-opacity="0.85"/>
<ellipse cx="272.6" cy="230.8" rx="1.9" ry="1.5" transform="rotate(168 272.6 230.8)" fill="#bc9f94" stroke="#9a746a" stroke-width="0.8" fill-opacity="0.85" stroke-opacity="0.85"/>
<ellipse cx="331.5" cy="232.3" rx="1.5" ry="0.8" transform="rotate(63 331.5 232.3)" fill="#bc9f94" stroke="#9a746a" stroke-width="0.8" fill-opacity="0.85" stroke-opacity="0.85"/>
<ellipse cx="292.0" cy="274.2" rx="1.6" ry="0.8" transform="rotate(178 292.0 274.2)" fill="#a98a82" stroke="#906a62" stroke-width="0.8" fill-opacity="0.85" stroke-opacity="0.85"/>
<ellipse cx="336.1" cy="297.3" rx="1.5" ry="0.7" transform="rotate(74 336.1 297.3)" fill="#bc9f94" stroke="#86625e" stroke-width="0.8" fill-opacity="0.85" stroke-opacity="0.85"/>
<ellipse cx="324.9" cy="235.0" rx="2.8" ry="1.6" transform="rotate(33 324.9 235.0)" fill="#b3968c" stroke="#906a62" stroke-width="0.8" fill-opacity="0.85" stroke-opacity="0.85"/>
<ellipse cx="324.9" cy="235.0" rx="0.8" ry="0.5" transform="rotate(33 324.9 235.0)" fill="#e9dfd2"/>
<ellipse cx="284.6" cy="292.4" rx="2.8" ry="2.2" transform="rotate(112 284.6 292.4)" fill="#a98a82" stroke="#86625e" stroke-width="0.8" fill-opacity="0.85" stroke-opacity="0.85"/>
<ellipse cx="328.7" cy="297.4" rx="2.3" ry="1.9" transform="rotate(128 328.7 297.4)" fill="#a98a82" stroke="#9a746a" stroke-width="0.8" fill-opacity="0.85" stroke-opacity="0.85"/>
<ellipse cx="269.8" cy="269.5" rx="2.3" ry="1.4" transform="rotate(155 269.8 269.5)" fill="#bc9f94" stroke="#9a746a" stroke-width="0.8" fill-opacity="0.85" stroke-opacity="0.85"/>
<ellipse cx="304.6" cy="266.6" rx="2.5" ry="1.5" transform="rotate(87 304.6 266.6)" fill="#a98a82" stroke="#9a746a" stroke-width="0.8" fill-opacity="0.85" stroke-opacity="0.85"/>
<ellipse cx="339.8" cy="229.8" rx="1.7" ry="1.2" transform="rotate(65 339.8 229.8)" fill="#b3968c" stroke="#86625e" stroke-width="0.8" fill-opacity="0.85" stroke-opacity="0.85"/>
<ellipse cx="309.7" cy="229.2" rx="2.8" ry="1.4" transform="rotate(158 309.7 229.2)" fill="#b3968c" stroke="#9a746a" stroke-width="0.8" fill-opacity="0.85" stroke-opacity="0.85"/>
<ellipse cx="309.7" cy="229.2" rx="0.8" ry="0.4" transform="rotate(158 309.7 229.2)" fill="#e9dfd2"/>
<ellipse cx="305.8" cy="287.0" rx="1.5" ry="1.3" transform="rotate(99 305.8 287.0)" fill="#a98a82" stroke="#9a746a" stroke-width="0.8" fill-opacity="0.85" stroke-opacity="0.85"/>
<ellipse cx="319.7" cy="283.8" rx="1.6" ry="1.4" transform="rotate(163 319.7 283.8)" fill="#bc9f94" stroke="#9a746a" stroke-width="0.8" fill-opacity="0.85" stroke-opacity="0.85"/>
<ellipse cx="319.7" cy="283.8" rx="0.5" ry="0.4" transform="rotate(163 319.7 283.8)" fill="#e9dfd2"/>
<ellipse cx="331.7" cy="260.4" rx="2.0" ry="1.6" transform="rotate(5 331.7 260.4)" fill="#a98a82" stroke="#86625e" stroke-width="0.8" fill-opacity="0.85" stroke-opacity="0.85"/>
<ellipse cx="253.2" cy="238.2" rx="2.9" ry="2.3" transform="rotate(171 253.2 238.2)" fill="#b3968c" stroke="#9a746a" stroke-width="0.8" fill-opacity="0.85" stroke-opacity="0.85"/>
<ellipse cx="275.8" cy="301.0" rx="2.7" ry="1.5" transform="rotate(74 275.8 301.0)" fill="#a98a82" stroke="#9a746a" stroke-width="0.8" fill-opacity="0.85" stroke-opacity="0.85"/>
<ellipse cx="344.8" cy="264.4" rx="2.2" ry="1.9" transform="rotate(152 344.8 264.4)" fill="#bc9f94" stroke="#906a62" stroke-width="0.8" fill-opacity="0.85" stroke-opacity="0.85"/>
<ellipse cx="288.2" cy="296.6" rx="2.1" ry="1.3" transform="rotate(96 288.2 296.6)" fill="#bc9f94" stroke="#9a746a" stroke-width="0.8" fill-opacity="0.85" stroke-opacity="0.85"/>
<ellipse cx="265.3" cy="287.7" rx="1.7" ry="1.3" transform="rotate(152 265.3 287.7)" fill="#bc9f94" stroke="#9a746a" stroke-width="0.8" fill-opacity="0.85" stroke-opacity="0.85"/>
<ellipse cx="319.9" cy="273.2" rx="1.8" ry="0.9" transform="rotate(173 319.9 273.2)" fill="#b3968c" stroke="#86625e" stroke-width="0.8" fill-opacity="0.85" stroke-opacity="0.85"/>
<ellipse cx="290.3" cy="219.5" rx="2.4" ry="2.1" transform="rotate(180 290.3 219.5)" fill="#a98a82" stroke="#86625e" stroke-width="0.8" fill-opacity="0.85" stroke-opacity="0.85"/>
<ellipse cx="290.3" cy="219.5" rx="0.7" ry="0.6" transform="rotate(180 290.3 219.5)" fill="#e9dfd2"/>
<ellipse cx="342.6" cy="220.7" rx="1.6" ry="1.2" transform="rotate(27 342.6 220.7)" fill="#b3968c" stroke="#9a746a" stroke-width="0.8" fill-opacity="0.85" stroke-opacity="0.85"/>
<ellipse cx="274.5" cy="236.2" rx="2.6" ry="2.4" transform="rotate(31 274.5 236.2)" fill="#b3968c" stroke="#906a62" stroke-width="0.8" fill-opacity="0.85" stroke-opacity="0.85"/>
<ellipse cx="302.9" cy="271.5" rx="1.5" ry="1.3" transform="rotate(132 302.9 271.5)" fill="#bc9f94" stroke="#906a62" stroke-width="0.8" fill-opacity="0.85" stroke-opacity="0.85"/>
<ellipse cx="306.0" cy="244.2" rx="1.5" ry="1.4" transform="rotate(158 306.0 244.2)" fill="#a98a82" stroke="#86625e" stroke-width="0.8" fill-opacity="0.85" stroke-opacity="0.85"/>
<ellipse cx="347.8" cy="291.4" rx="1.9" ry="1.4" transform="rotate(138 347.8 291.4)" fill="#b3968c" stroke="#9a746a" stroke-width="0.8" fill-opacity="0.85" stroke-opacity="0.85"/>
<ellipse cx="260.8" cy="288.3" rx="2.0" ry="1.9" transform="rotate(52 260.8 288.3)" fill="#bc9f94" stroke="#906a62" stroke-width="0.8" fill-opacity="0.85" stroke-opacity="0.85"/>
<ellipse cx="287.9" cy="245.3" rx="2.5" ry="2.1" transform="rotate(123 287.9 245.3)" fill="#b3968c" stroke="#9a746a" stroke-width="0.8" fill-opacity="0.85" stroke-opacity="0.85"/>
<ellipse cx="338.1" cy="275.7" rx="2.6" ry="1.6" transform="rotate(164 338.1 275.7)" fill="#bc9f94" stroke="#86625e" stroke-width="0.8" fill-opacity="0.85" stroke-opacity="0.85"/>
<ellipse cx="249.3" cy="285.2" rx="1.8" ry="1.3" transform="rotate(4 249.3 285.2)" fill="#b3968c" stroke="#906a62" stroke-width="0.8" fill-opacity="0.85" stroke-opacity="0.85"/>
<ellipse cx="249.3" cy="285.2" rx="0.6" ry="0.4" transform="rotate(4 249.3 285.2)" fill="#e9dfd2"/>
<ellipse cx="295.4" cy="224.5" rx="1.7" ry="1.1" transform="rotate(39 295.4 224.5)" fill="#bc9f94" stroke="#9a746a" stroke-width="0.8" fill-opacity="0.85" stroke-opacity="0.85"/>
<ellipse cx="295.4" cy="224.5" rx="0.5" ry="0.3" transform="rotate(39 295.4 224.5)" fill="#e9dfd2"/>
<ellipse cx="255.6" cy="260.8" rx="1.5" ry="0.9" transform="rotate(122 255.6 260.8)" fill="#bc9f94" stroke="#9a746a" stroke-width="0.8" fill-opacity="0.85" stroke-opacity="0.85"/>
<ellipse cx="264.0" cy="253.9" rx="2.9" ry="2.7" transform="rotate(173 264.0 253.9)" fill="#a98a82" stroke="#86625e" stroke-width="0.8" fill-opacity="0.85" stroke-opacity="0.85"/>
<ellipse cx="264.0" cy="253.9" rx="0.9" ry="0.8" transform="rotate(173 264.0 253.9)" fill="#e9dfd2"/>
<ellipse cx="355.0" cy="246.3" rx="2.6" ry="2.3" transform="rotate(110 355.0 246.3)" fill="#bc9f94" stroke="#9a746a" stroke-width="0.8" fill-opacity="0.85" stroke-opacity="0.85"/>
<ellipse cx="355.0" cy="246.3" rx="0.8" ry="0.7" transform="rotate(110 355.0 246.3)" fill="#e9dfd2"/>
<ellipse cx="288.7" cy="249.6" rx="2.5" ry="1.8" transform="rotate(88 288.7 249.6)" fill="#b3968c" stroke="#9a746a" stroke-width="0.8" fill-opacity="0.85" stroke-opacity="0.85"/>
<ellipse cx="278.1" cy="233.7" rx="1.5" ry="1.4" transform="rotate(156 278.1 233.7)" fill="#bc9f94" stroke="#9a746a" stroke-width="0.8" fill-opacity="0.85" stroke-opacity="0.85"/>
<ellipse cx="268.7" cy="264.6" rx="1.7" ry="1.4" transform="rotate(1 268.7 264.6)" fill="#b3968c" stroke="#86625e" stroke-width="0.8" fill-opacity="0.85" stroke-opacity="0.85"/>
<ellipse cx="303.0" cy="250.6" rx="1.7" ry="1.2" transform="rotate(174 303.0 250.6)" fill="#bc9f94" stroke="#86625e" stroke-width="0.8" fill-opacity="0.85" stroke-opacity="0.85"/>
<ellipse cx="354.4" cy="293.5" rx="2.7" ry="1.6" transform="rotate(16 354.4 293.5)" fill="#b3968c" stroke="#86625e" stroke-width="0.8" fill-opacity="0.85" stroke-opacity="0.85"/>
<ellipse cx="354.4" cy="293.5" rx="0.8" ry="0.5" transform="rotate(16 354.4 293.5)" fill="#e9dfd2"/>
<ellipse cx="291.6" cy="234.4" rx="2.3" ry="1.9" transform="rotate(164 291.6 234.4)" fill="#a98a82" stroke="#86625e" stroke-width="0.8" fill-opacity="0.85" stroke-opacity="0.85"/>
<ellipse cx="251.2" cy="277.9" rx="2.2" ry="1.5" transform="rotate(154 251.2 277.9)" fill="#b3968c" stroke="#86625e" stroke-width="0.8" fill-opacity="0.85" stroke-opacity="0.85"/>
<ellipse cx="303.1" cy="302.3" rx="2.2" ry="1.3" transform="rotate(70 303.1 302.3)" fill="#bc9f94" stroke="#906a62" stroke-width="0.8" fill-opacity="0.85" stroke-opacity="0.85"/>
<ellipse cx="303.1" cy="302.3" rx="0.7" ry="0.4" transform="rotate(70 303.1 302.3)" fill="#e9dfd2"/>
<ellipse cx="332.3" cy="300.8" rx="2.5" ry="2.0" transform="rotate(152 332.3 300.8)" fill="#b3968c" stroke="#906a62" stroke-width="0.8" fill-opacity="0.85" stroke-opacity="0.85"/>
<ellipse cx="332.3" cy="300.8" rx="0.8" ry="0.6" transform="rotate(152 332.3 300.8)" fill="#e9dfd2"/>
<ellipse cx="336.8" cy="240.8" rx="2.6" ry="2.4" transform="rotate(173 336.8 240.8)" fill="#b3968c" stroke="#86625e" stroke-width="0.8" fill-opacity="0.85" stroke-opacity="0.85"/>
<ellipse cx="327.2" cy="227.8" rx="1.5" ry="1.1" transform="rotate(17 327.2 227.8)" fill="#bc9f94" stroke="#9a746a" stroke-width="0.8" fill-opacity="0.85" stroke-opacity="0.85"/>
<ellipse cx="277.8" cy="273.8" rx="3.0" ry="2.4" transform="rotate(47 277.8 273.8)" fill="#b3968c" stroke="#906a62" stroke-width="0.8" fill-opacity="0.85" stroke-opacity="0.85"/>
<ellipse cx="277.8" cy="273.8" rx="0.9" ry="0.7" transform="rotate(47 277.8 273.8)" fill="#e9dfd2"/>
<ellipse cx="249.9" cy="235.1" rx="1.7" ry="1.6" transform="rotate(62 249.9 235.1)" fill="#bc9f94" stroke="#9a746a" stroke-width="0.8" fill-opacity="0.85" stroke-opacity="0.85"/>
<ellipse cx="344.5" cy="291.1" rx="3.0" ry="2.3" transform="rotate(90 344.5 291.1)" fill="#bc9f94" stroke="#906a62" stroke-width="0.8" fill-opacity="0.85" stroke-opacity="0.85"/>
<ellipse cx="247.4" cy="264.5" rx="2.6" ry="1.5" transform="rotate(35 247.4 264.5)" fill="#bc9f94" stroke="#86625e" stroke-width="0.8" fill-opacity="0.85" stroke-opacity="0.85"/>
<ellipse cx="323.1" cy="223.0" rx="1.7" ry="1.6" transform="rotate(54 323.1 223.0)" fill="#bc9f94" stroke="#86625e" stroke-width="0.8" fill-opacity="0.85" stroke-opacity="0.85"/>
<ellipse cx="344.2" cy="289.6" rx="1.9" ry="1.6" transform="rotate(115 344.2 289.6)" fill="#b3968c" stroke="#906a62" stroke-width="0.8" fill-opacity="0.85" stroke-opacity="0.85"/>
<ellipse cx="315.9" cy="279.5" rx="2.3" ry="1.8" transform="rotate(52 315.9 279.5)" fill="#a98a82" stroke="#906a62" stroke-width="0.8" fill-opacity="0.85" stroke-opacity="0.85"/>
<ellipse cx="312.8" cy="223.2" rx="2.2" ry="2.0" transform="rotate(84 312.8 223.2)" fill="#bc9f94" stroke="#9a746a" stroke-width="0.8" fill-opacity="0.85" stroke-opacity="0.85"/>
<ellipse cx="296.7" cy="275.8" rx="2.1" ry="1.2" transform="rotate(155 296.7 275.8)" fill="#a98a82" stroke="#9a746a" stroke-width="0.8" fill-opacity="0.85" stroke-opacity="0.85"/>
<ellipse cx="282.9" cy="257.6" rx="2.6" ry="2.0" transform="rotate(58 282.9 257.6)" fill="#b3968c" stroke="#906a62" stroke-width="0.8" fill-opacity="0.85" stroke-opacity="0.85"/>
<ellipse cx="311.1" cy="283.4" rx="1.8" ry="1.3" transform="rotate(107 311.1 283.4)" fill="#bc9f94" stroke="#906a62" stroke-width="0.8" fill-opacity="0.85" stroke-opacity="0.85"/>
<ellipse cx="299.7" cy="241.1" rx="1.9" ry="1.6" transform="rotate(143 299.7 241.1)" fill="#bc9f94" stroke="#906a62" stroke-width="0.8" fill-opacity="0.85" stroke-opacity="0.85"/>
<ellipse cx="341.1" cy="228.4" rx="1.7" ry="1.5" transform="rotate(70 341.1 228.4)" fill="#b3968c" stroke="#86625e" stroke-width="0.8" fill-opacity="0.85" stroke-opacity="0.85"/>
<ellipse cx="341.1" cy="228.4" rx="0.5" ry="0.5" transform="rotate(70 341.1 228.4)" fill="#e9dfd2"/>
<ellipse cx="332.3" cy="272.6" rx="2.4" ry="1.2" transform="rotate(166 332.3 272.6)" fill="#bc9f94" stroke="#906a62" stroke-width="0.8" fill-opacity="0.85" stroke-opacity="0.85"/>
<ellipse cx="250.7" cy="217.0" rx="1.6" ry="1.1" transform="rotate(28 250.7 217.0)" fill="#bc9f94" stroke="#9a746a" stroke-width="0.8" fill-opacity="0.85" stroke-opacity="0.85"/>
<ellipse cx="247.7" cy="219.5" rx="1.5" ry="1.0" transform="rotate(89 247.7 219.5)" fill="#b3968c" stroke="#9a746a" stroke-width="0.8" fill-opacity="0.85" stroke-opacity="0.85"/>
<ellipse cx="247.7" cy="219.5" rx="0.4" ry="0.3" transform="rotate(89 247.7 219.5)" fill="#e9dfd2"/>
<ellipse cx="312.7" cy="272.5" rx="2.3" ry="2.1" transform="rotate(116 312.7 272.5)" fill="#b3968c" stroke="#86625e" stroke-width="0.8" fill-opacity="0.85" stroke-opacity="0.85"/>
<ellipse cx="259.8" cy="265.6" rx="2.8" ry="1.8" transform="rotate(178 259.8 265.6)" fill="#bc9f94" stroke="#86625e" stroke-width="0.8" fill-opacity="0.85" stroke-opacity="0.85"/>
<ellipse cx="285.7" cy="286.0" rx="3.0" ry="1.7" transform="rotate(9 285.7 286.0)" fill="#a98a82" stroke="#906a62" stroke-width="0.8" fill-opacity="0.85" stroke-opacity="0.85"/>
<ellipse cx="283.0" cy="230.1" rx="1.6" ry="1.0" transform="rotate(48 283.0 230.1)" fill="#b3968c" stroke="#86625e" stroke-width="0.8" fill-opacity="0.85" stroke-opacity="0.85"/>
<ellipse cx="336.0" cy="289.7" rx="2.9" ry="2.4" transform="rotate(19 336.0 289.7)" fill="#bc9f94" stroke="#9a746a" stroke-width="0.8" fill-opacity="0.85" stroke-opacity="0.85"/>
<ellipse cx="293.7" cy="270.2" rx="2.0" ry="1.9" transform="rotate(150 293.7 270.2)" fill="#a98a82" stroke="#9a746a" stroke-width="0.8" fill-opacity="0.85" stroke-opacity="0.85"/>
<ellipse cx="265.0" cy="244.5" rx="2.5" ry="1.6" transform="rotate(50 265.0 244.5)" fill="#a98a82" stroke="#86625e" stroke-width="0.8" fill-opacity="0.85" stroke-opacity="0.85"/>
<ellipse cx="265.0" cy="244.5" rx="0.8" ry="0.5" transform="rotate(50 265.0 244.5)" fill="#e9dfd2"/>
<ellipse cx="247.1" cy="282.2" rx="2.0" ry="1.2" transform="rotate(150 247.1 282.2)" fill="#bc9f94" stroke="#86625e" stroke-width="0.8" fill-opacity="0.85" stroke-opacity="0.85"/>
<ellipse cx="247.1" cy="282.2" rx="0.6" ry="0.4" transform="rotate(150 247.1 282.2)" fill="#e9dfd2"/>
<ellipse cx="262.6" cy="295.4" rx="2.3" ry="1.5" transform="rotate(112 262.6 295.4)" fill="#a98a82" stroke="#906a62" stroke-width="0.8" fill-opacity="0.85" stroke-opacity="0.85"/>
<ellipse cx="262.6" cy="295.4" rx="0.7" ry="0.5" transform="rotate(112 262.6 295.4)" fill="#e9dfd2"/>
<ellipse cx="334.2" cy="298.8" rx="2.6" ry="2.2" transform="rotate(176 334.2 298.8)" fill="#b3968c" stroke="#906a62" stroke-width="0.8" fill-opacity="0.85" stroke-opacity="0.85"/>
<ellipse cx="334.2" cy="298.8" rx="0.8" ry="0.6" transform="rotate(176 334.2 298.8)" fill="#e9dfd2"/>
<ellipse cx="326.9" cy="299.6" rx="2.5" ry="1.7" transform="rotate(132 326.9 299.6)" fill="#b3968c" stroke="#906a62" stroke-width="0.8" fill-opacity="0.85" stroke-opacity="0.85"/>
<ellipse cx="351.0" cy="282.1" rx="2.9" ry="2.0" transform="rotate(158 351.0 282.1)" fill="#b3968c" stroke="#906a62" stroke-width="0.8" fill-opacity="0.85" stroke-opacity="0.85"/>
<ellipse cx="266.7" cy="296.5" rx="2.6" ry="1.7" transform="rotate(171 266.7 296.5)" fill="#a98a82" stroke="#906a62" stroke-width="0.8" fill-opacity="0.85" stroke-opacity="0.85"/>
<ellipse cx="344.3" cy="234.0" rx="2.8" ry="2.6" transform="rotate(95 344.3 234.0)" fill="#a98a82" stroke="#906a62" stroke-width="0.8" fill-opacity="0.85" stroke-opacity="0.85"/>
<ellipse cx="355.5" cy="297.6" rx="2.4" ry="1.2" transform="rotate(60 355.5 297.6)" fill="#a98a82" stroke="#86625e" stroke-width="0.8" fill-opacity="0.85" stroke-opacity="0.85"/>
<ellipse cx="277.9" cy="249.9" rx="1.8" ry="1.1" transform="rotate(93 277.9 249.9)" fill="#bc9f94" stroke="#86625e" stroke-width="0.8" fill-opacity="0.85" stroke-opacity="0.85"/>
<ellipse cx="308.6" cy="262.6" rx="2.4" ry="1.7" transform="rotate(151 308.6 262.6)" fill="#b3968c" stroke="#86625e" stroke-width="0.8" fill-opacity="0.85" stroke-opacity="0.85"/>
<ellipse cx="308.6" cy="262.6" rx="0.7" ry="0.5" transform="rotate(151 308.6 262.6)" fill="#e9dfd2"/>
<ellipse cx="293.8" cy="250.5" rx="2.9" ry="1.9" transform="rotate(64 293.8 250.5)" fill="#a98a82" stroke="#906a62" stroke-width="0.8" fill-opacity="0.85" stroke-opacity="0.85"/>
<ellipse cx="355.5" cy="235.5" rx="1.4" ry="0.7" transform="rotate(135 355.5 235.5)" fill="#a98a82" stroke="#9a746a" stroke-width="0.8" fill-opacity="0.85" stroke-opacity="0.85"/>
<ellipse cx="323.9" cy="282.1" rx="3.0" ry="2.5" transform="rotate(31 323.9 282.1)" fill="#bc9f94" stroke="#906a62" stroke-width="0.8" fill-opacity="0.85" stroke-opacity="0.85"/>
<ellipse cx="323.9" cy="282.1" rx="0.9" ry="0.7" transform="rotate(31 323.9 282.1)" fill="#e9dfd2"/>
<ellipse cx="307.3" cy="285.4" rx="1.5" ry="0.9" transform="rotate(11 307.3 285.4)" fill="#a98a82" stroke="#86625e" stroke-width="0.8" fill-opacity="0.85" stroke-opacity="0.85"/>
<ellipse cx="345.7" cy="265.9" rx="2.1" ry="1.8" transform="rotate(81 345.7 265.9)" fill="#a98a82" stroke="#906a62" stroke-width="0.8" fill-opacity="0.85" stroke-opacity="0.85"/>
<ellipse cx="267.3" cy="292.2" rx="2.6" ry="2.3" transform="rotate(112 267.3 292.2)" fill="#b3968c" stroke="#906a62" stroke-width="0.8" fill-opacity="0.85" stroke-opacity="0.85"/>
<ellipse cx="271.2" cy="247.0" rx="1.4" ry="1.3" transform="rotate(62 271.2 247.0)" fill="#b3968c" stroke="#906a62" stroke-width="0.8" fill-opacity="0.85" stroke-opacity="0.85"/>
<ellipse cx="257.8" cy="234.3" rx="2.8" ry="2.5" transform="rotate(110 257.8 234.3)" fill="#b3968c" stroke="#86625e" stroke-width="0.8" fill-opacity="0.85" stroke-opacity="0.85"/>
<ellipse cx="257.8" cy="234.3" rx="0.8" ry="0.8" transform="rotate(110 257.8 234.3)" fill="#e9dfd2"/>
<ellipse cx="270.2" cy="254.6" rx="2.6" ry="1.6" transform="rotate(53 270.2 254.6)" fill="#bc9f94" stroke="#906a62" stroke-width="0.8" fill-opacity="0.85" stroke-opacity="0.85"/>
<ellipse cx="330.1" cy="243.7" rx="1.4" ry="1.0" transform="rotate(94 330.1 243.7)" fill="#a98a82" stroke="#9a746a" stroke-width="0.8" fill-opacity="0.85" stroke-opacity="0.85"/>
<ellipse cx="339.1" cy="300.5" rx="1.7" ry="1.0" transform="rotate(81 339.1 300.5)" fill="#a98a82" stroke="#9a746a" stroke-width="0.8" fill-opacity="0.85" stroke-opacity="0.85"/>
<ellipse cx="339.1" cy="300.5" rx="0.5" ry="0.3" transform="rotate(81 339.1 300.5)" fill="#e9dfd2"/>
<ellipse cx="263.1" cy="263.3" rx="1.9" ry="1.1" transform="rotate(42 263.1 263.3)" fill="#a98a82" stroke="#86625e" stroke-width="0.8" fill-opacity="0.85" stroke-opacity="0.85"/>
<ellipse cx="260.2" cy="258.2" rx="2.2" ry="1.4" transform="rotate(117 260.2 258.2)" fill="#a98a82" stroke="#86625e" stroke-width="0.8" fill-opacity="0.85" stroke-opacity="0.85"/>
<ellipse cx="282.8" cy="240.1" rx="2.2" ry="1.3" transform="rotate(29 282.8 240.1)" fill="#a98a82" stroke="#9a746a" stroke-width="0.8" fill-opacity="0.85" stroke-opacity="0.85"/>
<ellipse cx="282.8" cy="240.1" rx="0.7" ry="0.4" transform="rotate(29 282.8 240.1)" fill="#e9dfd2"/>
<ellipse cx="282.9" cy="259.3" rx="1.4" ry="0.9" transform="rotate(123 282.9 259.3)" fill="#b3968c" stroke="#9a746a" stroke-width="0.8" fill-opacity="0.85" stroke-opacity="0.85"/>
<ellipse cx="341.2" cy="269.8" rx="2.8" ry="2.2" transform="rotate(98 341.2 269.8)" fill="#b3968c" stroke="#9a746a" stroke-width="0.8" fill-opacity="0.85" stroke-opacity="0.85"/>
<ellipse cx="341.2" cy="269.8" rx="0.8" ry="0.6" transform="rotate(98 341.2 269.8)" fill="#e9dfd2"/>
<ellipse cx="348.4" cy="259.9" rx="1.8" ry="1.2" transform="rotate(75 348.4 259.9)" fill="#bc9f94" stroke="#9a746a" stroke-width="0.8" fill-opacity="0.85" stroke-opacity="0.85"/>
<ellipse cx="285.1" cy="268.8" rx="2.0" ry="1.8" transform="rotate(130 285.1 268.8)" fill="#bc9f94" stroke="#9a746a" stroke-width="0.8" fill-opacity="0.85" stroke-opacity="0.85"/>
<ellipse cx="247.4" cy="290.5" rx="2.3" ry="2.0" transform="rotate(136 247.4 290.5)" fill="#bc9f94" stroke="#906a62" stroke-width="0.8" fill-opacity="0.85" stroke-opacity="0.85"/>
<ellipse cx="307.2" cy="268.2" rx="2.9" ry="2.5" transform="rotate(98 307.2 268.2)" fill="#a98a82" stroke="#906a62" stroke-width="0.8" fill-opacity="0.85" stroke-opacity="0.85"/>
<ellipse cx="286.6" cy="231.9" rx="2.7" ry="1.6" transform="rotate(109 286.6 231.9)" fill="#a98a82" stroke="#86625e" stroke-width="0.8" fill-opacity="0.85" stroke-opacity="0.85"/>
<ellipse cx="299.9" cy="285.6" rx="1.5" ry="1.2" transform="rotate(47 299.9 285.6)" fill="#bc9f94" stroke="#9a746a" stroke-width="0.8" fill-opacity="0.85" stroke-opacity="0.85"/>
<ellipse cx="308.7" cy="294.8" rx="2.9" ry="2.5" transform="rotate(89 308.7 294.8)" fill="#a98a82" stroke="#906a62" stroke-width="0.8" fill-opacity="0.85" stroke-opacity="0.85"/>
<ellipse cx="296.5" cy="241.9" rx="2.9" ry="1.8" transform="rotate(98 296.5 241.9)" fill="#a98a82" stroke="#906a62" stroke-width="0.8" fill-opacity="0.85" stroke-opacity="0.85"/>
<ellipse cx="296.5" cy="241.9" rx="0.9" ry="0.5" transform="rotate(98 296.5 241.9)" fill="#e9dfd2"/>
<ellipse cx="255.3" cy="288.0" rx="2.1" ry="1.6" transform="rotate(87 255.3 288.0)" fill="#bc9f94" stroke="#906a62" stroke-width="0.8" fill-opacity="0.85" stroke-opacity="0.85"/>
<ellipse cx="291.9" cy="256.6" rx="2.0" ry="1.4" transform="rotate(102 291.9 256.6)" fill="#bc9f94" stroke="#906a62" stroke-width="0.8" fill-opacity="0.85" stroke-opacity="0.85"/>
<ellipse cx="291.9" cy="256.6" rx="0.6" ry="0.4" transform="rotate(102 291.9 256.6)" fill="#e9dfd2"/>
<ellipse cx="336.0" cy="226.1" rx="1.8" ry="1.6" transform="rotate(103 336.0 226.1)" fill="#bc9f94" stroke="#86625e" stroke-width="0.8" fill-opacity="0.85" stroke-opacity="0.85"/>
<ellipse cx="346.6" cy="280.1" rx="1.5" ry="1.3" transform="rotate(53 346.6 280.1)" fill="#b3968c" stroke="#9a746a" stroke-width="0.8" fill-opacity="0.85" stroke-opacity="0.85"/>
<ellipse cx="346.6" cy="280.1" rx="0.4" ry="0.4" transform="rotate(53 346.6 280.1)" fill="#e9dfd2"/>
</g>
<path d="M297.0 277.7h.01M277.5 286.5h.01M257.4 255.5h.01M266.8 287.3h.01M327.2 243.6h.01M345.8 218.2h.01M309.7 247.2h.01M346.4 234.9h.01M309.7 217.1h.01M348.3 287.0h.01M326.5 267.6h.01M309.7 258.6h.01M324.6 229.8h.01M325.4 219.8h.01M353.0 225.1h.01M252.0 273.0h.01M307.5 281.1h.01M287.9 293.4h.01M247.9 234.4h.01M300.5 291.6h.01M257.1 241.0h.01M296.1 294.5h.01M280.2 294.9h.01M309.8 217.0h.01M354.0 257.1h.01M311.0 265.2h.01M248.4 284.3h.01M291.2 280.8h.01M277.2 261.8h.01M283.7 285.9h.01M263.2 258.2h.01M330.3 285.2h.01M317.8 284.3h.01M307.2 274.3h.01M329.7 224.1h.01M271.3 241.8h.01M320.1 222.9h.01M353.6 282.2h.01M285.1 220.6h.01M278.4 284.7h.01M341.4 248.6h.01M336.6 294.9h.01M315.8 218.0h.01M315.6 257.7h.01M318.0 288.4h.01M262.4 263.8h.01M329.6 271.3h.01M268.0 222.4h.01M298.9 226.4h.01M307.3 264.5h.01M270.8 287.4h.01M289.5 226.1h.01M334.8 284.6h.01M324.2 244.3h.01M277.3 296.5h.01M318.8 242.4h.01M328.4 283.5h.01M322.0 271.3h.01M344.6 221.3h.01M284.3 243.9h.01M255.3 253.1h.01M271.4 241.4h.01M348.5 242.3h.01M344.8 273.1h.01M333.6 283.7h.01M270.0 240.0h.01M353.1 228.0h.01M259.5 221.5h.01M266.2 299.9h.01M292.1 263.9h.01M339.1 295.8h.01M290.6 222.6h.01M307.4 271.9h.01M300.9 219.8h.01M310.3 236.8h.01M279.9 217.9h.01M279.5 281.0h.01M290.8 253.9h.01M342.1 267.2h.01M344.7 245.4h.01M275.7 275.3h.01M307.3 242.5h.01M332.1 270.4h.01M310.5 247.1h.01M344.2 255.0h.01M256.8 301.5h.01M327.3 261.9h.01M251.7 219.0h.01M326.9 274.8h.01M342.5 283.3h.01M318.7 241.0h.01M281.1 260.6h.01M328.2 225.1h.01M257.0 258.1h.01M269.9 241.7h.01M249.0 247.1h.01M342.6 221.8h.01M313.2 238.1h.01M266.7 232.4h.01M254.4 231.7h.01M323.5 238.5h.01M294.7 294.5h.01M280.0 230.0h.01M347.6 232.8h.01M254.2 239.1h.01M337.8 231.5h.01M276.7 288.2h.01M338.5 292.8h.01M301.7 261.0h.01M270.1 281.3h.01M259.5 258.4h.01M308.2 289.4h.01M322.2 253.2h.01M317.9 224.8h.01M298.6 282.4h.01M344.6 265.7h.01M322.9 252.8h.01M280.5 225.5h.01M255.1 266.3h.01M326.8 259.1h.01M312.0 241.6h.01M265.1 267.0h.01M353.0 235.9h.01M284.6 276.6h.01M344.5 244.6h.01M257.5 292.1h.01M287.1 300.8h.01M283.9 236.5h.01M328.4 273.6h.01M248.6 267.0h.01M255.6 260.8h.01M320.1 280.3h.01M277.3 281.6h.01M346.7 228.3h.01M313.7 302.2h.01M278.1 266.3h.01M273.9 292.8h.01M349.3 228.6h.01M323.4 294.5h.01M351.7 247.6h.01M266.7 289.8h.01M276.3 287.9h.01M254.2 223.5h.01M320.4 291.5h.01M269.7 288.7h.01M256.5 295.8h.01M346.4 237.2h.01M247.3 262.3h.01M353.3 255.4h.01M333.4 272.0h.01M320.3 257.3h.01M276.5 276.2h.01M329.3 288.4h.01M269.6 285.3h.01M251.2 220.2h.01M290.7 238.1h.01M326.5 221.3h.01M268.5 237.5h.01M286.7 232.5h.01M295.7 242.6h.01M339.9 226.5h.01M307.2 255.4h.01M295.3 235.1h.01M331.2 297.8h.01M330.0 257.5h.01M311.3 245.8h.01M289.6 290.8h.01M295.7 234.1h.01M305.0 237.0h.01M284.0 298.2h.01M302.5 294.1h.01M321.7 267.2h.01M258.5 266.2h.01M343.1 262.1h.01M327.1 295.8h.01M262.8 242.6h.01M278.2 298.5h.01M337.9 230.8h.01M283.6 225.5h.01M294.9 263.8h.01M318.9 295.7h.01M348.9 265.2h.01M349.7 272.7h.01M310.9 268.5h.01M302.4 242.0h.01M281.0 300.6h.01M295.5 255.9h.01M328.3 286.2h.01M287.1 229.5h.01M258.4 250.4h.01M349.1 221.3h.01M338.1 269.4h.01M317.2 231.3h.01M270.2 244.5h.01M321.8 265.2h.01M311.2 265.8h.01M317.5 238.3h.01M347.2 260.1h.01M320.4 272.1h.01M293.3 293.4h.01M276.1 270.8h.01M314.0 280.2h.01M319.3 225.5h.01M350.8 277.9h.01M318.9 285.2h.01M258.9 221.2h.01M302.6 297.5h.01M344.1 273.7h.01M259.2 296.2h.01M343.8 244.1h.01M313.4 277.6h.01M290.1 259.5h.01M246.1 290.1h.01M328.1 290.6h.01M265.2 237.8h.01M312.6 280.0h.01M274.9 241.5h.01M273.3 262.5h.01M317.2 220.2h.01M314.3 238.9h.01M308.7 232.5h.01M297.9 279.0h.01M302.4 225.3h.01M293.3 259.6h.01M269.1 296.5h.01M323.2 224.5h.01M288.1 265.2h.01M341.4 262.6h.01M286.4 284.0h.01M265.3 222.0h.01M271.5 295.2h.01M266.8 248.3h.01M260.9 258.1h.01M307.3 302.5h.01M254.1 251.5h.01M309.9 231.0h.01M273.7 299.1h.01M355.7 217.0h.01M255.9 222.5h.01M351.5 252.1h.01M311.0 253.6h.01M263.2 220.8h.01M322.7 291.0h.01M271.9 260.7h.01M268.5 295.9h.01M313.5 260.3h.01M334.1 228.4h.01M338.1 246.4h.01M343.7 217.0h.01M295.6 291.2h.01M272.9 278.1h.01M282.6 275.7h.01M272.8 270.1h.01M293.8 276.0h.01M298.8 231.6h.01M316.5 243.7h.01M336.0 253.5h.01M321.7 286.7h.01M268.7 275.9h.01M347.8 236.6h.01M260.9 244.2h.01M264.7 278.3h.01M272.2 244.4h.01M334.3 255.3h.01M334.4 250.0h.01M270.2 293.9h.01M272.4 260.1h.01M353.3 294.6h.01M334.0 241.7h.01M262.8 296.8h.01M281.3 230.1h.01M265.9 218.0h.01M271.3 250.7h.01M313.9 226.0h.01M251.2 251.4h.01M314.1 289.5h.01M308.1 274.0h.01M277.5 224.4h.01M313.8 222.4h.01M267.9 265.1h.01M302.5 230.2h.01M272.0 259.3h.01M340.6 263.7h.01M283.0 218.7h.01M312.4 278.9h.01M257.8 245.2h.01M279.7 300.7h.01M303.7 247.6h.01M290.4 243.9h.01M317.2 249.3h.01M329.1 222.1h.01M265.8 242.4h.01M339.8 255.9h.01M305.7 288.2h.01M325.3 277.5h.01M326.2 262.0h.01M342.7 291.3h.01M270.8 232.0h.01M338.7 236.3h.01M267.5 237.0h.01" stroke="#7a68b2" stroke-width="1.0" stroke-linecap="round" fill="none" stroke-opacity="0.85"/>
<path d="M305.1 253.3h.01M350.2 287.2h.01M247.6 242.1h.01M307.6 228.9h.01M267.2 264.8h.01M351.5 285.2h.01M314.8 236.1h.01M264.7 276.8h.01M319.7 277.8h.01M296.4 287.4h.01M267.7 284.1h.01M248.2 266.2h.01M340.3 235.2h.01M246.6 243.9h.01M249.3 291.9h.01M301.1 286.8h.01M331.7 262.8h.01M348.6 255.1h.01M262.5 288.8h.01M246.4 271.3h.01M308.8 297.4h.01M300.5 283.7h.01M329.4 256.1h.01M261.9 298.8h.01M329.5 230.6h.01M249.9 279.0h.01M340.7 250.7h.01M340.3 253.0h.01M319.3 222.5h.01M355.7 233.7h.01M331.5 298.2h.01M280.3 264.9h.01M328.0 281.4h.01M281.6 242.4h.01M333.0 299.0h.01M333.6 237.0h.01M345.5 259.2h.01M293.9 229.3h.01M271.9 224.9h.01M273.1 238.0h.01M306.6 288.8h.01M250.6 218.9h.01M252.9 288.5h.01M286.5 297.0h.01M328.9 262.2h.01M272.1 268.6h.01M352.0 242.9h.01M326.1 251.6h.01M343.4 300.3h.01M324.2 296.6h.01M248.6 233.0h.01M310.7 265.5h.01M304.5 277.6h.01M247.4 273.8h.01M354.4 260.2h.01M312.6 263.4h.01M323.5 263.7h.01M284.7 268.3h.01M253.1 245.1h.01M318.5 247.4h.01M289.9 250.8h.01M353.1 262.0h.01M270.7 275.3h.01M304.7 225.1h.01M309.9 237.4h.01M253.4 230.7h.01M314.1 218.6h.01M304.8 227.3h.01M272.2 249.2h.01M327.3 225.6h.01M257.2 277.7h.01M270.3 260.1h.01M294.4 224.0h.01M287.7 237.8h.01M280.2 275.5h.01M301.5 255.7h.01M328.3 218.5h.01M288.0 284.4h.01M327.5 263.8h.01M299.0 269.3h.01M323.8 227.8h.01M347.6 216.8h.01M335.1 220.8h.01M318.3 295.9h.01M332.0 288.2h.01M326.6 237.7h.01M286.6 262.3h.01M282.0 232.7h.01M335.8 229.0h.01M344.7 231.8h.01M308.3 266.1h.01M288.9 232.0h.01M353.9 288.9h.01M326.3 293.0h.01M281.7 233.0h.01M286.1 286.8h.01M328.4 226.5h.01M308.2 292.1h.01M290.8 280.2h.01M288.3 244.1h.01M278.1 285.0h.01M258.7 237.2h.01M251.1 231.4h.01M276.5 225.4h.01M266.8 236.1h.01M352.6 284.5h.01M313.6 253.2h.01M287.0 288.2h.01M310.8 290.1h.01M271.0 260.1h.01M246.0 246.5h.01M284.3 232.1h.01M314.7 232.2h.01M288.9 301.8h.01M252.8 234.4h.01M261.1 295.3h.01M296.9 279.1h.01M279.0 298.7h.01M306.0 238.7h.01M315.8 283.4h.01M308.7 222.2h.01M288.2 223.5h.01M285.5 234.7h.01M323.6 278.1h.01M276.1 219.4h.01M270.3 255.9h.01M352.3 261.2h.01M320.0 233.6h.01M283.2 289.2h.01M335.0 275.8h.01M352.5 291.3h.01M334.1 223.3h.01M252.9 233.2h.01M260.1 226.6h.01M344.8 273.0h.01M313.1 289.3h.01M330.1 263.9h.01M288.3 270.6h.01M262.1 226.5h.01M263.2 273.9h.01M274.1 217.5h.01M281.2 220.3h.01M262.8 270.3h.01M271.6 269.6h.01M333.7 235.4h.01M307.3 260.1h.01M276.4 280.5h.01M280.9 298.7h.01M335.1 245.6h.01M328.6 226.0h.01M344.7 272.9h.01M271.1 269.1h.01M297.0 279.7h.01M269.7 231.4h.01M258.6 298.6h.01M347.8 258.5h.01M285.5 235.7h.01M349.9 237.5h.01M304.8 242.3h.01M304.7 285.2h.01M264.3 267.9h.01M266.3 219.8h.01M277.0 242.5h.01M272.7 220.9h.01M292.5 264.1h.01M326.1 296.0h.01M317.4 222.0h.01M354.2 244.4h.01M276.6 299.2h.01M339.9 273.4h.01M324.7 272.0h.01M309.5 228.3h.01M303.1 298.9h.01M248.6 252.4h.01M273.1 234.3h.01M283.0 250.8h.01M351.6 267.2h.01M265.1 253.0h.01M254.0 287.1h.01M277.2 250.9h.01M332.5 246.1h.01M327.4 279.2h.01M344.6 292.8h.01M335.2 293.9h.01M287.9 271.6h.01M339.5 243.7h.01M302.6 294.6h.01M284.3 231.8h.01M314.6 268.5h.01M337.8 274.9h.01M267.7 256.0h.01M304.0 264.8h.01M246.5 222.8h.01M347.4 282.6h.01M274.0 233.0h.01M259.5 274.0h.01M305.2 302.4h.01M325.2 278.4h.01M339.9 298.1h.01M320.8 238.3h.01M265.9 273.4h.01M263.5 267.0h.01M281.4 301.5h.01M257.1 229.4h.01M338.1 230.6h.01M304.4 234.6h.01M258.0 226.9h.01M322.0 236.5h.01M256.5 261.0h.01M258.7 273.8h.01M272.3 295.9h.01M353.5 221.0h.01M280.8 272.2h.01M291.1 269.3h.01M253.9 233.6h.01M351.8 235.8h.01M347.7 288.4h.01M294.3 284.1h.01M290.0 241.5h.01M284.0 266.9h.01M256.6 273.0h.01M345.7 261.8h.01M351.7 273.8h.01M275.5 291.4h.01M275.7 256.7h.01M329.2 235.9h.01M249.4 243.6h.01M327.5 251.5h.01M334.1 253.8h.01M300.2 241.2h.01M249.9 246.4h.01M317.9 288.3h.01M291.2 227.1h.01M340.9 266.7h.01M336.8 223.3h.01M350.6 249.1h.01M328.2 226.9h.01M311.6 278.4h.01M265.1 297.0h.01M332.9 269.0h.01M353.0 232.9h.01M271.9 241.8h.01M253.5 247.5h.01M285.2 281.9h.01M273.3 235.3h.01M339.5 295.2h.01M308.3 287.1h.01M346.7 278.8h.01M286.8 281.4h.01M308.2 295.9h.01M251.0 267.7h.01M285.4 258.8h.01M350.0 257.6h.01M262.7 266.8h.01M270.8 291.4h.01M265.7 296.2h.01M276.4 289.5h.01M285.1 278.1h.01M330.6 269.3h.01M267.7 289.0h.01M321.6 281.9h.01M322.9 288.0h.01M258.3 268.2h.01M295.9 289.0h.01M330.6 222.1h.01M339.3 254.3h.01M283.2 256.2h.01M258.3 274.1h.01M340.8 217.2h.01M343.4 222.7h.01M355.0 291.6h.01M350.5 271.4h.01M312.3 228.2h.01M297.2 267.4h.01M301.4 221.4h.01M290.8 283.1h.01M338.2 218.1h.01M352.4 267.8h.01M290.6 300.1h.01M329.6 294.5h.01M255.9 274.9h.01M323.8 248.8h.01M285.7 265.1h.01M280.3 299.6h.01M325.9 277.0h.01M321.6 250.7h.01M283.6 239.3h.01M271.1 266.8h.01M249.3 246.6h.01M254.7 257.2h.01M307.6 281.5h.01M340.6 233.8h.01M280.8 233.4h.01M261.8 281.6h.01M290.9 284.6h.01M255.9 251.2h.01M248.0 283.5h.01M266.5 242.9h.01M270.3 247.6h.01M353.0 290.2h.01" stroke="#6e5ca6" stroke-width="1.2" stroke-linecap="round" fill="none" stroke-opacity="0.85"/>
<path d="M314.8 222.5h.01M335.3 260.8h.01M345.3 234.8h.01M254.1 221.1h.01M300.2 222.9h.01M319.9 260.8h.01M264.4 287.9h.01M336.9 251.8h.01M262.8 246.3h.01M261.2 241.5h.01M333.2 235.7h.01M262.8 255.7h.01M340.4 249.0h.01M319.9 301.8h.01M343.6 268.6h.01M315.3 251.6h.01M258.1 243.0h.01M293.3 295.1h.01M274.4 224.2h.01M300.3 235.2h.01M344.3 222.7h.01M315.1 262.4h.01M315.0 246.4h.01M270.6 246.4h.01M289.8 295.5h.01M315.8 230.5h.01M246.3 244.1h.01M262.1 262.6h.01M269.6 270.7h.01M292.9 254.9h.01M354.0 276.6h.01M269.3 271.3h.01M319.8 232.3h.01M308.0 277.8h.01M280.0 298.5h.01M254.1 268.4h.01M246.8 224.7h.01M284.0 296.3h.01M317.1 220.5h.01M311.3 264.1h.01M253.5 232.5h.01M281.6 258.2h.01M256.2 296.8h.01M286.2 244.1h.01M302.1 264.7h.01M260.5 223.0h.01M246.4 264.3h.01M332.6 287.9h.01M249.2 290.6h.01M318.0 262.7h.01M253.0 288.8h.01M353.5 219.6h.01M247.5 234.0h.01M261.5 246.7h.01M345.4 220.5h.01M348.5 258.2h.01M347.9 261.0h.01M299.7 217.2h.01M267.0 258.3h.01M298.7 225.8h.01M320.7 272.6h.01M283.4 256.8h.01M258.9 253.9h.01M337.5 239.0h.01M351.3 260.6h.01M301.4 240.0h.01M265.2 262.6h.01M272.1 247.1h.01M285.8 285.4h.01M338.7 254.3h.01M342.8 271.3h.01M326.3 228.2h.01M340.1 247.4h.01M250.2 266.2h.01M341.3 276.5h.01M251.2 244.7h.01M251.5 299.2h.01M328.6 276.9h.01M272.2 264.5h.01M328.5 226.4h.01M354.0 249.4h.01M304.6 255.6h.01M330.6 230.7h.01M307.7 294.7h.01M313.5 222.3h.01M278.5 227.5h.01M260.1 225.3h.01M323.3 297.2h.01M314.7 224.5h.01M296.2 238.6h.01M263.6 225.2h.01M263.1 220.4h.01M331.0 224.9h.01M257.0 230.2h.01M307.8 229.0h.01M276.4 280.2h.01M253.5 224.5h.01M262.4 301.3h.01M269.7 225.4h.01M263.6 280.0h.01M293.5 299.2h.01M327.8 229.6h.01M341.6 277.3h.01M249.2 228.0h.01M326.7 299.8h.01M299.6 284.1h.01M340.6 283.7h.01M248.9 243.3h.01M286.0 254.1h.01M339.8 226.4h.01M273.0 271.7h.01M283.1 295.8h.01M261.5 281.9h.01M328.3 293.4h.01M302.8 273.3h.01M271.8 232.5h.01M349.5 235.3h.01M324.1 220.6h.01M260.5 274.3h.01M254.8 287.5h.01M284.5 288.3h.01M251.4 235.0h.01M250.5 237.1h.01M305.8 269.1h.01M341.0 228.4h.01M304.0 286.3h.01M273.6 301.5h.01M340.7 247.0h.01M262.8 242.2h.01M318.8 242.2h.01M283.4 264.6h.01M254.0 298.8h.01M351.0 282.3h.01M284.7 223.5h.01M327.0 227.2h.01M285.3 297.7h.01M320.7 239.3h.01M329.1 279.8h.01M314.4 259.6h.01M351.1 250.8h.01M285.4 226.9h.01M285.0 248.4h.01M288.0 267.0h.01M271.8 300.6h.01M301.5 233.8h.01M273.6 277.1h.01M268.9 300.2h.01M346.8 276.1h.01M319.9 286.1h.01M354.8 265.1h.01M324.4 237.1h.01M318.7 249.9h.01M303.1 269.0h.01M278.2 245.9h.01M290.5 285.4h.01M340.0 246.7h.01M331.9 250.0h.01M270.6 218.0h.01M328.7 300.6h.01M314.0 243.0h.01M264.2 246.3h.01M295.2 249.4h.01M321.7 227.4h.01M338.9 240.4h.01M333.6 246.7h.01M247.5 271.8h.01M327.5 260.4h.01M321.6 220.8h.01M323.4 248.9h.01M291.2 256.2h.01M293.5 252.2h.01M261.8 245.5h.01M329.9 232.1h.01M310.7 243.5h.01M333.8 292.4h.01M290.9 252.8h.01M343.5 243.0h.01M278.3 249.6h.01M353.1 299.8h.01M354.3 280.3h.01M262.6 218.0h.01M281.6 273.4h.01M251.4 288.3h.01M320.2 245.4h.01M251.3 293.1h.01M290.9 249.3h.01M325.0 292.9h.01M284.1 258.1h.01M315.0 295.8h.01M294.4 250.8h.01M263.3 228.5h.01M267.8 246.1h.01M257.2 260.7h.01M246.9 272.0h.01M291.1 266.5h.01M326.8 294.4h.01M264.8 252.9h.01M271.4 243.9h.01M309.4 244.4h.01M249.4 277.2h.01M291.6 290.2h.01M321.3 257.2h.01M273.4 299.3h.01M322.5 237.4h.01M293.6 243.8h.01M320.7 251.1h.01M296.1 300.4h.01M281.4 293.7h.01M346.7 281.5h.01M323.6 265.3h.01M252.9 295.0h.01M259.5 264.3h.01M289.5 286.3h.01M335.7 291.8h.01M280.9 280.2h.01M246.2 253.5h.01M318.5 244.9h.01M311.6 299.1h.01M343.9 270.8h.01M353.7 277.9h.01M256.8 227.2h.01M275.4 301.7h.01M311.1 250.7h.01M346.7 259.2h.01M269.7 288.8h.01M255.1 239.3h.01M259.2 237.1h.01M323.0 294.6h.01M331.8 285.0h.01M302.4 283.3h.01M306.1 246.2h.01M336.7 270.0h.01M301.2 285.8h.01M354.9 298.6h.01M300.5 276.6h.01M288.6 224.9h.01M251.4 243.7h.01M322.3 300.2h.01M338.8 228.3h.01M285.3 223.6h.01M344.2 238.9h.01M286.2 231.8h.01M349.1 275.9h.01M274.7 271.0h.01M310.1 248.1h.01M349.6 289.5h.01M254.4 258.2h.01M310.9 296.6h.01M334.3 286.9h.01M260.8 240.0h.01M292.3 241.6h.01M322.8 262.1h.01M355.3 299.6h.01M333.6 299.9h.01M322.9 246.1h.01M324.4 274.6h.01M291.5 235.2h.01M328.1 298.2h.01M267.8 221.5h.01M286.1 264.6h.01M318.6 272.6h.01M340.2 289.6h.01M252.1 262.6h.01M279.1 278.1h.01M308.1 292.6h.01M330.6 302.2h.01M265.1 247.4h.01M302.5 260.7h.01M278.0 226.7h.01M268.7 298.3h.01M340.9 242.0h.01M256.8 247.8h.01M312.2 218.6h.01M246.7 255.6h.01M278.8 219.9h.01M309.8 224.5h.01M291.2 300.1h.01M326.1 274.8h.01M351.8 236.9h.01M267.8 239.8h.01M253.5 223.0h.01M262.3 284.8h.01M260.0 225.5h.01M340.2 292.7h.01M291.2 220.1h.01M293.5 257.4h.01M339.8 259.6h.01M321.0 267.4h.01M328.6 275.2h.01M273.9 265.6h.01M248.6 218.2h.01M324.1 260.8h.01M261.3 224.7h.01M254.6 264.3h.01M291.7 242.3h.01M264.2 236.1h.01M315.9 253.9h.01M286.2 291.4h.01M334.5 255.7h.01M290.2 259.3h.01" stroke="#8a78bf" stroke-width="1.4" stroke-linecap="round" fill="none" stroke-opacity="0.85"/>
</g>
<rect x="246.40" y="217.10" width="109.00" height="85.10" fill="none" stroke="#7d7d7d" stroke-width="1.0"/>
<g clip-path="url(#cp3)">
<rect x="22.3" y="306.0" width="109.10" height="87.00" fill="#e4dce5"/>
<rect x="-5.0" y="267.7" width="163.7" height="163.7" filter="url(#f3_0)" transform="rotate(0 76.9 349.5)"/>
<rect x="-5.0" y="267.7" width="163.7" height="163.7" filter="url(#f3_1)" transform="rotate(75 76.9 349.5)"/>
<rect x="-5.0" y="267.7" width="163.7" height="163.7" filter="url(#f3_2)" transform="rotate(75 76.9 349.5)"/>
<ellipse cx="45.4" cy="392.0" rx="2.9" ry="1.5" fill="#8e7ec4" fill-opacity="0.55"/>
<ellipse cx="54.8" cy="390.5" rx="2.9" ry="1.7" fill="#8e7ec4" fill-opacity="0.55"/>
<ellipse cx="51.2" cy="386.6" rx="3.9" ry="2.7" fill="#8e7ec4" fill-opacity="0.55"/>
<ellipse cx="30.9" cy="365.6" rx="3.0" ry="2.8" fill="#8e7ec4" fill-opacity="0.55"/>
<ellipse cx="52.3" cy="381.5" rx="2.2" ry="2.0" fill="#8e7ec4" fill-opacity="0.55"/>
<ellipse cx="30.3" cy="365.4" rx="2.9" ry="1.8" fill="#8e7ec4" fill-opacity="0.55"/>
<ellipse cx="55.6" cy="373.4" rx="3.5" ry="2.3" fill="#8e7ec4" fill-opacity="0.55"/>
<ellipse cx="51.2" cy="392.5" rx="2.0" ry="2.6" fill="#8e7ec4" fill-opacity="0.55"/>
<ellipse cx="54.3" cy="376.1" rx="3.7" ry="2.2" fill="#8e7ec4" fill-opacity="0.55"/>
<ellipse cx="56.2" cy="358.0" rx="2.8" ry="2.5" fill="#8e7ec4" fill-opacity="0.55"/>
<ellipse cx="23.6" cy="368.3" rx="3.1" ry="2.4" fill="#8e7ec4" fill-opacity="0.55"/>
<ellipse cx="52.4" cy="387.2" rx="3.7" ry="1.7" fill="#8e7ec4" fill-opacity="0.55"/>
<ellipse cx="43.5" cy="363.6" rx="3.5" ry="1.5" fill="#8e7ec4" fill-opacity="0.55"/>
<ellipse cx="22.6" cy="382.5" rx="2.6" ry="1.8" fill="#8e7ec4" fill-opacity="0.55"/>
<ellipse cx="26.5" cy="363.3" rx="3.4" ry="2.9" fill="#8e7ec4" fill-opacity="0.55"/>
<ellipse cx="52.4" cy="361.1" rx="3.3" ry="2.8" fill="#8e7ec4" fill-opacity="0.55"/>
<ellipse cx="38.3" cy="376.5" rx="2.1" ry="2.8" fill="#8e7ec4" fill-opacity="0.55"/>
<ellipse cx="47.7" cy="371.3" rx="3.3" ry="2.4" fill="#8e7ec4" fill-opacity="0.55"/>
<ellipse cx="30.6" cy="366.9" rx="2.3" ry="1.7" fill="#8e7ec4" fill-opacity="0.55"/>
<ellipse cx="35.5" cy="371.2" rx="3.7" ry="2.8" fill="#8e7ec4" fill-opacity="0.55"/>
<ellipse cx="34.8" cy="367.6" rx="2.1" ry="2.8" fill="#8e7ec4" fill-opacity="0.55"/>
<ellipse cx="61.1" cy="378.1" rx="3.4" ry="2.3" fill="#8e7ec4" fill-opacity="0.55"/>
<ellipse cx="36.8" cy="379.6" rx="3.4" ry="1.8" fill="#8e7ec4" fill-opacity="0.55"/>
<ellipse cx="37.7" cy="377.9" rx="3.2" ry="2.2" fill="#8e7ec4" fill-opacity="0.55"/>
<ellipse cx="38.5" cy="373.6" rx="3.2" ry="2.7" fill="#8e7ec4" fill-opacity="0.55"/>
<ellipse cx="35.4" cy="366.4" rx="2.8" ry="2.3" fill="#8e7ec4" fill-opacity="0.55"/>
<ellipse cx="39.0" cy="379.1" rx="3.4" ry="1.6" fill="#8e7ec4" fill-opacity="0.55"/>
<ellipse cx="48.3" cy="375.1" rx="3.7" ry="2.0" fill="#8e7ec4" fill-opacity="0.55"/>
<ellipse cx="57.6" cy="360.7" rx="3.2" ry="1.7" fill="#8e7ec4" fill-opacity="0.55"/>
<ellipse cx="25.7" cy="384.8" rx="2.2" ry="2.4" fill="#8e7ec4" fill-opacity="0.55"/>
<path d="M40.6 334.0h.01M46.8 325.2h.01M47.4 328.9h.01M119.9 338.0h.01M88.2 348.3h.01M101.3 352.4h.01M32.8 338.0h.01M70.2 308.4h.01M86.8 381.3h.01M93.4 306.8h.01M87.4 374.5h.01M93.8 392.7h.01M105.5 307.8h.01M42.4 359.8h.01M42.9 315.3h.01M59.8 339.3h.01M93.8 390.8h.01M53.9 329.3h.01M66.7 377.6h.01M115.9 333.0h.01M38.8 373.2h.01M124.3 341.9h.01M77.2 341.6h.01M34.5 346.3h.01M25.8 332.4h.01M54.0 336.4h.01M56.8 330.4h.01M28.1 350.4h.01M26.3 349.4h.01M128.6 317.9h.01M73.1 384.4h.01M79.6 392.4h.01M79.0 334.1h.01M123.9 364.9h.01M89.6 316.0h.01M79.3 311.7h.01M28.0 365.1h.01M80.8 360.1h.01M125.8 386.4h.01M117.8 343.7h.01M127.5 353.9h.01M58.7 391.6h.01M121.6 355.6h.01M110.2 374.9h.01M121.2 313.9h.01M67.6 307.5h.01M100.8 376.7h.01M59.5 385.5h.01M130.3 346.6h.01M127.0 308.9h.01M56.9 340.4h.01M109.7 361.8h.01M128.7 327.5h.01M45.5 353.9h.01M56.0 337.8h.01M111.7 383.8h.01M27.8 326.4h.01M94.1 306.9h.01M84.0 320.2h.01M34.8 306.8h.01M104.9 342.4h.01M126.5 336.4h.01M91.6 318.8h.01M92.7 320.2h.01M35.9 308.9h.01M107.9 366.3h.01M28.2 377.0h.01M41.3 319.6h.01M75.2 376.4h.01M118.5 321.4h.01M27.9 310.6h.01M44.1 389.5h.01M41.1 352.7h.01M110.4 370.3h.01M111.6 366.1h.01M75.5 367.2h.01M53.7 381.8h.01M69.0 309.8h.01M93.6 348.1h.01M107.1 386.1h.01M114.8 308.0h.01M100.5 386.5h.01M111.3 380.6h.01M97.2 370.1h.01M36.2 327.3h.01M53.0 385.3h.01M47.1 347.2h.01M50.6 308.2h.01M57.8 379.8h.01M73.4 317.3h.01M68.5 313.8h.01M99.0 372.5h.01M67.1 342.3h.01M127.1 309.9h.01M116.8 359.9h.01M64.7 341.8h.01M92.4 384.9h.01M36.9 362.4h.01M106.3 346.7h.01M95.4 310.8h.01M41.4 346.8h.01M51.2 312.8h.01M82.6 323.5h.01M40.8 341.8h.01M127.6 363.3h.01M37.2 360.1h.01M67.7 334.5h.01" stroke="#7260b2" stroke-width="1.9" stroke-linecap="round" fill="none" stroke-opacity="0.85"/>
<path d="M61.5 344.3h.01M33.6 307.1h.01M50.3 391.4h.01M42.7 318.1h.01M84.2 316.0h.01M58.6 346.0h.01M76.4 347.0h.01M107.0 346.5h.01M60.7 309.6h.01M50.7 347.7h.01M121.1 327.5h.01M33.5 347.7h.01M59.5 360.4h.01M115.2 382.4h.01M34.8 389.4h.01M64.9 336.3h.01M31.5 343.6h.01M100.6 315.6h.01M83.8 316.8h.01M79.8 332.6h.01M103.0 378.4h.01M120.3 376.8h.01M80.7 335.9h.01M94.8 362.8h.01M25.6 362.3h.01M30.1 371.0h.01M127.4 385.2h.01M92.6 369.2h.01M61.5 309.4h.01M57.7 390.1h.01M40.2 331.6h.01M82.5 346.4h.01M31.3 344.0h.01M98.2 354.8h.01M25.1 335.1h.01M59.0 311.1h.01M82.3 319.5h.01M125.9 383.6h.01M27.7 371.1h.01M67.1 357.7h.01M58.9 321.9h.01M62.2 311.6h.01M27.8 314.9h.01M35.5 333.7h.01M30.4 384.5h.01M50.0 345.6h.01M74.8 362.2h.01M90.4 315.4h.01M90.9 335.2h.01M128.9 371.5h.01M115.9 366.1h.01M87.8 358.2h.01M62.7 333.9h.01M51.6 333.2h.01M55.0 354.0h.01M56.0 321.0h.01M46.0 361.8h.01M76.9 370.5h.01M39.4 379.3h.01M105.7 334.0h.01M31.7 318.3h.01M119.2 317.6h.01M65.1 328.8h.01M37.7 343.0h.01M26.7 346.8h.01M55.8 355.3h.01M81.1 378.9h.01M102.7 311.3h.01M44.1 350.4h.01M87.4 358.2h.01M30.3 327.2h.01M57.8 355.5h.01M24.9 347.3h.01M81.5 324.1h.01M128.8 357.9h.01M117.5 384.6h.01M62.0 364.5h.01M33.5 307.6h.01M84.7 327.2h.01M123.4 315.1h.01M24.3 370.3h.01M99.5 359.8h.01M64.2 318.2h.01M74.2 321.7h.01M49.6 321.3h.01M87.0 351.2h.01M95.2 342.8h.01M31.9 328.5h.01M102.7 334.5h.01M109.4 377.2h.01M108.7 344.6h.01M42.4 340.5h.01M71.0 377.8h.01M131.4 310.0h.01M32.0 373.6h.01M45.8 376.8h.01M24.4 342.5h.01M128.3 353.0h.01M71.5 358.9h.01M114.1 351.4h.01M93.8 312.1h.01M29.0 306.8h.01M75.2 371.3h.01M65.5 331.0h.01M29.9 351.0h.01M49.8 343.6h.01M98.1 370.5h.01" stroke="#6350a6" stroke-width="2.25" stroke-linecap="round" fill="none" stroke-opacity="0.85"/>
<path d="M74.6 381.6h.01M88.6 360.9h.01M70.8 381.2h.01M119.1 387.2h.01M74.1 366.1h.01M46.0 319.5h.01M23.6 325.5h.01M92.3 370.9h.01M115.4 355.3h.01M87.6 382.8h.01M91.7 353.0h.01M52.6 315.0h.01M46.4 381.9h.01M66.6 343.1h.01M22.8 367.5h.01M97.9 312.4h.01M105.1 318.2h.01M37.8 368.1h.01M108.7 375.3h.01M22.9 350.9h.01M97.6 340.6h.01M38.2 357.8h.01M129.5 313.2h.01M90.1 370.4h.01M82.1 360.8h.01M119.4 357.8h.01M70.3 367.8h.01M126.4 308.2h.01M32.5 339.5h.01M109.2 366.1h.01M49.0 356.7h.01M35.5 315.9h.01M83.1 331.5h.01M126.9 314.3h.01M32.6 316.0h.01M101.7 356.7h.01M77.5 334.2h.01M104.4 308.9h.01M64.1 375.2h.01M31.1 388.2h.01M100.0 358.4h.01M119.8 351.2h.01M50.9 328.4h.01M99.3 380.1h.01M55.0 376.5h.01M72.2 358.3h.01M51.0 362.0h.01M87.9 314.6h.01M58.0 320.4h.01M55.5 325.0h.01M63.1 356.6h.01M43.9 379.9h.01M130.0 351.8h.01M115.0 318.3h.01M104.1 341.8h.01M52.6 356.9h.01M44.7 346.6h.01M76.2 340.2h.01M89.4 354.5h.01M48.0 321.7h.01M120.6 333.6h.01M81.2 318.4h.01M29.6 344.2h.01M120.3 331.3h.01M106.8 374.0h.01M93.6 310.2h.01M80.4 352.2h.01M113.4 378.9h.01M130.3 344.7h.01M69.3 339.1h.01M27.9 319.9h.01M48.3 329.6h.01M110.8 312.2h.01M24.1 311.4h.01M87.4 340.6h.01M42.9 380.5h.01M111.2 315.3h.01M119.8 356.3h.01M31.4 364.1h.01M93.9 360.3h.01M34.0 337.4h.01M112.4 358.7h.01M34.8 380.3h.01M79.7 322.3h.01M128.6 364.6h.01M22.8 350.4h.01M60.8 387.5h.01M23.4 363.1h.01M95.2 323.5h.01M122.1 352.1h.01M30.7 337.8h.01M69.5 336.5h.01M102.4 363.2h.01M124.2 308.4h.01M30.8 337.2h.01M87.4 328.0h.01M126.8 329.6h.01M54.1 346.0h.01M51.5 378.5h.01M25.2 331.5h.01M77.6 341.5h.01M24.3 344.3h.01M42.6 379.3h.01M91.8 335.3h.01M24.4 381.9h.01M91.0 356.6h.01" stroke="#8c7cc2" stroke-width="2.5999999999999996" stroke-linecap="round" fill="none" stroke-opacity="0.85"/>
</g>
<rect x="22.70" y="306.40" width="108.30" height="86.20" fill="none" stroke="#7d7d7d" stroke-width="1.0"/>
<g clip-path="url(#cp4)">
<rect x="134.0" y="306.0" width="108.80" height="87.00" fill="#dbd0c9"/>
<rect x="106.8" y="267.9" width="163.2" height="163.2" filter="url(#f4_0)" transform="rotate(0 188.4 349.5)"/>
<rect x="106.8" y="267.9" width="163.2" height="163.2" filter="url(#f4_1)" transform="rotate(-20 188.4 349.5)"/>
<rect x="106.8" y="267.9" width="163.2" height="163.2" filter="url(#f4_2)" transform="rotate(-20 188.4 349.5)"/>
<path d="M183.0 351.9h.01M221.0 341.6h.01M229.9 319.4h.01M228.3 354.6h.01M231.4 358.3h.01M221.4 322.4h.01M153.6 340.0h.01M220.7 374.6h.01M208.9 321.5h.01M138.9 323.1h.01M215.3 378.0h.01M196.7 366.2h.01M160.6 384.6h.01M201.1 389.6h.01M188.3 351.8h.01M148.6 307.0h.01M142.0 349.6h.01M213.6 330.4h.01M160.1 350.6h.01M182.7 333.5h.01M216.1 332.4h.01M176.3 365.0h.01M150.9 388.4h.01M224.5 325.7h.01M182.2 375.5h.01M141.4 389.7h.01M209.5 388.1h.01M168.1 324.5h.01M191.0 371.8h.01M198.5 346.3h.01M213.4 361.1h.01M160.3 357.2h.01M239.3 379.9h.01M172.4 380.8h.01M145.7 373.3h.01M175.2 344.1h.01M168.0 321.2h.01M222.3 324.9h.01M188.9 386.1h.01M225.6 352.4h.01M211.5 337.5h.01M224.8 313.7h.01M149.8 329.8h.01M145.4 320.0h.01M193.5 384.4h.01M142.2 310.7h.01M136.3 369.6h.01M240.8 331.7h.01M143.8 364.7h.01M137.7 386.6h.01M171.9 376.0h.01M229.3 356.6h.01M137.7 347.0h.01M177.8 313.1h.01M218.9 378.9h.01M146.3 312.6h.01M154.3 366.0h.01M221.2 369.1h.01M225.9 331.7h.01M144.6 329.0h.01M237.4 352.4h.01M136.5 375.4h.01M213.0 341.1h.01M194.7 347.3h.01M194.6 388.8h.01M193.0 306.3h.01M238.4 344.3h.01M237.3 339.4h.01M232.9 361.3h.01M172.3 359.9h.01M167.6 323.3h.01M233.7 333.6h.01M195.0 306.4h.01M165.9 332.7h.01M138.2 387.7h.01M213.4 387.1h.01M238.8 310.1h.01M194.3 320.5h.01M240.4 352.2h.01M242.5 359.6h.01M183.0 365.6h.01M142.0 333.6h.01M185.2 364.8h.01M182.4 367.9h.01M142.8 336.1h.01M179.2 359.1h.01M163.5 323.0h.01M174.3 377.6h.01M220.1 388.5h.01M148.8 318.8h.01M205.4 310.0h.01M230.1 388.0h.01M170.5 353.5h.01M162.0 348.1h.01M164.0 310.4h.01M167.1 323.8h.01M221.8 344.6h.01M153.4 362.7h.01M143.2 374.0h.01M179.3 330.2h.01M221.5 361.1h.01M209.6 361.5h.01M181.2 323.6h.01M240.4 358.4h.01M161.1 388.2h.01M197.4 344.0h.01M203.5 341.3h.01M234.4 377.9h.01M139.1 388.0h.01M163.0 338.4h.01M170.1 362.8h.01M179.4 381.7h.01M205.1 330.2h.01M179.0 317.0h.01M188.5 344.2h.01M220.6 330.0h.01M197.8 323.7h.01M140.0 348.8h.01M175.9 387.0h.01M166.1 348.1h.01M150.0 327.6h.01M182.0 391.7h.01M209.8 335.3h.01M156.6 322.0h.01M171.3 390.6h.01M237.9 308.1h.01M233.6 342.5h.01M191.5 348.2h.01M222.1 372.6h.01M181.3 365.1h.01M165.3 383.4h.01M187.9 341.1h.01M178.0 355.4h.01M155.8 364.3h.01M142.9 353.9h.01M143.5 366.0h.01M137.7 353.2h.01M200.7 378.3h.01M167.6 373.7h.01M173.9 372.2h.01" stroke="#6e5cb0" stroke-width="1.9" stroke-linecap="round" fill="none" stroke-opacity="0.85"/>
<path d="M172.7 314.9h.01M207.8 355.4h.01M140.9 330.2h.01M147.2 348.6h.01M171.0 364.1h.01M166.6 324.7h.01M235.8 354.0h.01M198.0 332.5h.01M166.5 325.6h.01M190.7 362.7h.01M236.0 343.1h.01M161.2 307.2h.01M236.6 364.2h.01M178.8 310.6h.01M221.9 315.6h.01M233.5 380.0h.01M239.3 384.9h.01M184.3 358.0h.01M162.3 353.0h.01M226.7 316.9h.01M202.8 345.1h.01M155.0 368.7h.01M200.4 375.5h.01M202.8 343.0h.01M229.6 376.1h.01M150.5 309.5h.01M221.6 349.9h.01M225.2 370.5h.01M162.3 344.9h.01M219.1 367.4h.01M205.4 334.9h.01M149.8 365.8h.01M205.2 379.2h.01M174.3 315.6h.01M207.2 385.8h.01M185.3 363.6h.01M194.3 335.4h.01M216.6 341.8h.01M181.9 312.4h.01M228.8 362.7h.01M187.6 349.4h.01M225.7 330.2h.01M207.1 373.7h.01M179.0 354.7h.01M212.7 372.1h.01M136.6 325.1h.01M222.8 392.1h.01M202.6 313.6h.01M142.0 325.4h.01M164.7 367.5h.01M138.4 337.2h.01M238.9 315.2h.01M217.3 386.5h.01M135.2 332.5h.01M138.1 348.2h.01M192.9 338.7h.01M165.1 338.8h.01M155.4 314.8h.01M173.5 390.1h.01M159.3 360.8h.01M232.3 375.3h.01M170.0 373.8h.01M169.5 307.9h.01M197.3 317.7h.01M206.4 380.1h.01M169.4 336.1h.01M206.1 389.3h.01M154.3 376.9h.01M145.7 309.9h.01M204.5 366.8h.01M144.2 351.8h.01M166.9 383.5h.01M191.3 322.9h.01M164.0 315.4h.01M220.4 341.8h.01M183.6 332.7h.01M163.9 320.1h.01M190.6 377.3h.01M203.0 335.1h.01M217.1 322.3h.01M155.7 317.7h.01M152.6 333.9h.01M221.8 383.0h.01M138.1 380.4h.01M161.9 373.3h.01M210.0 358.0h.01M234.6 331.5h.01M220.1 358.6h.01M219.2 364.2h.01M177.5 342.3h.01M239.9 390.5h.01M182.9 322.2h.01M173.2 384.0h.01M215.0 368.1h.01M214.5 312.7h.01M174.5 330.8h.01M134.8 319.2h.01M138.6 391.5h.01M195.6 336.1h.01M142.5 314.8h.01M149.2 355.2h.01M231.3 365.2h.01M170.8 330.1h.01M182.6 382.3h.01M240.6 386.1h.01M149.5 327.1h.01M231.2 306.4h.01M232.6 332.6h.01M198.1 369.1h.01M150.3 367.5h.01M229.5 380.4h.01M143.9 349.7h.01M178.7 355.7h.01M214.4 310.1h.01M194.4 361.7h.01M201.9 343.1h.01M170.7 365.7h.01M172.3 318.2h.01M234.9 310.2h.01M216.1 392.8h.01M188.0 316.5h.01M214.9 374.1h.01M185.7 368.0h.01M231.8 324.4h.01M219.3 341.7h.01M170.1 358.4h.01M197.4 373.8h.01M187.9 374.7h.01M157.3 342.0h.01M189.2 352.3h.01M199.5 327.3h.01M167.3 320.9h.01M140.1 383.8h.01M206.9 365.1h.01M226.7 328.5h.01M180.4 327.8h.01M198.6 391.9h.01M168.9 351.2h.01M146.7 375.7h.01M206.3 364.3h.01" stroke="#5f4ca2" stroke-width="2.25" stroke-linecap="round" fill="none" stroke-opacity="0.85"/>
<path d="M166.0 336.7h.01M156.2 345.7h.01M174.0 345.9h.01M227.3 324.1h.01M204.1 380.5h.01M134.6 384.7h.01M141.3 353.0h.01M205.6 392.1h.01M229.7 370.7h.01M136.4 361.1h.01M151.7 321.0h.01M184.2 346.1h.01M139.4 376.4h.01M172.1 385.7h.01M147.9 336.4h.01M182.2 348.3h.01M215.6 380.3h.01M198.4 345.9h.01M145.2 355.9h.01M242.1 348.1h.01M201.6 385.5h.01M193.9 379.5h.01M192.6 318.8h.01M175.4 338.4h.01M136.7 325.8h.01M238.9 323.8h.01M179.5 388.2h.01M218.4 389.6h.01M202.3 389.2h.01M149.6 392.0h.01M234.6 390.5h.01M192.9 378.0h.01M149.3 340.7h.01M148.0 317.2h.01M201.9 377.1h.01M197.6 346.6h.01M189.4 345.2h.01M142.9 348.9h.01M163.0 310.9h.01M141.1 372.5h.01M186.4 349.8h.01M141.9 363.9h.01M162.8 339.0h.01M193.3 315.1h.01M211.2 358.1h.01M218.9 349.5h.01M164.5 329.3h.01M235.7 316.6h.01M182.9 329.7h.01M175.8 381.2h.01M213.4 313.0h.01M152.1 390.2h.01M223.4 371.4h.01M227.0 326.2h.01M185.1 335.3h.01M191.5 379.2h.01M238.9 327.3h.01M137.2 317.9h.01M152.9 382.9h.01M150.9 351.3h.01M151.2 361.3h.01M181.3 337.6h.01M204.4 320.1h.01M154.8 382.3h.01M233.7 342.0h.01M141.6 310.0h.01M173.6 312.3h.01M181.1 372.5h.01M198.4 380.9h.01M143.8 309.6h.01M240.5 387.9h.01M196.1 383.3h.01M234.0 366.4h.01M218.6 348.5h.01M191.3 330.4h.01M150.7 307.3h.01M156.6 387.4h.01M240.6 309.6h.01M185.4 306.3h.01M191.1 322.0h.01M193.2 346.7h.01M183.3 350.0h.01M167.3 347.5h.01M163.5 371.7h.01M211.8 357.8h.01M142.3 308.8h.01M155.8 340.6h.01M227.7 349.4h.01M166.0 350.2h.01M141.5 383.1h.01M166.8 331.2h.01M174.7 311.3h.01M144.5 380.0h.01M203.5 384.8h.01M201.6 361.2h.01M135.7 360.7h.01M172.0 381.3h.01M154.8 323.0h.01M173.7 388.2h.01M200.9 324.1h.01M213.8 389.2h.01M136.9 326.6h.01M135.7 340.2h.01M185.7 344.8h.01M171.8 373.9h.01M143.1 367.4h.01M207.6 313.8h.01M171.7 325.0h.01M236.4 386.0h.01M148.1 334.9h.01M203.8 360.7h.01M196.4 340.0h.01M228.0 373.1h.01M212.2 383.8h.01M134.2 307.9h.01M195.9 376.8h.01M198.3 380.3h.01M208.0 372.6h.01M194.2 320.3h.01M210.2 341.8h.01M185.5 345.9h.01M158.7 388.2h.01M146.6 319.3h.01M170.0 377.8h.01M178.1 367.0h.01M237.1 357.2h.01M142.7 391.2h.01M211.7 337.6h.01M225.4 378.2h.01M217.4 376.2h.01M197.9 307.5h.01M139.9 319.0h.01M233.1 323.2h.01M208.4 355.7h.01M193.0 321.9h.01M238.3 316.4h.01M167.0 380.2h.01M146.6 309.5h.01M231.7 387.4h.01M210.1 367.1h.01" stroke="#8878c0" stroke-width="2.5999999999999996" stroke-linecap="round" fill="none" stroke-opacity="0.85"/>
<g filter="url(#blr)">
<ellipse cx="173.5" cy="363" rx="12" ry="9" transform="rotate(-20 173.5 363)" fill="#c9b7bd" fill-opacity="0.6"/>
<ellipse cx="173.5" cy="363" rx="11" ry="8" transform="rotate(-20 173.5 363)" fill="#f1eee2"/>
<ellipse cx="182" cy="376" rx="9" ry="8.5" transform="rotate(-10 182 376)" fill="#c9b7bd" fill-opacity="0.6"/>
<ellipse cx="182" cy="376" rx="8" ry="7.5" transform="rotate(-10 182 376)" fill="#f1eee2"/>
<ellipse cx="151.6" cy="361" rx="8.5" ry="6" transform="rotate(-30 151.6 361)" fill="#c9b7bd" fill-opacity="0.6"/>
<ellipse cx="151.6" cy="361" rx="7.5" ry="5" transform="rotate(-30 151.6 361)" fill="#f1eee2"/>
<ellipse cx="143.5" cy="343.6" rx="7.5" ry="4.2" transform="rotate(-15 143.5 343.6)" fill="#c9b7bd" fill-opacity="0.6"/>
<ellipse cx="143.5" cy="343.6" rx="6.5" ry="3.2" transform="rotate(-15 143.5 343.6)" fill="#f1eee2"/>
<ellipse cx="160" cy="328" rx="7.5" ry="4.5" transform="rotate(-10 160 328)" fill="#c9b7bd" fill-opacity="0.6"/>
<ellipse cx="160" cy="328" rx="6.5" ry="3.5" transform="rotate(-10 160 328)" fill="#f1eee2"/>
<ellipse cx="179.5" cy="326" rx="9.5" ry="4.8" transform="rotate(-8 179.5 326)" fill="#c9b7bd" fill-opacity="0.6"/>
<ellipse cx="179.5" cy="326" rx="8.5" ry="3.8" transform="rotate(-8 179.5 326)" fill="#f1eee2"/>
<ellipse cx="170" cy="342" rx="7.5" ry="4.2" transform="rotate(-15 170 342)" fill="#c9b7bd" fill-opacity="0.6"/>
<ellipse cx="170" cy="342" rx="6.5" ry="3.2" transform="rotate(-15 170 342)" fill="#f1eee2"/>
<ellipse cx="231.6" cy="340" rx="6.5" ry="5.5" transform="rotate(0 231.6 340)" fill="#c9b7bd" fill-opacity="0.6"/>
<ellipse cx="231.6" cy="340" rx="5.5" ry="4.5" transform="rotate(0 231.6 340)" fill="#f1eee2"/>
<ellipse cx="223.3" cy="316" rx="6.5" ry="3.4" transform="rotate(-10 223.3 316)" fill="#c9b7bd" fill-opacity="0.6"/>
<ellipse cx="223.3" cy="316" rx="5.5" ry="2.4" transform="rotate(-10 223.3 316)" fill="#f1eee2"/>
<ellipse cx="145" cy="317" rx="5.5" ry="3.6" transform="rotate(-10 145 317)" fill="#c9b7bd" fill-opacity="0.6"/>
<ellipse cx="145" cy="317" rx="4.5" ry="2.6" transform="rotate(-10 145 317)" fill="#f1eee2"/>
<ellipse cx="205" cy="352" rx="5" ry="3" transform="rotate(-25 205 352)" fill="#c9b7bd" fill-opacity="0.6"/>
<ellipse cx="205" cy="352" rx="4" ry="2" transform="rotate(-25 205 352)" fill="#f1eee2"/>
</g>
</g>
<rect x="134.40" y="306.40" width="108.00" height="86.20" fill="none" stroke="#7d7d7d" stroke-width="1.0"/>
<g clip-path="url(#cp5)">
<rect x="245.8" y="306.0" width="109.90" height="87.00" fill="#d0bdab"/>
<rect x="218.3" y="267.1" width="164.8" height="164.8" filter="url(#f5_0)" transform="rotate(0 300.8 349.5)"/>
<rect x="218.3" y="267.1" width="164.8" height="164.8" filter="url(#f5_1)" transform="rotate(60 300.8 349.5)"/>
<g filter="url(#blr)">
<ellipse cx="347.2" cy="342.6" rx="5.7" ry="4.2" transform="rotate(49 347.2 342.6)" fill="#a27f76" stroke="#9a746a" stroke-width="1.6" fill-opacity="0.85" stroke-opacity="0.85"/>
<ellipse cx="347.2" cy="342.6" rx="1.7" ry="1.3" transform="rotate(49 347.2 342.6)" fill="#e9dfd2"/>
<ellipse cx="298.5" cy="322.1" rx="6.6" ry="5.7" transform="rotate(158 298.5 322.1)" fill="#a27f76" stroke="#906a62" stroke-width="1.6" fill-opacity="0.85" stroke-opacity="0.85"/>
<ellipse cx="336.6" cy="382.3" rx="5.3" ry="4.9" transform="rotate(160 336.6 382.3)" fill="#a27f76" stroke="#9a746a" stroke-width="1.6" fill-opacity="0.85" stroke-opacity="0.85"/>
<ellipse cx="282.9" cy="317.6" rx="5.5" ry="2.9" transform="rotate(24 282.9 317.6)" fill="#97746b" stroke="#906a62" stroke-width="1.6" fill-opacity="0.85" stroke-opacity="0.85"/>
<ellipse cx="348.9" cy="322.6" rx="7.4" ry="5.4" transform="rotate(175 348.9 322.6)" fill="#a27f76" stroke="#9a746a" stroke-width="1.6" fill-opacity="0.85" stroke-opacity="0.85"/>
<ellipse cx="355.4" cy="370.8" rx="7.4" ry="5.3" transform="rotate(4 355.4 370.8)" fill="#a27f76" stroke="#906a62" stroke-width="1.6" fill-opacity="0.85" stroke-opacity="0.85"/>
<ellipse cx="298.5" cy="359.9" rx="5.4" ry="3.4" transform="rotate(45 298.5 359.9)" fill="#97746b" stroke="#9a746a" stroke-width="1.6" fill-opacity="0.85" stroke-opacity="0.85"/>
<ellipse cx="253.9" cy="390.4" rx="6.5" ry="4.3" transform="rotate(40 253.9 390.4)" fill="#97746b" stroke="#9a746a" stroke-width="1.6" fill-opacity="0.85" stroke-opacity="0.85"/>
<ellipse cx="253.9" cy="390.4" rx="1.9" ry="1.3" transform="rotate(40 253.9 390.4)" fill="#e9dfd2"/>
<ellipse cx="340.2" cy="380.5" rx="4.9" ry="4.5" transform="rotate(108 340.2 380.5)" fill="#97746b" stroke="#86625e" stroke-width="1.6" fill-opacity="0.85" stroke-opacity="0.85"/>
<ellipse cx="296.5" cy="378.0" rx="8.0" ry="6.8" transform="rotate(144 296.5 378.0)" fill="#ab8a82" stroke="#9a746a" stroke-width="1.6" fill-opacity="0.85" stroke-opacity="0.85"/>
<ellipse cx="328.1" cy="319.0" rx="5.6" ry="3.3" transform="rotate(77 328.1 319.0)" fill="#a27f76" stroke="#906a62" stroke-width="1.6" fill-opacity="0.85" stroke-opacity="0.85"/>
<ellipse cx="330.9" cy="358.8" rx="6.8" ry="5.2" transform="rotate(153 330.9 358.8)" fill="#ab8a82" stroke="#86625e" stroke-width="1.6" fill-opacity="0.85" stroke-opacity="0.85"/>
<ellipse cx="297.7" cy="329.7" rx="4.3" ry="4.0" transform="rotate(83 297.7 329.7)" fill="#ab8a82" stroke="#86625e" stroke-width="1.6" fill-opacity="0.85" stroke-opacity="0.85"/>
<ellipse cx="322.2" cy="336.0" rx="4.8" ry="4.2" transform="rotate(95 322.2 336.0)" fill="#a27f76" stroke="#9a746a" stroke-width="1.6" fill-opacity="0.85" stroke-opacity="0.85"/>
<ellipse cx="346.5" cy="326.3" rx="5.6" ry="4.1" transform="rotate(145 346.5 326.3)" fill="#a27f76" stroke="#9a746a" stroke-width="1.6" fill-opacity="0.85" stroke-opacity="0.85"/>
<ellipse cx="338.4" cy="362.3" rx="7.8" ry="5.7" transform="rotate(19 338.4 362.3)" fill="#a27f76" stroke="#86625e" stroke-width="1.6" fill-opacity="0.85" stroke-opacity="0.85"/>
<ellipse cx="297.1" cy="388.9" rx="5.0" ry="4.5" transform="rotate(115 297.1 388.9)" fill="#a27f76" stroke="#86625e" stroke-width="1.6" fill-opacity="0.85" stroke-opacity="0.85"/>
<ellipse cx="318.3" cy="339.2" rx="6.1" ry="4.5" transform="rotate(33 318.3 339.2)" fill="#97746b" stroke="#906a62" stroke-width="1.6" fill-opacity="0.85" stroke-opacity="0.85"/>
<ellipse cx="318.3" cy="339.2" rx="1.8" ry="1.3" transform="rotate(33 318.3 339.2)" fill="#e9dfd2"/>
<ellipse cx="337.4" cy="330.0" rx="7.2" ry="5.6" transform="rotate(30 337.4 330.0)" fill="#a27f76" stroke="#9a746a" stroke-width="1.6" fill-opacity="0.85" stroke-opacity="0.85"/>
<ellipse cx="337.4" cy="330.0" rx="2.2" ry="1.7" transform="rotate(30 337.4 330.0)" fill="#e9dfd2"/>
<ellipse cx="257.0" cy="362.8" rx="5.3" ry="3.7" transform="rotate(163 257.0 362.8)" fill="#a27f76" stroke="#9a746a" stroke-width="1.6" fill-opacity="0.85" stroke-opacity="0.85"/>
<ellipse cx="257.0" cy="362.8" rx="1.6" ry="1.1" transform="rotate(163 257.0 362.8)" fill="#e9dfd2"/>
<ellipse cx="346.3" cy="356.1" rx="7.1" ry="6.2" transform="rotate(136 346.3 356.1)" fill="#97746b" stroke="#906a62" stroke-width="1.6" fill-opacity="0.85" stroke-opacity="0.85"/>
<ellipse cx="337.7" cy="355.3" rx="4.2" ry="2.7" transform="rotate(56 337.7 355.3)" fill="#a27f76" stroke="#9a746a" stroke-width="1.6" fill-opacity="0.85" stroke-opacity="0.85"/>
<ellipse cx="295.4" cy="381.1" rx="6.0" ry="4.9" transform="rotate(82 295.4 381.1)" fill="#a27f76" stroke="#86625e" stroke-width="1.6" fill-opacity="0.85" stroke-opacity="0.85"/>
<ellipse cx="294.7" cy="350.6" rx="7.3" ry="4.2" transform="rotate(44 294.7 350.6)" fill="#a27f76" stroke="#86625e" stroke-width="1.6" fill-opacity="0.85" stroke-opacity="0.85"/>
<ellipse cx="329.6" cy="344.9" rx="8.3" ry="5.0" transform="rotate(12 329.6 344.9)" fill="#a27f76" stroke="#906a62" stroke-width="1.6" fill-opacity="0.85" stroke-opacity="0.85"/>
<ellipse cx="329.6" cy="344.9" rx="2.5" ry="1.5" transform="rotate(12 329.6 344.9)" fill="#e9dfd2"/>
<ellipse cx="312.1" cy="356.5" rx="7.0" ry="4.8" transform="rotate(127 312.1 356.5)" fill="#97746b" stroke="#906a62" stroke-width="1.6" fill-opacity="0.85" stroke-opacity="0.85"/>
<ellipse cx="331.3" cy="327.1" rx="4.3" ry="3.6" transform="rotate(49 331.3 327.1)" fill="#ab8a82" stroke="#86625e" stroke-width="1.6" fill-opacity="0.85" stroke-opacity="0.85"/>
<ellipse cx="331.3" cy="327.1" rx="1.3" ry="1.1" transform="rotate(49 331.3 327.1)" fill="#e9dfd2"/>
<ellipse cx="302.4" cy="358.4" rx="6.2" ry="4.4" transform="rotate(47 302.4 358.4)" fill="#a27f76" stroke="#9a746a" stroke-width="1.6" fill-opacity="0.85" stroke-opacity="0.85"/>
<ellipse cx="302.4" cy="358.4" rx="1.9" ry="1.3" transform="rotate(47 302.4 358.4)" fill="#e9dfd2"/>
<ellipse cx="330.9" cy="388.6" rx="6.9" ry="4.7" transform="rotate(125 330.9 388.6)" fill="#ab8a82" stroke="#9a746a" stroke-width="1.6" fill-opacity="0.85" stroke-opacity="0.85"/>
<ellipse cx="304.2" cy="363.8" rx="7.5" ry="3.8" transform="rotate(75 304.2 363.8)" fill="#a27f76" stroke="#9a746a" stroke-width="1.6" fill-opacity="0.85" stroke-opacity="0.85"/>
<ellipse cx="314.0" cy="343.1" rx="6.9" ry="3.7" transform="rotate(50 314.0 343.1)" fill="#a27f76" stroke="#9a746a" stroke-width="1.6" fill-opacity="0.85" stroke-opacity="0.85"/>
<ellipse cx="343.4" cy="327.5" rx="5.6" ry="5.1" transform="rotate(91 343.4 327.5)" fill="#ab8a82" stroke="#906a62" stroke-width="1.6" fill-opacity="0.85" stroke-opacity="0.85"/>
<ellipse cx="344.0" cy="339.3" rx="5.0" ry="4.4" transform="rotate(65 344.0 339.3)" fill="#a27f76" stroke="#9a746a" stroke-width="1.6" fill-opacity="0.85" stroke-opacity="0.85"/>
<ellipse cx="287.3" cy="317.6" rx="6.5" ry="3.7" transform="rotate(39 287.3 317.6)" fill="#a27f76" stroke="#9a746a" stroke-width="1.6" fill-opacity="0.85" stroke-opacity="0.85"/>
<ellipse cx="280.0" cy="367.8" rx="4.3" ry="3.4" transform="rotate(37 280.0 367.8)" fill="#97746b" stroke="#906a62" stroke-width="1.6" fill-opacity="0.85" stroke-opacity="0.85"/>
<ellipse cx="280.0" cy="367.8" rx="1.3" ry="1.0" transform="rotate(37 280.0 367.8)" fill="#e9dfd2"/>
<ellipse cx="254.5" cy="352.3" rx="4.6" ry="3.4" transform="rotate(102 254.5 352.3)" fill="#a27f76" stroke="#9a746a" stroke-width="1.6" fill-opacity="0.85" stroke-opacity="0.85"/>
<ellipse cx="258.8" cy="372.4" rx="6.6" ry="5.5" transform="rotate(124 258.8 372.4)" fill="#a27f76" stroke="#86625e" stroke-width="1.6" fill-opacity="0.85" stroke-opacity="0.85"/>
<ellipse cx="292.7" cy="373.2" rx="8.3" ry="5.5" transform="rotate(172 292.7 373.2)" fill="#a27f76" stroke="#86625e" stroke-width="1.6" fill-opacity="0.85" stroke-opacity="0.85"/>
<ellipse cx="292.7" cy="373.2" rx="2.5" ry="1.7" transform="rotate(172 292.7 373.2)" fill="#e9dfd2"/>
<ellipse cx="346.9" cy="329.5" rx="7.0" ry="4.2" transform="rotate(96 346.9 329.5)" fill="#a27f76" stroke="#906a62" stroke-width="1.6" fill-opacity="0.85" stroke-opacity="0.85"/>
<ellipse cx="328.7" cy="341.3" rx="5.2" ry="4.2" transform="rotate(17 328.7 341.3)" fill="#ab8a82" stroke="#906a62" stroke-width="1.6" fill-opacity="0.85" stroke-opacity="0.85"/>
<ellipse cx="314.7" cy="340.1" rx="7.6" ry="7.1" transform="rotate(150 314.7 340.1)" fill="#a27f76" stroke="#9a746a" stroke-width="1.6" fill-opacity="0.85" stroke-opacity="0.85"/>
<ellipse cx="299.5" cy="346.8" rx="4.7" ry="3.5" transform="rotate(101 299.5 346.8)" fill="#a27f76" stroke="#86625e" stroke-width="1.6" fill-opacity="0.85" stroke-opacity="0.85"/>
<ellipse cx="337.6" cy="362.2" rx="7.9" ry="7.3" transform="rotate(108 337.6 362.2)" fill="#a27f76" stroke="#86625e" stroke-width="1.6" fill-opacity="0.85" stroke-opacity="0.85"/>
<ellipse cx="303.0" cy="366.0" rx="5.6" ry="3.3" transform="rotate(139 303.0 366.0)" fill="#a27f76" stroke="#86625e" stroke-width="1.6" fill-opacity="0.85" stroke-opacity="0.85"/>
<ellipse cx="322.0" cy="369.9" rx="8.0" ry="7.1" transform="rotate(107 322.0 369.9)" fill="#97746b" stroke="#86625e" stroke-width="1.6" fill-opacity="0.85" stroke-opacity="0.85"/>
<ellipse cx="322.0" cy="369.9" rx="2.4" ry="2.1" transform="rotate(107 322.0 369.9)" fill="#e9dfd2"/>
<ellipse cx="326.2" cy="369.9" rx="5.1" ry="3.2" transform="rotate(140 326.2 369.9)" fill="#ab8a82" stroke="#9a746a" stroke-width="1.6" fill-opacity="0.85" stroke-opacity="0.85"/>
<ellipse cx="310.5" cy="349.4" rx="4.4" ry="2.8" transform="rotate(82 310.5 349.4)" fill="#a27f76" stroke="#86625e" stroke-width="1.6" fill-opacity="0.85" stroke-opacity="0.85"/>
<ellipse cx="287.9" cy="390.7" rx="4.9" ry="3.1" transform="rotate(82 287.9 390.7)" fill="#ab8a82" stroke="#86625e" stroke-width="1.6" fill-opacity="0.85" stroke-opacity="0.85"/>
<ellipse cx="326.1" cy="359.4" rx="5.9" ry="3.5" transform="rotate(53 326.1 359.4)" fill="#97746b" stroke="#906a62" stroke-width="1.6" fill-opacity="0.85" stroke-opacity="0.85"/>
<ellipse cx="328.4" cy="374.4" rx="7.0" ry="3.9" transform="rotate(165 328.4 374.4)" fill="#ab8a82" stroke="#86625e" stroke-width="1.6" fill-opacity="0.85" stroke-opacity="0.85"/>
<ellipse cx="328.4" cy="374.4" rx="2.1" ry="1.2" transform="rotate(165 328.4 374.4)" fill="#e9dfd2"/>
<ellipse cx="258.9" cy="381.2" rx="7.0" ry="4.7" transform="rotate(108 258.9 381.2)" fill="#a27f76" stroke="#906a62" stroke-width="1.6" fill-opacity="0.85" stroke-opacity="0.85"/>
<ellipse cx="272.2" cy="365.8" rx="8.1" ry="5.7" transform="rotate(4 272.2 365.8)" fill="#97746b" stroke="#9a746a" stroke-width="1.6" fill-opacity="0.85" stroke-opacity="0.85"/>
<ellipse cx="254.9" cy="365.9" rx="8.0" ry="5.3" transform="rotate(171 254.9 365.9)" fill="#97746b" stroke="#906a62" stroke-width="1.6" fill-opacity="0.85" stroke-opacity="0.85"/>
<ellipse cx="254.9" cy="365.9" rx="2.4" ry="1.6" transform="rotate(171 254.9 365.9)" fill="#e9dfd2"/>
<ellipse cx="279.2" cy="379.9" rx="8.1" ry="5.3" transform="rotate(155 279.2 379.9)" fill="#a27f76" stroke="#9a746a" stroke-width="1.6" fill-opacity="0.85" stroke-opacity="0.85"/>
<ellipse cx="279.2" cy="379.9" rx="2.4" ry="1.6" transform="rotate(155 279.2 379.9)" fill="#e9dfd2"/>
<ellipse cx="247.1" cy="390.6" rx="5.5" ry="2.8" transform="rotate(124 247.1 390.6)" fill="#97746b" stroke="#9a746a" stroke-width="1.6" fill-opacity="0.85" stroke-opacity="0.85"/>
<ellipse cx="339.7" cy="312.6" rx="4.5" ry="2.4" transform="rotate(144 339.7 312.6)" fill="#a27f76" stroke="#906a62" stroke-width="1.6" fill-opacity="0.85" stroke-opacity="0.85"/>
<ellipse cx="298.9" cy="383.7" rx="7.7" ry="5.1" transform="rotate(69 298.9 383.7)" fill="#a27f76" stroke="#9a746a" stroke-width="1.6" fill-opacity="0.85" stroke-opacity="0.85"/>
<ellipse cx="292.5" cy="311.6" rx="6.3" ry="3.7" transform="rotate(28 292.5 311.6)" fill="#ab8a82" stroke="#9a746a" stroke-width="1.6" fill-opacity="0.85" stroke-opacity="0.85"/>
<ellipse cx="280.9" cy="385.9" rx="6.1" ry="5.2" transform="rotate(85 280.9 385.9)" fill="#a27f76" stroke="#9a746a" stroke-width="1.6" fill-opacity="0.85" stroke-opacity="0.85"/>
<ellipse cx="280.9" cy="385.9" rx="1.8" ry="1.6" transform="rotate(85 280.9 385.9)" fill="#e9dfd2"/>
<ellipse cx="355.4" cy="367.6" rx="6.6" ry="4.0" transform="rotate(54 355.4 367.6)" fill="#97746b" stroke="#86625e" stroke-width="1.6" fill-opacity="0.85" stroke-opacity="0.85"/>
<ellipse cx="276.4" cy="366.6" rx="7.1" ry="5.6" transform="rotate(100 276.4 366.6)" fill="#97746b" stroke="#906a62" stroke-width="1.6" fill-opacity="0.85" stroke-opacity="0.85"/>
<ellipse cx="289.0" cy="386.1" rx="4.5" ry="3.8" transform="rotate(38 289.0 386.1)" fill="#97746b" stroke="#86625e" stroke-width="1.6" fill-opacity="0.85" stroke-opacity="0.85"/>
<ellipse cx="304.6" cy="321.5" rx="6.1" ry="3.2" transform="rotate(32 304.6 321.5)" fill="#a27f76" stroke="#86625e" stroke-width="1.6" fill-opacity="0.85" stroke-opacity="0.85"/>
<ellipse cx="319.5" cy="333.5" rx="6.8" ry="3.5" transform="rotate(99 319.5 333.5)" fill="#ab8a82" stroke="#906a62" stroke-width="1.6" fill-opacity="0.85" stroke-opacity="0.85"/>
<ellipse cx="327.0" cy="339.2" rx="5.4" ry="4.5" transform="rotate(130 327.0 339.2)" fill="#a27f76" stroke="#86625e" stroke-width="1.6" fill-opacity="0.85" stroke-opacity="0.85"/>
<ellipse cx="338.8" cy="325.8" rx="4.7" ry="3.7" transform="rotate(97 338.8 325.8)" fill="#a27f76" stroke="#906a62" stroke-width="1.6" fill-opacity="0.85" stroke-opacity="0.85"/>
<ellipse cx="260.7" cy="361.0" rx="4.2" ry="3.9" transform="rotate(42 260.7 361.0)" fill="#97746b" stroke="#9a746a" stroke-width="1.6" fill-opacity="0.85" stroke-opacity="0.85"/>
<ellipse cx="304.9" cy="310.7" rx="8.2" ry="5.0" transform="rotate(129 304.9 310.7)" fill="#97746b" stroke="#86625e" stroke-width="1.6" fill-opacity="0.85" stroke-opacity="0.85"/>
<ellipse cx="331.5" cy="321.3" rx="8.3" ry="4.7" transform="rotate(28 331.5 321.3)" fill="#97746b" stroke="#86625e" stroke-width="1.6" fill-opacity="0.85" stroke-opacity="0.85"/>
<ellipse cx="347.9" cy="317.1" rx="4.1" ry="3.8" transform="rotate(98 347.9 317.1)" fill="#a27f76" stroke="#9a746a" stroke-width="1.6" fill-opacity="0.85" stroke-opacity="0.85"/>
<ellipse cx="347.9" cy="317.1" rx="1.2" ry="1.1" transform="rotate(98 347.9 317.1)" fill="#e9dfd2"/>
<ellipse cx="312.0" cy="310.0" rx="7.2" ry="6.4" transform="rotate(36 312.0 310.0)" fill="#a27f76" stroke="#9a746a" stroke-width="1.6" fill-opacity="0.85" stroke-opacity="0.85"/>
<ellipse cx="344.1" cy="339.7" rx="7.6" ry="4.0" transform="rotate(143 344.1 339.7)" fill="#97746b" stroke="#9a746a" stroke-width="1.6" fill-opacity="0.85" stroke-opacity="0.85"/>
<ellipse cx="344.1" cy="339.7" rx="2.3" ry="1.2" transform="rotate(143 344.1 339.7)" fill="#e9dfd2"/>
<ellipse cx="307.1" cy="368.5" rx="4.0" ry="3.4" transform="rotate(20 307.1 368.5)" fill="#97746b" stroke="#906a62" stroke-width="1.6" fill-opacity="0.85" stroke-opacity="0.85"/>
<ellipse cx="307.1" cy="368.5" rx="1.2" ry="1.0" transform="rotate(20 307.1 368.5)" fill="#e9dfd2"/>
</g>
<path d="M351.3 374.7h.01M346.2 369.3h.01M353.4 366.4h.01M253.3 385.7h.01M326.9 318.8h.01M281.9 348.0h.01M346.3 312.5h.01M261.8 373.6h.01M277.8 341.2h.01M345.5 337.9h.01M312.4 376.0h.01M309.2 356.4h.01M354.6 377.6h.01M307.0 329.4h.01M317.7 312.7h.01M295.3 378.1h.01M297.0 328.8h.01M289.8 371.9h.01M302.8 349.2h.01M256.8 351.1h.01M312.5 376.4h.01M246.6 342.4h.01M354.5 379.5h.01M319.1 345.0h.01M262.4 388.7h.01M255.6 340.9h.01M288.0 352.2h.01M349.0 337.1h.01M287.5 352.5h.01M324.4 355.5h.01M309.8 386.1h.01M313.1 359.3h.01M321.1 330.3h.01M309.6 348.0h.01M323.7 382.2h.01M346.8 315.3h.01M329.2 313.1h.01M325.6 363.6h.01M323.3 334.2h.01M302.8 367.8h.01M343.3 312.6h.01M299.6 318.8h.01M313.9 311.7h.01M318.3 309.7h.01M248.6 376.0h.01M274.5 372.5h.01M281.7 338.8h.01M313.4 350.1h.01M265.5 317.8h.01M339.4 307.9h.01M251.4 379.3h.01M327.3 386.0h.01M254.7 387.3h.01M247.4 322.3h.01M344.7 367.5h.01M321.1 345.0h.01M335.2 371.7h.01M319.5 319.6h.01M320.2 361.9h.01M335.1 322.7h.01M267.6 360.3h.01M351.3 335.0h.01M254.3 352.8h.01M275.0 320.5h.01M294.7 321.6h.01M328.3 375.9h.01M288.3 363.5h.01M264.4 381.2h.01M320.1 365.8h.01M301.0 360.7h.01M327.4 336.4h.01M264.5 376.0h.01M320.8 348.3h.01M353.8 312.1h.01M245.8 323.6h.01M293.4 376.5h.01M293.1 312.7h.01M256.5 364.3h.01M285.9 373.0h.01M308.3 308.3h.01M282.9 323.1h.01M285.7 370.2h.01M275.2 362.2h.01M254.0 336.8h.01M274.7 351.7h.01M267.1 392.9h.01M344.4 356.0h.01" stroke="#6a58a6" stroke-width="1.9" stroke-linecap="round" fill="none" stroke-opacity="0.85"/>
<path d="M280.2 351.2h.01M258.4 351.8h.01M283.7 338.7h.01M319.8 343.5h.01M305.7 306.7h.01M279.7 315.1h.01M248.2 336.3h.01M351.4 334.4h.01M250.8 311.5h.01M269.3 324.0h.01M272.5 320.1h.01M295.5 344.8h.01M267.1 363.6h.01M299.3 385.0h.01M320.0 310.6h.01M301.2 352.2h.01M273.7 323.4h.01M276.5 336.6h.01M295.6 350.8h.01M314.0 307.7h.01M324.5 323.5h.01M265.5 347.4h.01M318.2 338.2h.01M280.1 356.1h.01M247.5 307.8h.01M349.9 383.0h.01M255.2 332.1h.01M278.0 336.7h.01M250.8 348.2h.01M284.1 355.0h.01M316.4 361.0h.01M261.0 338.2h.01M304.6 323.6h.01M295.6 309.1h.01M286.1 381.7h.01M288.7 319.5h.01M263.0 313.0h.01M280.1 376.5h.01M340.1 354.8h.01M260.6 347.2h.01M302.8 342.2h.01M331.6 339.2h.01M354.1 362.3h.01M319.6 333.1h.01M260.7 370.7h.01M298.6 356.5h.01M340.8 336.0h.01M265.4 328.0h.01M252.9 385.0h.01M295.9 385.8h.01M273.2 349.6h.01M318.7 371.2h.01M301.9 346.1h.01M332.8 392.8h.01M320.2 332.2h.01M272.3 355.6h.01M347.0 373.2h.01M338.2 373.4h.01M314.4 374.5h.01M333.2 349.2h.01M255.3 311.0h.01M280.4 355.1h.01M274.5 352.3h.01M264.7 333.5h.01M344.0 354.2h.01M284.4 347.6h.01M342.9 358.6h.01M329.3 345.5h.01M295.9 352.8h.01M306.8 335.0h.01M250.7 383.4h.01M306.1 362.0h.01M281.1 358.0h.01M340.2 368.9h.01M322.0 352.6h.01M252.4 344.8h.01M246.5 354.3h.01M272.7 392.8h.01M317.0 366.6h.01M250.7 333.2h.01M276.0 368.5h.01M305.7 373.3h.01M337.8 338.3h.01M281.0 339.3h.01M343.5 319.4h.01M337.2 366.3h.01M331.3 354.0h.01" stroke="#7462b0" stroke-width="2.25" stroke-linecap="round" fill="none" stroke-opacity="0.85"/>
<path d="M312.2 333.6h.01M268.3 369.0h.01M321.9 342.9h.01M352.9 361.5h.01M273.4 358.8h.01M314.3 382.7h.01M252.5 322.4h.01M272.1 312.1h.01M340.9 330.5h.01M316.6 325.3h.01M320.0 342.5h.01M333.6 366.7h.01M332.9 359.5h.01M349.9 364.5h.01M292.9 308.3h.01M264.6 322.0h.01M275.8 312.4h.01M256.0 357.1h.01M349.7 329.8h.01M269.7 329.1h.01M253.6 353.5h.01M251.3 343.5h.01M336.2 335.8h.01M292.6 320.4h.01M279.9 352.9h.01M335.2 377.1h.01M317.7 347.1h.01M292.3 365.6h.01M278.1 390.0h.01M288.1 388.7h.01M324.6 323.5h.01M289.4 389.8h.01M256.9 327.1h.01M341.6 330.4h.01M274.0 358.8h.01M281.4 326.6h.01M292.3 313.4h.01M332.0 314.0h.01M282.3 311.1h.01M259.5 377.4h.01M281.4 384.2h.01M269.4 315.7h.01M305.6 377.9h.01M348.7 366.1h.01M274.2 333.0h.01M291.2 369.2h.01M293.6 360.0h.01M253.8 323.3h.01M266.4 357.2h.01M305.2 363.2h.01M348.6 310.8h.01M314.4 377.3h.01M270.5 323.6h.01M352.0 373.7h.01M302.9 310.2h.01M288.6 306.1h.01M252.4 348.8h.01M340.2 316.6h.01M290.5 329.8h.01M311.5 388.5h.01M322.6 323.1h.01M343.6 309.6h.01M320.6 372.3h.01M274.3 325.3h.01M275.7 330.2h.01M327.6 379.0h.01M300.8 353.1h.01M288.9 327.4h.01M330.9 344.2h.01M254.3 350.4h.01M264.4 356.9h.01M270.1 312.7h.01M256.2 381.7h.01M276.6 337.7h.01M300.7 329.5h.01M323.7 342.0h.01M270.3 365.3h.01M284.7 358.4h.01M255.1 384.4h.01M278.9 342.2h.01M273.9 372.5h.01M265.0 355.6h.01M312.9 358.8h.01M308.5 349.7h.01M299.1 385.7h.01M327.5 383.8h.01" stroke="#5a4896" stroke-width="2.5999999999999996" stroke-linecap="round" fill="none" stroke-opacity="0.85"/>
</g>
<rect x="246.20" y="306.40" width="109.10" height="86.20" fill="none" stroke="#7d7d7d" stroke-width="1.0"/>
<rect x="54.4" y="248.8" width="55.90" height="43.40" fill="none" stroke="#222" stroke-width="0.9"/>
<line x1="54.40" y1="292.20" x2="22.50" y2="302.10" stroke="#222" stroke-width="0.8" />
<line x1="110.30" y1="292.20" x2="130.70" y2="302.10" stroke="#222" stroke-width="0.8" />
<rect x="170.0" y="219.7" width="55.50" height="43.80" fill="none" stroke="#222" stroke-width="0.9"/>
<line x1="170.00" y1="263.50" x2="134.10" y2="302.10" stroke="#222" stroke-width="0.8" />
<line x1="225.50" y1="263.50" x2="243.50" y2="302.10" stroke="#222" stroke-width="0.8" />
<rect x="289.3" y="234.4" width="55.20" height="42.90" fill="none" stroke="#222" stroke-width="0.9"/>
<line x1="289.30" y1="277.30" x2="246.50" y2="302.10" stroke="#222" stroke-width="0.8" />
<line x1="344.50" y1="277.30" x2="355.30" y2="302.10" stroke="#222" stroke-width="0.8" />
<line x1="27.50" y1="222.00" x2="65.50" y2="222.00" stroke="#000" stroke-width="2.0" />
<text x="46.00" y="228.60" font-size="5.2" text-anchor="middle" fill="#222" >200μm</text>
<line x1="26.30" y1="312.40" x2="50.00" y2="312.40" stroke="#000" stroke-width="2.0" />
<text x="38.00" y="318.60" font-size="5.2" text-anchor="middle" fill="#222" >60μm</text>
<text x="146.80" y="424.80" font-size="12.6" font-weight="bold" text-anchor="middle" fill="#000" >GNG4</text>
<text transform="translate(49.70,499.80) rotate(-90)" font-size="11.06" font-weight="bold" text-anchor="middle" fill="#000">Relative mRNA expression</text>
<line x1="77.70" y1="430.30" x2="77.70" y2="481.50" stroke="#000" stroke-width="1.4" />
<line x1="77.70" y1="493.50" x2="77.70" y2="569.20" stroke="#000" stroke-width="1.4" />
<line x1="73.90" y1="481.50" x2="81.50" y2="481.50" stroke="#000" stroke-width="1.2" />
<text x="68.40" y="485.10" font-size="10" font-weight="bold" text-anchor="end" fill="#000" >12</text>
<line x1="72.10" y1="456.35" x2="77.70" y2="456.35" stroke="#000" stroke-width="1.2" />
<text x="68.40" y="459.95" font-size="10" font-weight="bold" text-anchor="end" fill="#000" >16</text>
<line x1="72.10" y1="431.20" x2="77.70" y2="431.20" stroke="#000" stroke-width="1.2" />
<text x="68.40" y="434.80" font-size="10" font-weight="bold" text-anchor="end" fill="#000" >20</text>
<line x1="72.10" y1="568.50" x2="77.70" y2="568.50" stroke="#000" stroke-width="1.2" />
<text x="69.40" y="572.10" font-size="10" font-weight="bold" text-anchor="end" fill="#000" >0</text>
<line x1="72.10" y1="543.56" x2="77.70" y2="543.56" stroke="#000" stroke-width="1.2" />
<text x="69.40" y="547.16" font-size="10" font-weight="bold" text-anchor="end" fill="#000" >2</text>
<line x1="72.10" y1="518.62" x2="77.70" y2="518.62" stroke="#000" stroke-width="1.2" />
<text x="69.40" y="522.22" font-size="10" font-weight="bold" text-anchor="end" fill="#000" >4</text>
<line x1="73.90" y1="493.68" x2="81.50" y2="493.68" stroke="#000" stroke-width="1.2" />
<text x="69.40" y="497.28" font-size="10" font-weight="bold" text-anchor="end" fill="#000" >6</text>
<line x1="77.00" y1="568.50" x2="215.40" y2="568.50" stroke="#000" stroke-width="1.4" />
<line x1="105.20" y1="568.50" x2="105.20" y2="573.20" stroke="#000" stroke-width="1.2" />
<text x="105.20" y="586.70" font-size="10.2" font-weight="bold" text-anchor="middle" fill="#000" >LNCaP</text>
<rect x="92.20" y="467.04" width="26.00" height="14.46" fill="#efbc68" stroke="#e8a13a" stroke-width="1.8"/>
<rect x="92.20" y="493.68" width="26.00" height="74.22" fill="#efbc68" stroke="#e8a13a" stroke-width="1.8"/>
<rect x="92.90" y="480.50" width="24.60" height="2" fill="#efbc68"/>
<rect x="92.90" y="492.68" width="24.60" height="2" fill="#efbc68"/>
<line x1="147.05" y1="568.50" x2="147.05" y2="573.20" stroke="#000" stroke-width="1.2" />
<text x="147.05" y="586.70" font-size="10.2" font-weight="bold" text-anchor="middle" fill="#000" >DU145</text>
<rect x="134.30" y="528.60" width="25.50" height="39.30" fill="#a7d6bd" stroke="#84c6a4" stroke-width="1.8"/>
<line x1="188.15" y1="568.50" x2="188.15" y2="573.20" stroke="#000" stroke-width="1.2" />
<text x="188.15" y="586.70" font-size="10.2" font-weight="bold" text-anchor="middle" fill="#000" >WPMY-1</text>
<rect x="175.20" y="555.78" width="25.90" height="12.12" fill="#65b2d8" stroke="#3b95c8" stroke-width="1.8"/>
<line x1="105.20" y1="463.70" x2="105.20" y2="466.60" stroke="#e8a13a" stroke-width="1.2" />
<line x1="99.70" y1="464.20" x2="111.90" y2="464.20" stroke="#e8a13a" stroke-width="1.3" />
<circle cx="105.2" cy="463.2" r="2.4" fill="#e8a13a"/>
<circle cx="93.0" cy="467.3" r="2.4" fill="#e8a13a"/>
<circle cx="117.4" cy="467.3" r="2.4" fill="#e8a13a"/>
<line x1="147.00" y1="522.20" x2="147.00" y2="528.80" stroke="#84c6a4" stroke-width="1.2" />
<line x1="139.40" y1="522.20" x2="154.50" y2="522.20" stroke="#84c6a4" stroke-width="1.3" />
<circle cx="147" cy="521.8" r="2.4" fill="#84c6a4"/>
<circle cx="141.5" cy="532.3" r="2.4" fill="#84c6a4"/>
<circle cx="152.5" cy="532.3" r="2.4" fill="#84c6a4"/>
<circle cx="188.2" cy="555.2" r="2.4" fill="#3b95c8"/>
<circle cx="177" cy="556.3" r="2.4" fill="#3b95c8"/>
<circle cx="199.5" cy="556.3" r="2.4" fill="#3b95c8"/>
<polyline points="105.2,456.4 105.2,448.2 188.2,448.2 188.2,480.9" fill="none" stroke="#000" stroke-width="1.2"/>
<polyline points="147,513.6 147,500.3 188.2,500.3 188.2,547.5" fill="none" stroke="#000" stroke-width="1.2"/>
<text x="147.20" y="449.80" font-size="21" font-weight="bold" text-anchor="middle" fill="#000" >****</text>
<text x="167.70" y="500.90" font-size="20.6" font-weight="bold" text-anchor="middle" fill="#000" >***</text>
<text x="620.20" y="211.50" font-size="10.7" text-anchor="middle" fill="#111" >TCGA-PRAD</text>
<rect x="562.00" y="220.00" width="57.11" height="9.7" fill="#86e2f0"/>
<text x="556.60" y="228.30" font-size="9.1" text-anchor="end" fill="#111" >HALLMARK CHOLESTEROL HOMEOSTASIS</text>
<rect x="562.00" y="234.03" width="60.21" height="9.7" fill="#80dcea"/>
<text x="556.60" y="242.33" font-size="9.1" text-anchor="end" fill="#111" >ERK SIGNALING PATHWAY</text>
<rect x="562.00" y="248.06" width="60.59" height="9.7" fill="#7bd6e4"/>
<text x="556.60" y="256.36" font-size="9.1" text-anchor="end" fill="#111" >HALLMARK ANDROGEN RESPONSE</text>
<rect x="562.00" y="262.09" width="63.30" height="9.7" fill="#75d0df"/>
<text x="556.60" y="270.39" font-size="9.1" text-anchor="end" fill="#111" >LYSOSOME</text>
<rect x="562.00" y="276.12" width="64.08" height="9.7" fill="#70cad9"/>
<text x="556.60" y="284.42" font-size="9.1" text-anchor="end" fill="#111" >PI3K SIGNALING PATHWAY</text>
<rect x="562.00" y="290.15" width="64.85" height="9.7" fill="#6bc4d4"/>
<text x="556.60" y="298.45" font-size="9.1" text-anchor="end" fill="#111" >HALLMARK XENOBIOTIC METABOLISM</text>
<rect x="562.00" y="304.18" width="66.79" height="9.7" fill="#65bfce"/>
<text x="556.60" y="312.48" font-size="9.1" text-anchor="end" fill="#111" >HALLMARK APICAL SURFACE</text>
<rect x="562.00" y="318.21" width="69.11" height="9.7" fill="#60b9c9"/>
<text x="556.60" y="326.51" font-size="9.1" text-anchor="end" fill="#111" >GLUTATHIONE METABOLISM</text>
<rect x="562.00" y="332.24" width="69.50" height="9.7" fill="#5bb3c3"/>
<text x="556.60" y="340.54" font-size="9.1" text-anchor="end" fill="#111" >FATTY ACID METABOLISM</text>
<rect x="562.00" y="346.27" width="69.50" height="9.7" fill="#55adbe"/>
<text x="556.60" y="354.57" font-size="9.1" text-anchor="end" fill="#111" >WNT SIGNALING MODULATION</text>
<rect x="562.00" y="360.30" width="80.73" height="9.7" fill="#50a7b8"/>
<text x="556.60" y="368.60" font-size="9.1" text-anchor="end" fill="#111" >HALLMARK ESTROGEN RESPONSE EARLY</text>
<rect x="562.00" y="374.33" width="105.91" height="9.7" fill="#4ba2b3"/>
<text x="556.60" y="382.63" font-size="9.1" text-anchor="end" fill="#111" >HALLMARK MYOGENESIS</text>
<line x1="561.40" y1="214.50" x2="561.40" y2="388.50" stroke="#000" stroke-width="1.4" />
<line x1="560.70" y1="387.80" x2="678.20" y2="387.80" stroke="#000" stroke-width="1.4" />
<line x1="561.40" y1="387.80" x2="561.40" y2="393.70" stroke="#000" stroke-width="1.2" />
<text x="561.40" y="404.80" font-size="9.0" text-anchor="middle" fill="#111" >0</text>
<line x1="600.13" y1="387.80" x2="600.13" y2="393.70" stroke="#000" stroke-width="1.2" />
<text x="600.13" y="404.80" font-size="9.0" text-anchor="middle" fill="#111" >1</text>
<line x1="638.86" y1="387.80" x2="638.86" y2="393.70" stroke="#000" stroke-width="1.2" />
<text x="638.86" y="404.80" font-size="9.0" text-anchor="middle" fill="#111" >2</text>
<line x1="677.59" y1="387.80" x2="677.59" y2="393.70" stroke="#000" stroke-width="1.2" />
<text x="677.59" y="404.80" font-size="9.0" text-anchor="middle" fill="#111" >3</text>
<text x="619.60" y="413.40" font-size="9.7" text-anchor="middle" fill="#111" >Normalized Enrichment Score</text>
<text x="503.00" y="423.90" font-size="10.4" text-anchor="middle" fill="#111" >shCtrl v shGNG4</text>
<line x1="431.80" y1="428.30" x2="431.80" y2="711.70" stroke="#999" stroke-width="0.6"  stroke-dasharray="2,1.5"/>
<line x1="468.30" y1="428.30" x2="468.30" y2="711.70" stroke="#8c8c8c" stroke-width="0.9" />
<line x1="504.80" y1="428.30" x2="504.80" y2="711.70" stroke="#999" stroke-width="0.6"  stroke-dasharray="2,1.5"/>
<line x1="541.30" y1="428.30" x2="541.30" y2="711.70" stroke="#8c8c8c" stroke-width="0.9" />
<line x1="577.80" y1="428.30" x2="577.80" y2="711.70" stroke="#999" stroke-width="0.6"  stroke-dasharray="2,1.5"/>
<line x1="395.30" y1="463.82" x2="614.30" y2="463.82" stroke="#999" stroke-width="0.6"  stroke-dasharray="2,1.5"/>
<line x1="392.30" y1="499.46" x2="614.30" y2="499.46" stroke="#8c8c8c" stroke-width="0.9" />
<line x1="395.30" y1="535.10" x2="614.30" y2="535.10" stroke="#999" stroke-width="0.6"  stroke-dasharray="2,1.5"/>
<line x1="392.30" y1="570.74" x2="614.30" y2="570.74" stroke="#8c8c8c" stroke-width="0.9" />
<line x1="395.30" y1="606.38" x2="614.30" y2="606.38" stroke="#999" stroke-width="0.6"  stroke-dasharray="2,1.5"/>
<line x1="392.30" y1="642.02" x2="614.30" y2="642.02" stroke="#8c8c8c" stroke-width="0.9" />
<line x1="395.30" y1="677.66" x2="614.30" y2="677.66" stroke="#999" stroke-width="0.6"  stroke-dasharray="2,1.5"/>
<rect x="395.3" y="428.3" width="219.00" height="283.40" fill="none" stroke="#111" stroke-width="1.2"/>
<circle cx="573.42" cy="446.00" r="7.6" fill="#e0a548"/>
<text x="390.80" y="449.70" font-size="10.4" text-anchor="end" fill="#111" >Epithelial mesenchymal transition</text>
<circle cx="570.50" cy="463.82" r="8.3" fill="#e0a548"/>
<text x="390.80" y="467.52" font-size="10.65" text-anchor="end" fill="#111" >Hallmark E2F targets</text>
<circle cx="569.04" cy="481.64" r="4.0" fill="#e0a548"/>
<text x="390.80" y="485.34" font-size="10.65" text-anchor="end" fill="#111" >DNA replication</text>
<circle cx="550.06" cy="499.46" r="8.4" fill="#e0a548"/>
<text x="390.80" y="503.16" font-size="10.65" text-anchor="end" fill="#111" >Hallmark G2M checkpoint</text>
<circle cx="539.84" cy="517.28" r="4.0" fill="#e0a548"/>
<text x="390.80" y="520.98" font-size="10.65" text-anchor="end" fill="#111" >GOBP Cell cycle DNA replication</text>
<circle cx="534.00" cy="535.10" r="9.2" fill="#e0a548"/>
<text x="390.80" y="538.80" font-size="10.65" text-anchor="end" fill="#111" >Metastasis up</text>
<circle cx="512.10" cy="552.92" r="8.9" fill="#e0a548"/>
<text x="390.80" y="556.62" font-size="10.65" text-anchor="end" fill="#111" >Hallmark MYC targets</text>
<circle cx="510.64" cy="570.74" r="6.6" fill="#e0a548"/>
<text x="390.80" y="573.54" font-size="7.8" text-anchor="end" fill="#111" >GOMF ATP dependent activity acting on DNA</text>
<circle cx="497.50" cy="588.56" r="5.2" fill="#e0a548"/>
<text x="390.80" y="592.26" font-size="10.65" text-anchor="end" fill="#111" >GOBP Protein autoubiquitination</text>
<circle cx="487.28" cy="606.38" r="3.6" fill="#e4b27c"/>
<text x="390.80" y="610.08" font-size="10.65" text-anchor="end" fill="#111" >Prostate cancer</text>
<circle cx="485.82" cy="624.20" r="7.6" fill="#e0a548"/>
<text x="390.80" y="627.90" font-size="10.65" text-anchor="end" fill="#111" >Hallmark DNA repair</text>
<circle cx="485.82" cy="642.02" r="7.4" fill="#dda860"/>
<text x="390.80" y="645.72" font-size="10.65" text-anchor="end" fill="#111" >Proliferation</text>
<circle cx="482.90" cy="659.84" r="3.1" fill="#e6bfa5"/>
<text x="390.80" y="663.54" font-size="10.65" text-anchor="end" fill="#111" >Protein export</text>
<circle cx="455.16" cy="677.66" r="5.0" fill="#7cb5da"/>
<text x="390.80" y="681.36" font-size="10.65" text-anchor="end" fill="#111" >AR Pathway</text>
<circle cx="439.10" cy="695.48" r="7.6" fill="#5ba6d0"/>
<text x="390.80" y="699.18" font-size="10.65" text-anchor="end" fill="#111" >Ubiquitin mediated proteolysis</text>
<line x1="395.30" y1="711.70" x2="395.30" y2="715.70" stroke="#000" stroke-width="1.0" />
<text x="395.30" y="729.50" font-size="10.4" text-anchor="middle" fill="#111" >1.0</text>
<line x1="431.80" y1="711.70" x2="431.80" y2="714.20" stroke="#000" stroke-width="1.0" />
<line x1="468.30" y1="711.70" x2="468.30" y2="715.70" stroke="#000" stroke-width="1.0" />
<text x="468.30" y="729.50" font-size="10.4" text-anchor="middle" fill="#111" >1.5</text>
<line x1="504.80" y1="711.70" x2="504.80" y2="714.20" stroke="#000" stroke-width="1.0" />
<line x1="541.30" y1="711.70" x2="541.30" y2="715.70" stroke="#000" stroke-width="1.0" />
<text x="541.30" y="729.50" font-size="10.4" text-anchor="middle" fill="#111" >2.0</text>
<line x1="577.80" y1="711.70" x2="577.80" y2="714.20" stroke="#000" stroke-width="1.0" />
<line x1="614.30" y1="711.70" x2="614.30" y2="715.70" stroke="#000" stroke-width="1.0" />
<text x="614.30" y="729.50" font-size="10.4" text-anchor="middle" fill="#111" >2.5</text>
<text x="504.50" y="745.20" font-size="9.8" text-anchor="middle" fill="#111" >Normalized Enrichment Score</text>
<defs><linearGradient id="pg" x1="0" y1="0" x2="0" y2="1"><stop offset="0" stop-color="#69b1ea"/><stop offset="0.3" stop-color="#bfc8e6"/><stop offset="0.5" stop-color="#ecdde0"/><stop offset="0.72" stop-color="#d9bb98"/><stop offset="1" stop-color="#bf8e45"/></linearGradient></defs>
<rect x="620.9" y="443.4" width="19.2" height="79.6" fill="url(#pg)"/>
<text x="620.90" y="440.50" font-size="9.1" text-anchor="start" fill="#111" ><tspan font-style="italic">p</tspan>-val</text>
<text x="641.80" y="447.20" font-size="9.0" text-anchor="start" fill="#111" >0.05</text>
<text x="641.80" y="526.00" font-size="9.0" text-anchor="start" fill="#111" >0</text>
<text x="620.00" y="547.30" font-size="8.9" text-anchor="start" fill="#111" >Count</text>
<circle cx="624.5" cy="553.8" r="1.8" fill="#000"/>
<text x="635.30" y="557.10" font-size="9.0" text-anchor="start" fill="#111" >20</text>
<circle cx="624.5" cy="567.6" r="3.9" fill="#000"/>
<text x="635.30" y="570.90" font-size="9.0" text-anchor="start" fill="#111" >60</text>
<circle cx="624.5" cy="584.0" r="7.0" fill="#000"/>
<text x="635.30" y="587.30" font-size="9.0" text-anchor="start" fill="#111" >200</text>
</svg>
</body></html>
